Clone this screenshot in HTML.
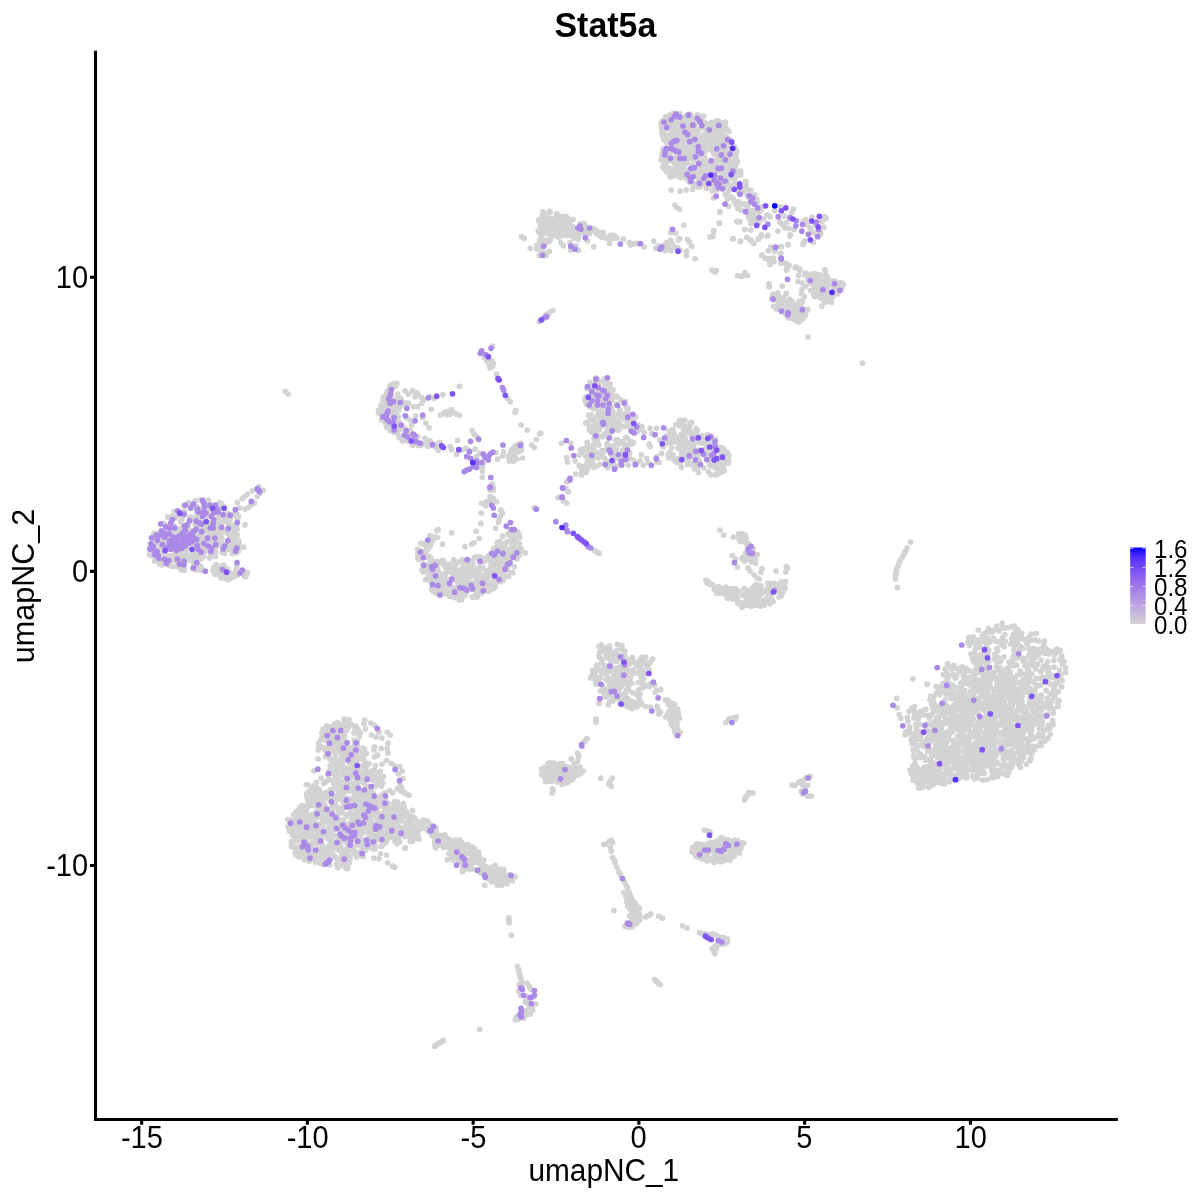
<!DOCTYPE html>
<html lang="en">
<head>
<meta charset="utf-8">
<title>Stat5a</title>
<style>
html,body{margin:0;padding:0;background:#fff;}
body{width:1200px;height:1200px;overflow:hidden;}
svg{display:block;will-change:transform;}
#pts circle{r:2.85px;}
text{font-family:"Liberation Sans",Arial,Helvetica,sans-serif;fill:#000;}
</style>
</head>
<body>
<svg width="1200" height="1200" viewBox="0 0 1200 1200">
<defs>
<linearGradient id="lg" x1="0" y1="1" x2="0" y2="0">
<stop offset="0" stop-color="#D3D3D3"/>
<stop offset="0.125" stop-color="#C8BCDA"/>
<stop offset="0.25" stop-color="#BBA5E0"/>
<stop offset="0.375" stop-color="#AD8EE6"/>
<stop offset="0.5" stop-color="#9D77EC"/>
<stop offset="0.625" stop-color="#8A60F1"/>
<stop offset="0.75" stop-color="#7248F6"/>
<stop offset="0.875" stop-color="#522DFB"/>
<stop offset="1" stop-color="#0000FF"/>
</linearGradient>
</defs>
<rect width="1200" height="1200" fill="#fff"/>
<!-- data points -->
<g id="pts"><g fill="#D3D3D3"><circle cx="1044.9" cy="741.1"/><circle cx="349.3" cy="762.7"/><circle cx="986.3" cy="712.1"/><circle cx="332.7" cy="842.9"/><circle cx="636.2" cy="916.2"/><circle cx="563.9" cy="225.1"/><circle cx="568.2" cy="229.0"/><circle cx="1014.7" cy="739.5"/><circle cx="482.3" cy="861.8"/><circle cx="968.3" cy="761.7"/><circle cx="952.6" cy="727.6"/><circle cx="541.7" cy="769.0"/><circle cx="201.7" cy="537.3"/><circle cx="767.5" cy="592.6"/><circle cx="933.4" cy="739.9"/><circle cx="572.0" cy="780.0"/><circle cx="217.8" cy="513.1"/><circle cx="435.1" cy="566.4"/><circle cx="396.5" cy="816.5"/><circle cx="921.4" cy="784.7"/><circle cx="704.2" cy="170.7"/><circle cx="398.5" cy="774.0"/><circle cx="1043.5" cy="666.1"/><circle cx="369.4" cy="837.1"/><circle cx="956.0" cy="743.9"/><circle cx="543.9" cy="228.0"/><circle cx="620.0" cy="416.6"/><circle cx="382.0" cy="407.6"/><circle cx="498.6" cy="545.3"/><circle cx="610.7" cy="454.1"/><circle cx="601.1" cy="644.8"/><circle cx="704.2" cy="830.0"/><circle cx="345.4" cy="814.5"/><circle cx="394.5" cy="400.7"/><circle cx="200.9" cy="569.0"/><circle cx="723.4" cy="843.3"/><circle cx="722.0" cy="133.4"/><circle cx="209.7" cy="534.1"/><circle cx="734.7" cy="185.3"/><circle cx="722.4" cy="169.9"/><circle cx="994.2" cy="677.2"/><circle cx="1014.5" cy="694.3"/><circle cx="1029.3" cy="676.4"/><circle cx="774.1" cy="297.3"/><circle cx="673.5" cy="721.0"/><circle cx="722.7" cy="124.3"/><circle cx="392.6" cy="409.5"/><circle cx="959.9" cy="668.3"/><circle cx="520.3" cy="450.6"/><circle cx="771.5" cy="258.5"/><circle cx="770.7" cy="584.0"/><circle cx="946.2" cy="732.9"/><circle cx="334.1" cy="760.6"/><circle cx="1010.1" cy="672.1"/><circle cx="402.9" cy="403.9"/><circle cx="961.6" cy="685.1"/><circle cx="564.4" cy="772.5"/><circle cx="198.2" cy="523.4"/><circle cx="695.0" cy="461.9"/><circle cx="392.2" cy="425.7"/><circle cx="716.3" cy="448.7"/><circle cx="367.5" cy="786.0"/><circle cx="453.3" cy="412.5"/><circle cx="224.1" cy="506.9"/><circle cx="313.7" cy="853.6"/><circle cx="697.3" cy="845.7"/><circle cx="431.1" cy="574.1"/><circle cx="674.6" cy="159.8"/><circle cx="679.1" cy="122.6"/><circle cx="729.9" cy="860.3"/><circle cx="359.8" cy="828.6"/><circle cx="346.9" cy="786.6"/><circle cx="443.2" cy="1040.4"/><circle cx="777.9" cy="292.9"/><circle cx="974.4" cy="671.0"/><circle cx="735.3" cy="588.5"/><circle cx="428.7" cy="541.6"/><circle cx="590.8" cy="678.0"/><circle cx="1028.5" cy="719.9"/><circle cx="423.0" cy="564.2"/><circle cx="1027.9" cy="692.5"/><circle cx="782.3" cy="224.2"/><circle cx="617.4" cy="396.9"/><circle cx="485.3" cy="869.0"/><circle cx="342.3" cy="744.3"/><circle cx="733.0" cy="238.8"/><circle cx="402.2" cy="771.0"/><circle cx="943.3" cy="758.7"/><circle cx="978.0" cy="687.9"/><circle cx="918.1" cy="780.3"/><circle cx="379.0" cy="732.0"/><circle cx="731.2" cy="163.5"/><circle cx="493.3" cy="498.3"/><circle cx="935.8" cy="725.2"/><circle cx="563.9" cy="231.1"/><circle cx="486.8" cy="571.5"/><circle cx="341.0" cy="748.1"/><circle cx="956.3" cy="747.0"/><circle cx="390.4" cy="430.7"/><circle cx="977.9" cy="752.4"/><circle cx="691.9" cy="171.3"/><circle cx="412.0" cy="841.2"/><circle cx="350.0" cy="783.0"/><circle cx="435.0" cy="561.9"/><circle cx="236.9" cy="566.0"/><circle cx="716.2" cy="948.8"/><circle cx="1000.8" cy="773.7"/><circle cx="1031.3" cy="681.6"/><circle cx="707.9" cy="444.2"/><circle cx="777.9" cy="231.2"/><circle cx="371.8" cy="800.2"/><circle cx="440.1" cy="591.9"/><circle cx="703.7" cy="116.0"/><circle cx="605.2" cy="670.7"/><circle cx="715.0" cy="463.7"/><circle cx="582.7" cy="452.3"/><circle cx="321.9" cy="733.0"/><circle cx="578.3" cy="250.3"/><circle cx="951.1" cy="698.3"/><circle cx="343.8" cy="774.0"/><circle cx="716.8" cy="144.4"/><circle cx="942.7" cy="774.0"/><circle cx="571.1" cy="232.2"/><circle cx="987.8" cy="655.1"/><circle cx="630.0" cy="908.8"/><circle cx="1021.7" cy="720.4"/><circle cx="354.6" cy="752.9"/><circle cx="668.3" cy="168.0"/><circle cx="678.9" cy="162.2"/><circle cx="745.5" cy="593.8"/><circle cx="228.6" cy="520.3"/><circle cx="638.5" cy="705.3"/><circle cx="913.6" cy="737.3"/><circle cx="497.7" cy="543.6"/><circle cx="727.0" cy="141.2"/><circle cx="176.0" cy="551.0"/><circle cx="1061.8" cy="656.2"/><circle cx="526.2" cy="996.4"/><circle cx="952.4" cy="684.9"/><circle cx="1031.9" cy="727.4"/><circle cx="952.3" cy="731.8"/><circle cx="485.1" cy="874.6"/><circle cx="341.1" cy="834.3"/><circle cx="783.1" cy="302.8"/><circle cx="1019.4" cy="757.5"/><circle cx="389.1" cy="401.5"/><circle cx="370.7" cy="772.4"/><circle cx="670.8" cy="710.3"/><circle cx="1000.4" cy="732.8"/><circle cx="718.6" cy="183.6"/><circle cx="446.8" cy="569.3"/><circle cx="549.8" cy="762.9"/><circle cx="1030.4" cy="749.2"/><circle cx="765.5" cy="258.5"/><circle cx="336.3" cy="825.8"/><circle cx="536.8" cy="249.0"/><circle cx="335.0" cy="841.7"/><circle cx="386.7" cy="396.1"/><circle cx="509.3" cy="922.8"/><circle cx="986.3" cy="719.8"/><circle cx="209.6" cy="558.1"/><circle cx="759.0" cy="602.8"/><circle cx="406.4" cy="816.8"/><circle cx="394.1" cy="814.2"/><circle cx="723.8" cy="937.5"/><circle cx="948.8" cy="675.7"/><circle cx="764.3" cy="604.6"/><circle cx="671.7" cy="437.7"/><circle cx="205.0" cy="506.9"/><circle cx="599.9" cy="391.5"/><circle cx="396.0" cy="419.1"/><circle cx="713.5" cy="152.7"/><circle cx="206.7" cy="513.4"/><circle cx="443.7" cy="839.2"/><circle cx="697.5" cy="116.0"/><circle cx="750.9" cy="555.2"/><circle cx="205.8" cy="543.7"/><circle cx="946.5" cy="742.8"/><circle cx="503.3" cy="451.7"/><circle cx="898.0" cy="566.0"/><circle cx="344.6" cy="754.1"/><circle cx="689.8" cy="424.7"/><circle cx="383.2" cy="831.8"/><circle cx="330.9" cy="853.6"/><circle cx="725.7" cy="844.1"/><circle cx="196.8" cy="538.2"/><circle cx="785.5" cy="301.3"/><circle cx="809.8" cy="227.8"/><circle cx="596.2" cy="721.2"/><circle cx="980.2" cy="738.5"/><circle cx="780.6" cy="585.9"/><circle cx="676.4" cy="145.1"/><circle cx="224.6" cy="547.3"/><circle cx="560.8" cy="242.5"/><circle cx="224.5" cy="518.3"/><circle cx="515.6" cy="555.2"/><circle cx="488.1" cy="591.5"/><circle cx="679.2" cy="156.9"/><circle cx="716.8" cy="446.4"/><circle cx="682.3" cy="453.9"/><circle cx="362.4" cy="854.1"/><circle cx="387.7" cy="862.8"/><circle cx="207.1" cy="526.2"/><circle cx="572.4" cy="769.9"/><circle cx="608.6" cy="402.9"/><circle cx="513.0" cy="876.5"/><circle cx="992.8" cy="774.9"/><circle cx="972.5" cy="718.0"/><circle cx="739.8" cy="221.3"/><circle cx="387.5" cy="807.7"/><circle cx="197.9" cy="522.3"/><circle cx="980.7" cy="773.3"/><circle cx="1024.7" cy="729.2"/><circle cx="476.1" cy="596.8"/><circle cx="160.7" cy="532.6"/><circle cx="602.9" cy="405.1"/><circle cx="306.9" cy="806.2"/><circle cx="1023.0" cy="751.6"/><circle cx="723.4" cy="181.3"/><circle cx="1038.6" cy="708.7"/><circle cx="1020.0" cy="674.4"/><circle cx="937.9" cy="727.1"/><circle cx="670.2" cy="115.1"/><circle cx="337.8" cy="867.8"/><circle cx="476.7" cy="456.7"/><circle cx="245.1" cy="524.9"/><circle cx="997.4" cy="685.7"/><circle cx="946.6" cy="673.2"/><circle cx="632.7" cy="912.5"/><circle cx="352.9" cy="761.6"/><circle cx="331.6" cy="849.9"/><circle cx="455.1" cy="587.5"/><circle cx="679.8" cy="116.0"/><circle cx="326.6" cy="816.7"/><circle cx="946.3" cy="681.4"/><circle cx="431.3" cy="565.0"/><circle cx="769.2" cy="286.8"/><circle cx="727.5" cy="856.7"/><circle cx="778.6" cy="591.2"/><circle cx="974.0" cy="725.8"/><circle cx="375.3" cy="840.5"/><circle cx="730.4" cy="174.0"/><circle cx="320.1" cy="802.1"/><circle cx="321.1" cy="778.1"/><circle cx="431.6" cy="835.0"/><circle cx="496.7" cy="374.2"/><circle cx="840.5" cy="282.7"/><circle cx="1042.9" cy="677.1"/><circle cx="394.3" cy="406.7"/><circle cx="680.9" cy="140.1"/><circle cx="896.7" cy="698.3"/><circle cx="605.2" cy="383.4"/><circle cx="980.4" cy="738.3"/><circle cx="444.7" cy="563.0"/><circle cx="966.9" cy="754.8"/><circle cx="933.3" cy="768.9"/><circle cx="568.3" cy="491.7"/><circle cx="1028.3" cy="682.6"/><circle cx="418.9" cy="442.7"/><circle cx="588.0" cy="398.9"/><circle cx="1013.0" cy="657.0"/><circle cx="978.1" cy="708.6"/><circle cx="788.8" cy="228.3"/><circle cx="964.6" cy="700.9"/><circle cx="487.2" cy="875.6"/><circle cx="954.3" cy="762.8"/><circle cx="344.3" cy="849.5"/><circle cx="706.8" cy="165.2"/><circle cx="730.0" cy="173.1"/><circle cx="911.3" cy="739.7"/><circle cx="454.8" cy="565.0"/><circle cx="391.1" cy="414.5"/><circle cx="520.1" cy="975.8"/><circle cx="389.9" cy="424.7"/><circle cx="315.9" cy="812.9"/><circle cx="709.9" cy="444.7"/><circle cx="222.2" cy="552.2"/><circle cx="991.9" cy="763.7"/><circle cx="979.1" cy="741.1"/><circle cx="693.6" cy="127.1"/><circle cx="340.6" cy="841.5"/><circle cx="331.8" cy="746.6"/><circle cx="734.5" cy="201.5"/><circle cx="930.1" cy="699.7"/><circle cx="1031.1" cy="640.2"/><circle cx="375.1" cy="845.5"/><circle cx="468.8" cy="860.8"/><circle cx="320.5" cy="837.4"/><circle cx="634.7" cy="904.3"/><circle cx="550.0" cy="232.3"/><circle cx="356.6" cy="728.3"/><circle cx="317.1" cy="837.3"/><circle cx="937.2" cy="769.2"/><circle cx="927.2" cy="684.2"/><circle cx="331.9" cy="766.1"/><circle cx="1013.2" cy="744.0"/><circle cx="710.6" cy="174.0"/><circle cx="988.4" cy="628.7"/><circle cx="802.9" cy="317.4"/><circle cx="621.4" cy="458.9"/><circle cx="1033.5" cy="648.7"/><circle cx="980.8" cy="745.1"/><circle cx="517.2" cy="448.4"/><circle cx="613.2" cy="446.1"/><circle cx="381.6" cy="824.5"/><circle cx="200.8" cy="559.0"/><circle cx="684.4" cy="124.6"/><circle cx="470.2" cy="589.3"/><circle cx="625.7" cy="692.9"/><circle cx="972.0" cy="641.1"/><circle cx="673.1" cy="115.8"/><circle cx="1004.9" cy="730.3"/><circle cx="592.7" cy="670.5"/><circle cx="774.0" cy="261.5"/><circle cx="725.1" cy="858.1"/><circle cx="928.0" cy="770.9"/><circle cx="1012.3" cy="686.6"/><circle cx="592.9" cy="458.5"/><circle cx="720.6" cy="593.0"/><circle cx="734.5" cy="589.6"/><circle cx="356.8" cy="800.6"/><circle cx="380.7" cy="819.8"/><circle cx="602.9" cy="420.6"/><circle cx="677.5" cy="170.3"/><circle cx="405.2" cy="848.2"/><circle cx="719.3" cy="157.1"/><circle cx="318.6" cy="826.7"/><circle cx="712.3" cy="135.4"/><circle cx="721.3" cy="845.6"/><circle cx="362.2" cy="846.7"/><circle cx="225.4" cy="544.9"/><circle cx="293.0" cy="842.3"/><circle cx="451.3" cy="409.7"/><circle cx="519.2" cy="984.5"/><circle cx="686.9" cy="143.9"/><circle cx="632.2" cy="659.5"/><circle cx="304.7" cy="837.2"/><circle cx="520.4" cy="445.8"/><circle cx="667.3" cy="714.9"/><circle cx="770.7" cy="262.2"/><circle cx="589.7" cy="233.6"/><circle cx="625.2" cy="460.5"/><circle cx="613.6" cy="677.5"/><circle cx="299.1" cy="857.0"/><circle cx="607.9" cy="390.7"/><circle cx="718.0" cy="592.9"/><circle cx="290.6" cy="828.8"/><circle cx="337.1" cy="746.9"/><circle cx="599.2" cy="553.3"/><circle cx="843.2" cy="284.8"/><circle cx="750.8" cy="223.7"/><circle cx="508.8" cy="920.6"/><circle cx="807.5" cy="785.0"/><circle cx="417.8" cy="834.8"/><circle cx="625.1" cy="445.3"/><circle cx="709.2" cy="460.2"/><circle cx="350.0" cy="858.7"/><circle cx="187.9" cy="543.3"/><circle cx="978.4" cy="773.1"/><circle cx="387.5" cy="393.5"/><circle cx="670.2" cy="171.1"/><circle cx="658.3" cy="245.8"/><circle cx="547.7" cy="228.5"/><circle cx="788.3" cy="318.0"/><circle cx="649.1" cy="672.5"/><circle cx="745.0" cy="203.8"/><circle cx="769.9" cy="584.2"/><circle cx="695.3" cy="456.6"/><circle cx="465.0" cy="546.7"/><circle cx="994.3" cy="699.9"/><circle cx="744.5" cy="541.5"/><circle cx="609.6" cy="417.4"/><circle cx="722.1" cy="126.3"/><circle cx="917.3" cy="783.1"/><circle cx="690.7" cy="151.8"/><circle cx="463.0" cy="570.8"/><circle cx="745.6" cy="184.2"/><circle cx="608.1" cy="669.8"/><circle cx="331.7" cy="792.1"/><circle cx="184.3" cy="561.6"/><circle cx="355.4" cy="786.2"/><circle cx="718.1" cy="848.7"/><circle cx="686.9" cy="115.2"/><circle cx="1047.6" cy="661.3"/><circle cx="896.6" cy="569.0"/><circle cx="711.1" cy="183.1"/><circle cx="750.5" cy="556.5"/><circle cx="641.8" cy="429.3"/><circle cx="616.7" cy="449.0"/><circle cx="615.3" cy="440.1"/><circle cx="958.4" cy="753.2"/><circle cx="680.1" cy="164.7"/><circle cx="476.3" cy="584.7"/><circle cx="781.6" cy="303.3"/><circle cx="1034.6" cy="738.2"/><circle cx="380.3" cy="826.2"/><circle cx="986.5" cy="720.4"/><circle cx="434.3" cy="589.9"/><circle cx="643.7" cy="678.8"/><circle cx="771.1" cy="598.2"/><circle cx="188.1" cy="524.7"/><circle cx="378.9" cy="410.6"/><circle cx="777.2" cy="584.5"/><circle cx="580.3" cy="449.7"/><circle cx="760.8" cy="210.2"/><circle cx="775.8" cy="591.2"/><circle cx="633.3" cy="460.0"/><circle cx="317.8" cy="806.9"/><circle cx="695.6" cy="148.9"/><circle cx="361.1" cy="840.1"/><circle cx="824.3" cy="284.1"/><circle cx="307.7" cy="784.5"/><circle cx="895.6" cy="575.0"/><circle cx="390.2" cy="812.9"/><circle cx="968.5" cy="769.8"/><circle cx="626.8" cy="664.8"/><circle cx="388.6" cy="402.5"/><circle cx="1028.4" cy="729.7"/><circle cx="960.9" cy="715.6"/><circle cx="395.2" cy="386.2"/><circle cx="221.7" cy="503.8"/><circle cx="1010.0" cy="682.1"/><circle cx="731.2" cy="588.7"/><circle cx="734.3" cy="856.1"/><circle cx="1031.2" cy="692.0"/><circle cx="674.7" cy="719.2"/><circle cx="220.1" cy="538.2"/><circle cx="225.8" cy="548.3"/><circle cx="590.0" cy="382.3"/><circle cx="810.2" cy="274.3"/><circle cx="686.3" cy="141.0"/><circle cx="814.0" cy="283.6"/><circle cx="471.3" cy="565.7"/><circle cx="702.5" cy="138.1"/><circle cx="593.1" cy="447.8"/><circle cx="365.0" cy="780.5"/><circle cx="665.3" cy="169.5"/><circle cx="697.8" cy="466.3"/><circle cx="696.1" cy="851.9"/><circle cx="417.8" cy="557.4"/><circle cx="726.0" cy="194.7"/><circle cx="502.8" cy="560.8"/><circle cx="395.9" cy="425.3"/><circle cx="673.8" cy="141.7"/><circle cx="974.9" cy="691.9"/><circle cx="304.5" cy="839.0"/><circle cx="726.1" cy="849.8"/><circle cx="711.0" cy="456.8"/><circle cx="224.1" cy="507.6"/><circle cx="388.5" cy="818.9"/><circle cx="237.1" cy="535.2"/><circle cx="1009.3" cy="755.2"/><circle cx="618.6" cy="421.9"/><circle cx="603.1" cy="232.2"/><circle cx="725.8" cy="176.8"/><circle cx="590.9" cy="446.3"/><circle cx="294.9" cy="824.2"/><circle cx="941.5" cy="740.7"/><circle cx="987.1" cy="758.9"/><circle cx="936.6" cy="772.5"/><circle cx="630.0" cy="895.0"/><circle cx="782.3" cy="593.2"/><circle cx="645.5" cy="706.5"/><circle cx="200.7" cy="522.3"/><circle cx="706.3" cy="844.8"/><circle cx="621.5" cy="649.0"/><circle cx="354.6" cy="783.2"/><circle cx="201.5" cy="534.1"/><circle cx="952.6" cy="674.7"/><circle cx="826.8" cy="294.2"/><circle cx="587.3" cy="231.8"/><circle cx="220.3" cy="523.1"/><circle cx="627.4" cy="706.6"/><circle cx="963.6" cy="702.6"/><circle cx="439.7" cy="442.5"/><circle cx="483.5" cy="558.9"/><circle cx="696.3" cy="121.2"/><circle cx="206.5" cy="522.2"/><circle cx="309.1" cy="795.0"/><circle cx="1009.0" cy="734.8"/><circle cx="636.2" cy="907.5"/><circle cx="623.3" cy="238.9"/><circle cx="753.1" cy="587.7"/><circle cx="372.9" cy="780.4"/><circle cx="768.3" cy="250.5"/><circle cx="336.0" cy="731.3"/><circle cx="1023.6" cy="721.7"/><circle cx="168.3" cy="560.5"/><circle cx="445.9" cy="837.7"/><circle cx="1024.2" cy="724.3"/><circle cx="944.9" cy="742.5"/><circle cx="458.8" cy="861.4"/><circle cx="417.2" cy="825.2"/><circle cx="981.6" cy="767.2"/><circle cx="704.6" cy="122.7"/><circle cx="957.3" cy="729.2"/><circle cx="1015.3" cy="726.0"/><circle cx="987.6" cy="700.7"/><circle cx="164.1" cy="547.3"/><circle cx="672.1" cy="122.0"/><circle cx="1007.1" cy="686.1"/><circle cx="1014.3" cy="637.3"/><circle cx="736.4" cy="163.6"/><circle cx="511.9" cy="532.3"/><circle cx="679.8" cy="162.4"/><circle cx="708.8" cy="934.5"/><circle cx="988.0" cy="757.8"/><circle cx="536.3" cy="439.5"/><circle cx="707.6" cy="133.2"/><circle cx="174.7" cy="532.1"/><circle cx="836.4" cy="287.0"/><circle cx="354.9" cy="851.2"/><circle cx="681.9" cy="117.7"/><circle cx="300.2" cy="807.0"/><circle cx="304.5" cy="830.0"/><circle cx="677.6" cy="459.1"/><circle cx="196.2" cy="542.7"/><circle cx="370.3" cy="805.1"/><circle cx="1017.8" cy="644.2"/><circle cx="193.6" cy="550.6"/><circle cx="387.2" cy="748.5"/><circle cx="430.0" cy="440.8"/><circle cx="810.6" cy="277.8"/><circle cx="789.6" cy="299.0"/><circle cx="994.0" cy="689.2"/><circle cx="918.3" cy="719.1"/><circle cx="811.9" cy="279.4"/><circle cx="679.4" cy="718.1"/><circle cx="338.6" cy="797.0"/><circle cx="209.8" cy="504.7"/><circle cx="496.1" cy="565.6"/><circle cx="389.3" cy="824.2"/><circle cx="433.3" cy="836.6"/><circle cx="692.4" cy="847.6"/><circle cx="327.0" cy="856.0"/><circle cx="159.8" cy="563.5"/><circle cx="684.1" cy="140.9"/><circle cx="966.4" cy="697.4"/><circle cx="551.9" cy="227.8"/><circle cx="635.0" cy="902.5"/><circle cx="609.9" cy="434.1"/><circle cx="1050.6" cy="674.9"/><circle cx="394.6" cy="821.7"/><circle cx="357.8" cy="769.4"/><circle cx="962.4" cy="760.0"/><circle cx="601.7" cy="237.0"/><circle cx="719.7" cy="457.3"/><circle cx="363.6" cy="828.2"/><circle cx="920.0" cy="788.1"/><circle cx="943.2" cy="755.6"/><circle cx="954.8" cy="699.1"/><circle cx="550.2" cy="220.6"/><circle cx="989.9" cy="680.9"/><circle cx="735.9" cy="849.6"/><circle cx="817.0" cy="276.8"/><circle cx="495.9" cy="555.2"/><circle cx="758.8" cy="211.8"/><circle cx="201.8" cy="542.8"/><circle cx="497.9" cy="542.6"/><circle cx="445.3" cy="841.4"/><circle cx="588.2" cy="458.1"/><circle cx="342.9" cy="793.3"/><circle cx="951.4" cy="757.4"/><circle cx="1026.9" cy="675.1"/><circle cx="227.4" cy="544.1"/><circle cx="956.6" cy="753.8"/><circle cx="978.7" cy="759.1"/><circle cx="1010.8" cy="691.2"/><circle cx="354.8" cy="853.4"/><circle cx="518.6" cy="548.6"/><circle cx="650.5" cy="707.0"/><circle cx="344.9" cy="743.5"/><circle cx="1000.8" cy="722.9"/><circle cx="1040.3" cy="678.5"/><circle cx="534.2" cy="447.5"/><circle cx="629.7" cy="458.6"/><circle cx="673.9" cy="459.7"/><circle cx="1002.2" cy="623.2"/><circle cx="1012.1" cy="682.2"/><circle cx="1053.8" cy="651.7"/><circle cx="163.6" cy="523.3"/><circle cx="1040.6" cy="685.2"/><circle cx="619.8" cy="658.5"/><circle cx="950.4" cy="731.4"/><circle cx="174.7" cy="529.4"/><circle cx="685.8" cy="120.0"/><circle cx="387.2" cy="732.0"/><circle cx="986.4" cy="686.3"/><circle cx="182.8" cy="545.9"/><circle cx="716.0" cy="448.8"/><circle cx="602.0" cy="236.8"/><circle cx="320.7" cy="806.9"/><circle cx="670.7" cy="120.8"/><circle cx="416.7" cy="392.5"/><circle cx="718.8" cy="121.1"/><circle cx="562.5" cy="776.5"/><circle cx="806.2" cy="777.5"/><circle cx="729.4" cy="159.8"/><circle cx="404.5" cy="792.0"/><circle cx="513.5" cy="554.8"/><circle cx="432.9" cy="828.9"/><circle cx="609.0" cy="413.4"/><circle cx="770.6" cy="589.8"/><circle cx="468.3" cy="450.0"/><circle cx="386.4" cy="831.8"/><circle cx="714.3" cy="588.2"/><circle cx="199.5" cy="524.4"/><circle cx="715.3" cy="841.9"/><circle cx="504.8" cy="558.9"/><circle cx="468.8" cy="845.0"/><circle cx="990.3" cy="717.5"/><circle cx="927.8" cy="715.7"/><circle cx="598.5" cy="383.8"/><circle cx="594.1" cy="467.1"/><circle cx="1026.6" cy="712.4"/><circle cx="682.0" cy="457.1"/><circle cx="355.8" cy="788.1"/><circle cx="609.3" cy="411.8"/><circle cx="951.1" cy="707.0"/><circle cx="198.4" cy="528.7"/><circle cx="514.1" cy="550.1"/><circle cx="318.7" cy="746.0"/><circle cx="668.9" cy="431.2"/><circle cx="1007.0" cy="680.9"/><circle cx="455.5" cy="855.1"/><circle cx="399.2" cy="437.7"/><circle cx="813.5" cy="288.0"/><circle cx="983.1" cy="660.8"/><circle cx="992.0" cy="753.6"/><circle cx="348.8" cy="774.8"/><circle cx="461.2" cy="579.7"/><circle cx="728.3" cy="462.9"/><circle cx="416.9" cy="828.9"/><circle cx="1035.4" cy="653.4"/><circle cx="397.2" cy="407.2"/><circle cx="625.3" cy="670.2"/><circle cx="805.0" cy="786.2"/><circle cx="928.8" cy="787.3"/><circle cx="666.8" cy="124.0"/><circle cx="1013.9" cy="716.8"/><circle cx="773.8" cy="584.9"/><circle cx="713.5" cy="230.7"/><circle cx="688.0" cy="448.5"/><circle cx="696.5" cy="450.7"/><circle cx="174.5" cy="517.2"/><circle cx="572.9" cy="219.4"/><circle cx="619.8" cy="409.8"/><circle cx="813.5" cy="242.0"/><circle cx="1003.1" cy="765.6"/><circle cx="724.2" cy="592.1"/><circle cx="396.1" cy="827.2"/><circle cx="216.8" cy="546.6"/><circle cx="666.8" cy="142.6"/><circle cx="664.5" cy="154.3"/><circle cx="300.4" cy="827.1"/><circle cx="435.9" cy="830.4"/><circle cx="720.0" cy="530.0"/><circle cx="336.5" cy="766.9"/><circle cx="698.0" cy="134.1"/><circle cx="383.3" cy="776.5"/><circle cx="974.1" cy="745.5"/><circle cx="446.6" cy="845.2"/><circle cx="690.4" cy="114.0"/><circle cx="982.3" cy="696.6"/><circle cx="1022.8" cy="755.8"/><circle cx="194.1" cy="559.9"/><circle cx="443.4" cy="578.2"/><circle cx="379.2" cy="836.6"/><circle cx="166.7" cy="537.9"/><circle cx="391.1" cy="392.7"/><circle cx="480.1" cy="556.9"/><circle cx="976.6" cy="707.1"/><circle cx="721.5" cy="148.4"/><circle cx="544.5" cy="213.6"/><circle cx="426.1" cy="444.5"/><circle cx="564.1" cy="234.4"/><circle cx="223.5" cy="565.1"/><circle cx="1012.9" cy="634.8"/><circle cx="423.4" cy="552.5"/><circle cx="495.8" cy="452.5"/><circle cx="335.1" cy="755.2"/><circle cx="390.9" cy="410.7"/><circle cx="914.6" cy="742.5"/><circle cx="497.5" cy="459.2"/><circle cx="472.1" cy="851.8"/><circle cx="606.2" cy="696.7"/><circle cx="338.3" cy="841.7"/><circle cx="941.7" cy="730.3"/><circle cx="1014.3" cy="729.3"/><circle cx="317.2" cy="829.2"/><circle cx="563.6" cy="231.7"/><circle cx="708.3" cy="581.5"/><circle cx="598.7" cy="234.7"/><circle cx="995.6" cy="739.1"/><circle cx="957.3" cy="774.9"/><circle cx="495.6" cy="555.9"/><circle cx="981.6" cy="743.6"/><circle cx="1016.8" cy="697.4"/><circle cx="487.9" cy="868.0"/><circle cx="940.4" cy="757.3"/><circle cx="928.5" cy="731.4"/><circle cx="959.6" cy="693.0"/><circle cx="321.3" cy="841.1"/><circle cx="433.3" cy="536.7"/><circle cx="575.8" cy="245.8"/><circle cx="485.3" cy="574.7"/><circle cx="428.5" cy="556.3"/><circle cx="339.1" cy="733.2"/><circle cx="1011.8" cy="709.9"/><circle cx="346.4" cy="839.0"/><circle cx="583.0" cy="232.5"/><circle cx="619.6" cy="443.7"/><circle cx="718.5" cy="586.7"/><circle cx="687.0" cy="928.0"/><circle cx="670.9" cy="705.2"/><circle cx="388.2" cy="828.1"/><circle cx="502.3" cy="882.9"/><circle cx="593.7" cy="408.7"/><circle cx="998.4" cy="732.6"/><circle cx="295.1" cy="813.8"/><circle cx="680.2" cy="420.0"/><circle cx="292.0" cy="824.4"/><circle cx="717.4" cy="130.5"/><circle cx="549.2" cy="221.7"/><circle cx="983.1" cy="742.3"/><circle cx="222.6" cy="530.4"/><circle cx="183.6" cy="567.7"/><circle cx="520.4" cy="550.6"/><circle cx="585.8" cy="233.4"/><circle cx="914.5" cy="733.3"/><circle cx="733.3" cy="198.9"/><circle cx="670.0" cy="115.2"/><circle cx="996.1" cy="770.0"/><circle cx="719.1" cy="860.8"/><circle cx="785.7" cy="311.4"/><circle cx="986.5" cy="730.2"/><circle cx="629.5" cy="893.2"/><circle cx="158.1" cy="535.4"/><circle cx="518.8" cy="534.4"/><circle cx="995.1" cy="707.7"/><circle cx="1000.0" cy="751.9"/><circle cx="650.0" cy="446.7"/><circle cx="213.2" cy="541.1"/><circle cx="292.3" cy="831.2"/><circle cx="1021.0" cy="686.1"/><circle cx="1023.6" cy="726.0"/><circle cx="341.1" cy="839.2"/><circle cx="779.8" cy="221.9"/><circle cx="959.7" cy="671.1"/><circle cx="169.0" cy="529.1"/><circle cx="463.4" cy="569.1"/><circle cx="420.1" cy="445.3"/><circle cx="630.7" cy="427.9"/><circle cx="481.8" cy="557.9"/><circle cx="1011.0" cy="736.7"/><circle cx="365.4" cy="796.9"/><circle cx="1035.9" cy="669.0"/><circle cx="630.8" cy="441.7"/><circle cx="680.9" cy="133.0"/><circle cx="745.5" cy="797.5"/><circle cx="433.5" cy="591.6"/><circle cx="721.1" cy="837.7"/><circle cx="594.4" cy="229.6"/><circle cx="802.0" cy="283.0"/><circle cx="218.4" cy="518.1"/><circle cx="986.0" cy="738.3"/><circle cx="807.6" cy="309.4"/><circle cx="173.9" cy="532.9"/><circle cx="686.2" cy="190.0"/><circle cx="545.1" cy="220.8"/><circle cx="152.5" cy="555.4"/><circle cx="716.5" cy="120.8"/><circle cx="711.9" cy="454.6"/><circle cx="515.8" cy="410.5"/><circle cx="712.4" cy="124.2"/><circle cx="215.7" cy="524.9"/><circle cx="192.3" cy="537.7"/><circle cx="1021.8" cy="711.1"/><circle cx="590.3" cy="465.0"/><circle cx="720.7" cy="185.4"/><circle cx="725.2" cy="122.1"/><circle cx="632.5" cy="673.5"/><circle cx="344.6" cy="723.6"/><circle cx="667.4" cy="125.4"/><circle cx="155.4" cy="543.6"/><circle cx="353.6" cy="776.6"/><circle cx="401.6" cy="835.1"/><circle cx="343.0" cy="806.3"/><circle cx="349.0" cy="719.5"/><circle cx="575.2" cy="460.9"/><circle cx="341.2" cy="758.2"/><circle cx="747.9" cy="598.2"/><circle cx="996.6" cy="771.5"/><circle cx="340.2" cy="796.4"/><circle cx="500.6" cy="556.9"/><circle cx="681.7" cy="141.7"/><circle cx="313.5" cy="840.4"/><circle cx="347.4" cy="724.6"/><circle cx="351.5" cy="724.8"/><circle cx="667.2" cy="128.8"/><circle cx="667.9" cy="700.4"/><circle cx="383.5" cy="398.0"/><circle cx="297.6" cy="850.7"/><circle cx="413.5" cy="829.3"/><circle cx="997.8" cy="650.9"/><circle cx="991.6" cy="707.4"/><circle cx="324.0" cy="797.5"/><circle cx="977.4" cy="724.0"/><circle cx="673.5" cy="113.2"/><circle cx="313.1" cy="785.8"/><circle cx="716.0" cy="181.2"/><circle cx="614.4" cy="689.3"/><circle cx="674.9" cy="132.6"/><circle cx="215.9" cy="534.7"/><circle cx="778.5" cy="585.6"/><circle cx="730.9" cy="593.8"/><circle cx="585.4" cy="400.7"/><circle cx="915.9" cy="772.2"/><circle cx="610.2" cy="689.9"/><circle cx="968.2" cy="729.3"/><circle cx="624.7" cy="651.1"/><circle cx="721.5" cy="849.4"/><circle cx="590.2" cy="465.9"/><circle cx="701.2" cy="443.0"/><circle cx="341.4" cy="736.9"/><circle cx="619.2" cy="677.1"/><circle cx="320.6" cy="811.9"/><circle cx="599.2" cy="429.5"/><circle cx="748.5" cy="197.5"/><circle cx="511.5" cy="538.9"/><circle cx="1015.0" cy="712.9"/><circle cx="720.7" cy="840.1"/><circle cx="1060.0" cy="659.6"/><circle cx="585.5" cy="448.4"/><circle cx="153.2" cy="545.2"/><circle cx="371.4" cy="846.0"/><circle cx="632.9" cy="662.2"/><circle cx="554.5" cy="223.2"/><circle cx="971.2" cy="682.5"/><circle cx="602.2" cy="451.5"/><circle cx="987.0" cy="686.0"/><circle cx="753.2" cy="595.6"/><circle cx="360.6" cy="805.4"/><circle cx="325.8" cy="832.7"/><circle cx="609.1" cy="388.5"/><circle cx="629.7" cy="453.0"/><circle cx="833.2" cy="296.1"/><circle cx="747.5" cy="275.5"/><circle cx="611.0" cy="662.4"/><circle cx="602.1" cy="425.4"/><circle cx="179.8" cy="560.1"/><circle cx="427.3" cy="549.8"/><circle cx="422.1" cy="570.4"/><circle cx="404.4" cy="833.6"/><circle cx="687.8" cy="125.9"/><circle cx="733.4" cy="537.0"/><circle cx="683.9" cy="435.9"/><circle cx="674.3" cy="162.1"/><circle cx="574.1" cy="231.8"/><circle cx="1018.7" cy="717.2"/><circle cx="395.4" cy="810.8"/><circle cx="801.9" cy="317.7"/><circle cx="422.1" cy="828.2"/><circle cx="989.8" cy="722.0"/><circle cx="1007.0" cy="668.3"/><circle cx="729.7" cy="149.4"/><circle cx="397.7" cy="398.1"/><circle cx="503.5" cy="869.6"/><circle cx="811.2" cy="796.2"/><circle cx="247.4" cy="572.9"/><circle cx="718.1" cy="846.1"/><circle cx="514.3" cy="566.8"/><circle cx="691.8" cy="435.9"/><circle cx="981.9" cy="686.3"/><circle cx="427.6" cy="565.9"/><circle cx="595.9" cy="435.2"/><circle cx="382.4" cy="416.1"/><circle cx="607.0" cy="445.2"/><circle cx="496.8" cy="580.1"/><circle cx="824.7" cy="281.7"/><circle cx="987.0" cy="658.5"/><circle cx="346.5" cy="798.0"/><circle cx="423.2" cy="823.1"/><circle cx="1050.3" cy="694.1"/><circle cx="744.0" cy="604.1"/><circle cx="738.8" cy="533.9"/><circle cx="900.8" cy="718.3"/><circle cx="949.4" cy="694.6"/><circle cx="186.9" cy="524.9"/><circle cx="529.4" cy="1008.3"/><circle cx="433.8" cy="834.2"/><circle cx="317.8" cy="860.8"/><circle cx="500.4" cy="869.0"/><circle cx="725.5" cy="161.4"/><circle cx="502.3" cy="545.3"/><circle cx="938.6" cy="746.8"/><circle cx="1057.2" cy="679.6"/><circle cx="704.9" cy="128.6"/><circle cx="228.4" cy="516.6"/><circle cx="199.5" cy="567.7"/><circle cx="382.8" cy="783.3"/><circle cx="223.4" cy="572.1"/><circle cx="670.6" cy="160.4"/><circle cx="735.0" cy="719.5"/><circle cx="701.2" cy="853.8"/><circle cx="353.0" cy="817.8"/><circle cx="195.4" cy="569.2"/><circle cx="735.2" cy="172.2"/><circle cx="683.6" cy="166.5"/><circle cx="159.6" cy="563.8"/><circle cx="721.5" cy="588.3"/><circle cx="356.6" cy="806.0"/><circle cx="624.5" cy="882.0"/><circle cx="544.5" cy="254.9"/><circle cx="402.3" cy="441.1"/><circle cx="627.5" cy="888.0"/><circle cx="908.0" cy="721.5"/><circle cx="975.2" cy="687.4"/><circle cx="238.9" cy="543.8"/><circle cx="787.4" cy="568.0"/><circle cx="760.1" cy="606.2"/><circle cx="992.3" cy="746.4"/><circle cx="1027.0" cy="746.6"/><circle cx="155.1" cy="538.2"/><circle cx="625.3" cy="401.7"/><circle cx="600.5" cy="233.3"/><circle cx="306.5" cy="809.3"/><circle cx="173.6" cy="539.7"/><circle cx="475.8" cy="571.6"/><circle cx="295.8" cy="812.2"/><circle cx="229.6" cy="536.8"/><circle cx="801.8" cy="302.2"/><circle cx="574.2" cy="230.3"/><circle cx="678.4" cy="714.5"/><circle cx="785.5" cy="581.5"/><circle cx="393.2" cy="405.9"/><circle cx="399.3" cy="814.5"/><circle cx="417.6" cy="828.4"/><circle cx="493.5" cy="877.2"/><circle cx="378.8" cy="412.3"/><circle cx="743.3" cy="191.7"/><circle cx="692.9" cy="120.1"/><circle cx="362.5" cy="753.9"/><circle cx="386.8" cy="416.7"/><circle cx="716.2" cy="935.0"/><circle cx="564.1" cy="216.3"/><circle cx="1054.1" cy="667.1"/><circle cx="1001.4" cy="744.8"/><circle cx="994.4" cy="757.8"/><circle cx="423.3" cy="400.0"/><circle cx="769.0" cy="284.0"/><circle cx="961.2" cy="760.6"/><circle cx="689.9" cy="182.2"/><circle cx="438.6" cy="561.7"/><circle cx="473.6" cy="854.9"/><circle cx="784.1" cy="309.2"/><circle cx="707.9" cy="441.9"/><circle cx="349.0" cy="863.2"/><circle cx="907.4" cy="717.7"/><circle cx="968.2" cy="705.2"/><circle cx="335.6" cy="786.8"/><circle cx="545.2" cy="241.7"/><circle cx="1015.2" cy="699.8"/><circle cx="701.2" cy="163.8"/><circle cx="336.0" cy="828.8"/><circle cx="825.8" cy="275.4"/><circle cx="691.7" cy="246.2"/><circle cx="389.4" cy="408.6"/><circle cx="999.5" cy="699.8"/><circle cx="488.1" cy="878.7"/><circle cx="602.9" cy="452.9"/><circle cx="158.7" cy="549.2"/><circle cx="227.8" cy="549.5"/><circle cx="826.7" cy="283.6"/><circle cx="1009.1" cy="731.7"/><circle cx="636.6" cy="923.2"/><circle cx="1004.4" cy="744.5"/><circle cx="437.7" cy="569.7"/><circle cx="481.2" cy="593.4"/><circle cx="1000.5" cy="677.4"/><circle cx="673.7" cy="706.9"/><circle cx="719.6" cy="123.0"/><circle cx="970.9" cy="736.6"/><circle cx="943.2" cy="705.9"/><circle cx="1018.2" cy="751.9"/><circle cx="459.1" cy="586.2"/><circle cx="613.7" cy="652.5"/><circle cx="1021.9" cy="743.9"/><circle cx="996.3" cy="754.9"/><circle cx="519.5" cy="555.0"/><circle cx="553.2" cy="778.7"/><circle cx="729.8" cy="185.2"/><circle cx="455.5" cy="840.0"/><circle cx="819.7" cy="296.0"/><circle cx="958.2" cy="726.8"/><circle cx="370.7" cy="843.6"/><circle cx="336.3" cy="734.3"/><circle cx="544.8" cy="242.0"/><circle cx="314.4" cy="794.3"/><circle cx="610.0" cy="781.2"/><circle cx="303.5" cy="806.9"/><circle cx="675.8" cy="233.3"/><circle cx="961.5" cy="708.8"/><circle cx="909.1" cy="711.6"/><circle cx="667.0" cy="161.8"/><circle cx="483.4" cy="568.1"/><circle cx="663.2" cy="168.0"/><circle cx="974.3" cy="758.7"/><circle cx="685.2" cy="426.6"/><circle cx="362.0" cy="780.9"/><circle cx="473.3" cy="857.7"/><circle cx="962.2" cy="693.1"/><circle cx="488.8" cy="589.2"/><circle cx="208.5" cy="500.5"/><circle cx="683.6" cy="443.6"/><circle cx="467.7" cy="565.5"/><circle cx="347.4" cy="867.4"/><circle cx="1013.9" cy="686.5"/><circle cx="965.2" cy="748.8"/><circle cx="579.4" cy="228.1"/><circle cx="340.6" cy="791.3"/><circle cx="507.1" cy="541.8"/><circle cx="585.4" cy="226.3"/><circle cx="541.2" cy="253.9"/><circle cx="704.7" cy="148.1"/><circle cx="693.2" cy="183.2"/><circle cx="749.6" cy="605.7"/><circle cx="774.8" cy="210.8"/><circle cx="236.4" cy="552.9"/><circle cx="317.1" cy="811.1"/><circle cx="605.3" cy="463.2"/><circle cx="211.3" cy="550.9"/><circle cx="723.0" cy="157.3"/><circle cx="625.7" cy="451.5"/><circle cx="333.7" cy="818.2"/><circle cx="432.2" cy="588.6"/><circle cx="411.2" cy="824.8"/><circle cx="689.3" cy="450.5"/><circle cx="964.8" cy="715.5"/><circle cx="563.5" cy="222.2"/><circle cx="191.3" cy="507.8"/><circle cx="907.0" cy="548.0"/><circle cx="598.0" cy="442.9"/><circle cx="370.8" cy="723.0"/><circle cx="812.3" cy="275.7"/><circle cx="673.8" cy="432.7"/><circle cx="239.6" cy="508.1"/><circle cx="762.2" cy="206.9"/><circle cx="1010.9" cy="739.4"/><circle cx="791.4" cy="318.0"/><circle cx="707.1" cy="455.2"/><circle cx="338.1" cy="807.9"/><circle cx="938.5" cy="780.1"/><circle cx="730.9" cy="140.2"/><circle cx="1055.2" cy="693.5"/><circle cx="732.7" cy="593.2"/><circle cx="724.2" cy="449.0"/><circle cx="718.5" cy="171.0"/><circle cx="732.5" cy="718.0"/><circle cx="352.9" cy="839.2"/><circle cx="924.0" cy="746.7"/><circle cx="597.6" cy="439.1"/><circle cx="194.0" cy="537.0"/><circle cx="595.2" cy="680.0"/><circle cx="360.1" cy="775.8"/><circle cx="205.7" cy="541.9"/><circle cx="735.2" cy="168.2"/><circle cx="966.0" cy="668.6"/><circle cx="423.1" cy="565.1"/><circle cx="965.3" cy="768.2"/><circle cx="468.4" cy="575.8"/><circle cx="510.6" cy="452.1"/><circle cx="495.3" cy="865.3"/><circle cx="650.0" cy="428.3"/><circle cx="679.0" cy="125.6"/><circle cx="397.4" cy="407.7"/><circle cx="981.1" cy="695.8"/><circle cx="290.0" cy="823.5"/><circle cx="235.9" cy="570.0"/><circle cx="233.3" cy="546.9"/><circle cx="430.0" cy="396.7"/><circle cx="502.2" cy="560.9"/><circle cx="644.5" cy="660.6"/><circle cx="212.0" cy="528.7"/><circle cx="755.9" cy="603.6"/><circle cx="678.6" cy="146.1"/><circle cx="509.2" cy="455.4"/><circle cx="405.0" cy="428.5"/><circle cx="992.2" cy="701.1"/><circle cx="701.6" cy="844.3"/><circle cx="213.5" cy="534.5"/><circle cx="682.0" cy="131.5"/><circle cx="200.4" cy="553.4"/><circle cx="810.5" cy="290.6"/><circle cx="205.9" cy="546.9"/><circle cx="683.2" cy="426.0"/><circle cx="585.0" cy="741.2"/><circle cx="915.8" cy="724.2"/><circle cx="770.1" cy="264.5"/><circle cx="490.1" cy="586.9"/><circle cx="689.7" cy="180.1"/><circle cx="501.6" cy="562.6"/><circle cx="377.3" cy="839.7"/><circle cx="470.7" cy="864.7"/><circle cx="554.9" cy="765.2"/><circle cx="675.2" cy="140.5"/><circle cx="204.6" cy="528.3"/><circle cx="475.9" cy="854.2"/><circle cx="716.6" cy="844.9"/><circle cx="196.6" cy="520.1"/><circle cx="301.5" cy="809.3"/><circle cx="940.9" cy="722.5"/><circle cx="460.9" cy="585.4"/><circle cx="514.6" cy="539.9"/><circle cx="428.4" cy="442.6"/><circle cx="675.4" cy="723.1"/><circle cx="344.8" cy="806.9"/><circle cx="328.2" cy="827.9"/><circle cx="807.5" cy="276.9"/><circle cx="978.7" cy="756.1"/><circle cx="698.1" cy="441.9"/><circle cx="770.8" cy="590.5"/><circle cx="733.0" cy="165.3"/><circle cx="992.8" cy="757.3"/><circle cx="683.3" cy="447.8"/><circle cx="383.3" cy="813.0"/><circle cx="344.5" cy="836.7"/><circle cx="509.1" cy="541.7"/><circle cx="722.3" cy="841.1"/><circle cx="312.5" cy="799.3"/><circle cx="697.5" cy="462.6"/><circle cx="521.7" cy="236.7"/><circle cx="935.7" cy="779.7"/><circle cx="1023.1" cy="673.6"/><circle cx="993.6" cy="697.9"/><circle cx="225.7" cy="545.3"/><circle cx="958.6" cy="730.6"/><circle cx="692.6" cy="464.0"/><circle cx="331.7" cy="828.3"/><circle cx="386.5" cy="427.1"/><circle cx="635.0" cy="923.8"/><circle cx="671.8" cy="176.6"/><circle cx="1004.9" cy="634.6"/><circle cx="731.0" cy="196.8"/><circle cx="566.9" cy="223.6"/><circle cx="976.0" cy="704.3"/><circle cx="582.3" cy="228.5"/><circle cx="387.3" cy="427.5"/><circle cx="934.7" cy="704.8"/><circle cx="545.9" cy="222.3"/><circle cx="493.3" cy="488.3"/><circle cx="216.7" cy="538.1"/><circle cx="443.0" cy="589.8"/><circle cx="512.6" cy="531.1"/><circle cx="499.8" cy="544.7"/><circle cx="520.8" cy="995.3"/><circle cx="450.0" cy="446.7"/><circle cx="830.0" cy="297.9"/><circle cx="621.8" cy="415.3"/><circle cx="959.9" cy="758.9"/><circle cx="979.7" cy="647.5"/><circle cx="829.4" cy="294.3"/><circle cx="712.6" cy="162.4"/><circle cx="933.7" cy="735.9"/><circle cx="337.3" cy="722.5"/><circle cx="676.8" cy="735.6"/><circle cx="521.8" cy="982.3"/><circle cx="972.6" cy="658.9"/><circle cx="388.9" cy="392.3"/><circle cx="463.8" cy="589.3"/><circle cx="939.7" cy="777.8"/><circle cx="769.9" cy="595.5"/><circle cx="748.0" cy="568.0"/><circle cx="1058.1" cy="691.7"/><circle cx="939.9" cy="751.3"/><circle cx="577.9" cy="770.1"/><circle cx="683.1" cy="129.3"/><circle cx="671.5" cy="447.8"/><circle cx="959.1" cy="770.2"/><circle cx="611.4" cy="400.1"/><circle cx="954.8" cy="776.0"/><circle cx="384.5" cy="396.3"/><circle cx="715.0" cy="953.8"/><circle cx="916.7" cy="770.0"/><circle cx="508.6" cy="534.7"/><circle cx="684.0" cy="146.2"/><circle cx="665.0" cy="250.8"/><circle cx="824.1" cy="300.6"/><circle cx="661.7" cy="453.3"/><circle cx="706.0" cy="580.0"/><circle cx="677.3" cy="148.5"/><circle cx="517.5" cy="966.7"/><circle cx="492.0" cy="878.3"/><circle cx="235.4" cy="515.5"/><circle cx="165.4" cy="539.9"/><circle cx="756.7" cy="221.3"/><circle cx="1054.3" cy="688.6"/><circle cx="781.2" cy="262.8"/><circle cx="1031.5" cy="730.5"/><circle cx="426.6" cy="549.1"/><circle cx="604.1" cy="237.3"/><circle cx="995.5" cy="725.3"/><circle cx="449.8" cy="839.8"/><circle cx="634.5" cy="907.1"/><circle cx="642.2" cy="681.3"/><circle cx="565.8" cy="488.3"/><circle cx="752.2" cy="598.9"/><circle cx="541.6" cy="232.7"/><circle cx="519.4" cy="543.7"/><circle cx="456.7" cy="454.2"/><circle cx="462.4" cy="871.7"/><circle cx="722.0" cy="143.2"/><circle cx="926.9" cy="724.1"/><circle cx="449.6" cy="564.2"/><circle cx="1020.4" cy="767.4"/><circle cx="815.0" cy="224.8"/><circle cx="936.4" cy="711.3"/><circle cx="732.9" cy="599.1"/><circle cx="371.4" cy="825.6"/><circle cx="458.2" cy="588.0"/><circle cx="357.3" cy="756.3"/><circle cx="604.2" cy="691.5"/><circle cx="945.9" cy="689.8"/><circle cx="1021.7" cy="729.2"/><circle cx="698.8" cy="857.5"/><circle cx="334.7" cy="723.9"/><circle cx="505.6" cy="552.1"/><circle cx="609.5" cy="841.2"/><circle cx="337.6" cy="836.5"/><circle cx="428.2" cy="569.2"/><circle cx="552.8" cy="310.5"/><circle cx="731.4" cy="846.0"/><circle cx="714.9" cy="848.1"/><circle cx="181.8" cy="562.3"/><circle cx="503.3" cy="580.0"/><circle cx="749.5" cy="593.7"/><circle cx="978.5" cy="767.3"/><circle cx="926.1" cy="766.9"/><circle cx="571.2" cy="758.8"/><circle cx="940.0" cy="705.9"/><circle cx="1037.2" cy="722.9"/><circle cx="622.5" cy="450.0"/><circle cx="697.7" cy="186.7"/><circle cx="787.5" cy="303.1"/><circle cx="490.0" cy="496.7"/><circle cx="577.7" cy="236.0"/><circle cx="157.6" cy="533.4"/><circle cx="386.5" cy="760.5"/><circle cx="496.0" cy="560.7"/><circle cx="935.5" cy="755.4"/><circle cx="991.4" cy="715.6"/><circle cx="672.2" cy="146.8"/><circle cx="662.6" cy="120.8"/><circle cx="700.3" cy="856.1"/><circle cx="742.0" cy="533.5"/><circle cx="181.9" cy="529.2"/><circle cx="589.1" cy="429.9"/><circle cx="210.7" cy="546.1"/><circle cx="968.7" cy="741.0"/><circle cx="203.4" cy="503.1"/><circle cx="725.6" cy="164.0"/><circle cx="326.8" cy="725.9"/><circle cx="984.8" cy="651.9"/><circle cx="702.4" cy="856.7"/><circle cx="896.0" cy="572.0"/><circle cx="214.0" cy="506.4"/><circle cx="666.8" cy="139.4"/><circle cx="984.2" cy="709.9"/><circle cx="963.2" cy="731.7"/><circle cx="675.0" cy="205.0"/><circle cx="919.6" cy="731.5"/><circle cx="312.0" cy="826.2"/><circle cx="754.0" cy="575.0"/><circle cx="517.1" cy="452.2"/><circle cx="919.0" cy="716.4"/><circle cx="495.5" cy="528.3"/><circle cx="427.8" cy="570.9"/><circle cx="630.6" cy="420.8"/><circle cx="705.0" cy="182.6"/><circle cx="295.5" cy="853.0"/><circle cx="387.5" cy="804.6"/><circle cx="500.1" cy="881.1"/><circle cx="703.7" cy="847.2"/><circle cx="966.9" cy="737.0"/><circle cx="516.2" cy="452.2"/><circle cx="465.5" cy="846.9"/><circle cx="735.9" cy="847.7"/><circle cx="288.1" cy="826.7"/><circle cx="914.1" cy="718.0"/><circle cx="489.9" cy="869.5"/><circle cx="588.2" cy="455.6"/><circle cx="678.5" cy="436.8"/><circle cx="920.1" cy="739.2"/><circle cx="785.8" cy="263.3"/><circle cx="624.4" cy="696.0"/><circle cx="711.8" cy="143.3"/><circle cx="716.1" cy="474.6"/><circle cx="795.7" cy="310.4"/><circle cx="982.3" cy="752.2"/><circle cx="677.1" cy="438.0"/><circle cx="936.6" cy="773.4"/><circle cx="519.7" cy="444.3"/><circle cx="967.7" cy="763.3"/><circle cx="706.8" cy="188.3"/><circle cx="985.4" cy="724.0"/><circle cx="801.2" cy="791.2"/><circle cx="785.9" cy="308.1"/><circle cx="359.3" cy="736.2"/><circle cx="361.3" cy="809.4"/><circle cx="955.6" cy="708.5"/><circle cx="409.0" cy="795.0"/><circle cx="692.0" cy="173.2"/><circle cx="969.1" cy="769.3"/><circle cx="436.5" cy="561.8"/><circle cx="771.8" cy="591.4"/><circle cx="381.0" cy="407.1"/><circle cx="1018.5" cy="748.1"/><circle cx="676.3" cy="171.6"/><circle cx="1038.8" cy="715.6"/><circle cx="732.7" cy="853.8"/><circle cx="996.6" cy="678.3"/><circle cx="789.4" cy="305.6"/><circle cx="427.9" cy="446.3"/><circle cx="693.9" cy="160.2"/><circle cx="716.2" cy="589.5"/><circle cx="717.5" cy="945.0"/><circle cx="363.2" cy="842.8"/><circle cx="163.2" cy="551.4"/><circle cx="479.2" cy="586.7"/><circle cx="614.5" cy="860.0"/><circle cx="200.3" cy="550.8"/><circle cx="625.1" cy="656.7"/><circle cx="927.3" cy="767.6"/><circle cx="918.7" cy="787.8"/><circle cx="320.0" cy="863.2"/><circle cx="551.4" cy="773.6"/><circle cx="724.7" cy="153.5"/><circle cx="669.0" cy="172.8"/><circle cx="450.6" cy="851.1"/><circle cx="936.9" cy="755.4"/><circle cx="202.8" cy="511.6"/><circle cx="443.1" cy="582.1"/><circle cx="201.3" cy="541.9"/><circle cx="497.0" cy="884.9"/><circle cx="670.0" cy="159.5"/><circle cx="1026.6" cy="728.8"/><circle cx="740.6" cy="174.7"/><circle cx="216.0" cy="531.5"/><circle cx="608.8" cy="783.8"/><circle cx="364.0" cy="723.8"/><circle cx="390.4" cy="385.9"/><circle cx="955.6" cy="697.6"/><circle cx="568.4" cy="223.2"/><circle cx="574.5" cy="237.2"/><circle cx="932.7" cy="726.0"/><circle cx="1019.9" cy="739.9"/><circle cx="591.0" cy="395.3"/><circle cx="660.0" cy="984.5"/><circle cx="725.2" cy="128.2"/><circle cx="1020.0" cy="670.9"/><circle cx="988.5" cy="733.6"/><circle cx="745.9" cy="181.7"/><circle cx="199.7" cy="510.4"/><circle cx="917.4" cy="736.8"/><circle cx="462.0" cy="588.2"/><circle cx="677.2" cy="116.0"/><circle cx="1037.4" cy="699.3"/><circle cx="703.0" cy="161.3"/><circle cx="1000.3" cy="673.0"/><circle cx="705.0" cy="933.8"/><circle cx="976.7" cy="711.9"/><circle cx="639.6" cy="920.3"/><circle cx="221.2" cy="542.7"/><circle cx="357.4" cy="749.5"/><circle cx="932.3" cy="781.5"/><circle cx="465.5" cy="869.1"/><circle cx="460.4" cy="597.0"/><circle cx="862.5" cy="363.2"/><circle cx="622.3" cy="453.1"/><circle cx="428.5" cy="829.2"/><circle cx="964.5" cy="725.8"/><circle cx="462.7" cy="585.9"/><circle cx="398.4" cy="406.6"/><circle cx="446.6" cy="582.2"/><circle cx="195.6" cy="552.7"/><circle cx="709.8" cy="850.7"/><circle cx="801.1" cy="309.1"/><circle cx="729.5" cy="850.7"/><circle cx="723.9" cy="146.3"/><circle cx="682.5" cy="925.8"/><circle cx="427.9" cy="547.8"/><circle cx="347.1" cy="815.0"/><circle cx="493.0" cy="564.3"/><circle cx="971.3" cy="757.8"/><circle cx="379.7" cy="832.2"/><circle cx="688.2" cy="179.7"/><circle cx="436.7" cy="591.8"/><circle cx="209.7" cy="530.7"/><circle cx="393.1" cy="405.8"/><circle cx="330.7" cy="816.1"/><circle cx="612.6" cy="450.7"/><circle cx="611.8" cy="396.7"/><circle cx="961.2" cy="722.0"/><circle cx="710.4" cy="128.7"/><circle cx="617.8" cy="683.9"/><circle cx="991.5" cy="632.4"/><circle cx="430.3" cy="827.7"/><circle cx="804.5" cy="241.2"/><circle cx="739.8" cy="844.9"/><circle cx="987.5" cy="708.2"/><circle cx="397.8" cy="838.9"/><circle cx="420.8" cy="543.1"/><circle cx="197.0" cy="556.5"/><circle cx="963.1" cy="736.1"/><circle cx="678.5" cy="133.5"/><circle cx="549.8" cy="778.0"/><circle cx="244.1" cy="575.6"/><circle cx="909.9" cy="733.7"/><circle cx="366.2" cy="753.5"/><circle cx="199.9" cy="521.3"/><circle cx="720.9" cy="592.9"/><circle cx="499.6" cy="555.2"/><circle cx="475.5" cy="556.7"/><circle cx="700.4" cy="850.0"/><circle cx="633.3" cy="442.5"/><circle cx="383.0" cy="797.1"/><circle cx="409.1" cy="819.3"/><circle cx="1034.8" cy="690.0"/><circle cx="443.2" cy="584.2"/><circle cx="581.9" cy="467.8"/><circle cx="508.4" cy="456.9"/><circle cx="498.4" cy="569.9"/><circle cx="772.3" cy="589.7"/><circle cx="372.2" cy="833.6"/><circle cx="458.5" cy="574.6"/><circle cx="482.5" cy="583.8"/><circle cx="318.5" cy="743.2"/><circle cx="924.2" cy="767.9"/><circle cx="707.7" cy="434.6"/><circle cx="578.6" cy="228.2"/><circle cx="1058.1" cy="706.3"/><circle cx="510.5" cy="454.9"/><circle cx="1040.0" cy="718.3"/><circle cx="454.4" cy="570.8"/><circle cx="227.0" cy="548.6"/><circle cx="750.8" cy="190.4"/><circle cx="418.9" cy="839.2"/><circle cx="324.1" cy="860.7"/><circle cx="410.0" cy="420.0"/><circle cx="617.5" cy="429.8"/><circle cx="676.9" cy="168.6"/><circle cx="458.9" cy="582.8"/><circle cx="393.1" cy="384.0"/><circle cx="1004.7" cy="741.3"/><circle cx="715.2" cy="133.5"/><circle cx="1005.5" cy="765.2"/><circle cx="757.6" cy="587.4"/><circle cx="456.3" cy="580.0"/><circle cx="380.5" cy="828.6"/><circle cx="171.6" cy="516.2"/><circle cx="661.7" cy="127.0"/><circle cx="562.4" cy="772.3"/><circle cx="516.3" cy="542.4"/><circle cx="989.5" cy="684.4"/><circle cx="934.1" cy="696.0"/><circle cx="348.2" cy="727.0"/><circle cx="459.5" cy="592.7"/><circle cx="718.8" cy="942.5"/><circle cx="676.4" cy="175.5"/><circle cx="360.3" cy="822.5"/><circle cx="727.9" cy="595.0"/><circle cx="958.3" cy="703.0"/><circle cx="744.5" cy="800.0"/><circle cx="595.6" cy="231.7"/><circle cx="1031.5" cy="739.6"/><circle cx="746.4" cy="544.0"/><circle cx="176.5" cy="553.4"/><circle cx="1011.6" cy="639.1"/><circle cx="325.0" cy="821.7"/><circle cx="600.2" cy="426.9"/><circle cx="960.3" cy="741.0"/><circle cx="1032.4" cy="655.9"/><circle cx="452.7" cy="847.6"/><circle cx="644.3" cy="664.0"/><circle cx="434.2" cy="398.3"/><circle cx="473.4" cy="860.2"/><circle cx="464.9" cy="592.6"/><circle cx="375.1" cy="786.7"/><circle cx="597.0" cy="416.3"/><circle cx="434.6" cy="583.6"/><circle cx="343.5" cy="823.3"/><circle cx="756.1" cy="555.2"/><circle cx="611.7" cy="427.9"/><circle cx="342.0" cy="810.6"/><circle cx="753.5" cy="598.8"/><circle cx="709.0" cy="174.7"/><circle cx="617.1" cy="442.9"/><circle cx="617.0" cy="650.5"/><circle cx="357.9" cy="729.7"/><circle cx="748.7" cy="549.1"/><circle cx="315.2" cy="791.0"/><circle cx="913.7" cy="755.8"/><circle cx="607.2" cy="393.3"/><circle cx="1010.8" cy="744.1"/><circle cx="480.3" cy="861.6"/><circle cx="373.6" cy="845.1"/><circle cx="1005.3" cy="641.6"/><circle cx="445.4" cy="593.8"/><circle cx="912.2" cy="744.0"/><circle cx="567.9" cy="774.4"/><circle cx="940.9" cy="766.4"/><circle cx="191.7" cy="558.3"/><circle cx="504.7" cy="571.4"/><circle cx="794.0" cy="229.5"/><circle cx="441.3" cy="561.0"/><circle cx="555.3" cy="777.7"/><circle cx="351.4" cy="748.0"/><circle cx="245.1" cy="509.1"/><circle cx="545.8" cy="773.3"/><circle cx="485.5" cy="866.4"/><circle cx="472.5" cy="868.5"/><circle cx="685.3" cy="177.8"/><circle cx="938.0" cy="757.4"/><circle cx="996.9" cy="697.9"/><circle cx="605.9" cy="450.0"/><circle cx="476.6" cy="588.4"/><circle cx="219.8" cy="503.6"/><circle cx="456.7" cy="574.7"/><circle cx="966.5" cy="720.9"/><circle cx="1037.5" cy="649.8"/><circle cx="980.6" cy="680.2"/><circle cx="985.3" cy="746.7"/><circle cx="544.7" cy="777.3"/><circle cx="922.3" cy="770.4"/><circle cx="797.8" cy="312.0"/><circle cx="229.9" cy="540.3"/><circle cx="1028.3" cy="706.2"/><circle cx="1014.8" cy="681.7"/><circle cx="702.7" cy="146.9"/><circle cx="466.3" cy="570.4"/><circle cx="716.8" cy="147.7"/><circle cx="1000.0" cy="772.4"/><circle cx="676.4" cy="161.3"/><circle cx="736.2" cy="717.0"/><circle cx="932.0" cy="785.0"/><circle cx="344.5" cy="736.5"/><circle cx="586.3" cy="472.6"/><circle cx="530.5" cy="1013.8"/><circle cx="1000.7" cy="687.6"/><circle cx="390.7" cy="808.9"/><circle cx="910.6" cy="542.0"/><circle cx="669.0" cy="153.6"/><circle cx="972.9" cy="764.1"/><circle cx="804.5" cy="275.0"/><circle cx="677.8" cy="709.4"/><circle cx="389.5" cy="790.5"/><circle cx="507.7" cy="557.9"/><circle cx="456.5" cy="589.7"/><circle cx="183.2" cy="564.0"/><circle cx="622.0" cy="645.5"/><circle cx="979.6" cy="730.4"/><circle cx="431.2" cy="409.3"/><circle cx="342.0" cy="754.1"/><circle cx="485.4" cy="871.6"/><circle cx="411.3" cy="434.0"/><circle cx="739.4" cy="187.0"/><circle cx="706.4" cy="136.8"/><circle cx="482.4" cy="865.5"/><circle cx="734.4" cy="845.8"/><circle cx="459.3" cy="589.0"/><circle cx="443.9" cy="563.4"/><circle cx="964.2" cy="707.2"/><circle cx="1012.5" cy="661.4"/><circle cx="511.9" cy="533.8"/><circle cx="569.9" cy="772.1"/><circle cx="718.2" cy="149.8"/><circle cx="405.5" cy="829.3"/><circle cx="716.8" cy="189.8"/><circle cx="748.0" cy="543.5"/><circle cx="200.9" cy="529.4"/><circle cx="154.5" cy="534.3"/><circle cx="785.2" cy="588.3"/><circle cx="339.1" cy="819.4"/><circle cx="306.6" cy="838.8"/><circle cx="340.5" cy="793.8"/><circle cx="959.0" cy="764.6"/><circle cx="556.8" cy="213.9"/><circle cx="814.8" cy="294.6"/><circle cx="522.9" cy="1013.8"/><circle cx="693.3" cy="173.7"/><circle cx="412.2" cy="827.3"/><circle cx="411.8" cy="821.4"/><circle cx="153.9" cy="533.8"/><circle cx="512.4" cy="547.3"/><circle cx="723.9" cy="173.6"/><circle cx="690.0" cy="125.9"/><circle cx="729.1" cy="142.0"/><circle cx="998.2" cy="641.6"/><circle cx="744.5" cy="561.1"/><circle cx="382.6" cy="835.3"/><circle cx="1060.2" cy="650.6"/><circle cx="687.6" cy="464.5"/><circle cx="215.8" cy="535.0"/><circle cx="423.5" cy="572.0"/><circle cx="222.1" cy="516.0"/><circle cx="570.6" cy="220.6"/><circle cx="718.4" cy="592.0"/><circle cx="316.5" cy="850.9"/><circle cx="309.4" cy="844.2"/><circle cx="514.4" cy="543.5"/><circle cx="521.2" cy="425.0"/><circle cx="939.8" cy="694.5"/><circle cx="771.8" cy="591.4"/><circle cx="620.9" cy="460.3"/><circle cx="694.8" cy="160.9"/><circle cx="682.2" cy="460.4"/><circle cx="391.0" cy="763.5"/><circle cx="462.9" cy="866.6"/><circle cx="521.2" cy="443.4"/><circle cx="219.1" cy="526.4"/><circle cx="594.2" cy="467.3"/><circle cx="599.9" cy="464.3"/><circle cx="1032.2" cy="700.7"/><circle cx="610.1" cy="384.2"/><circle cx="1025.3" cy="724.1"/><circle cx="340.6" cy="752.2"/><circle cx="304.9" cy="808.1"/><circle cx="741.8" cy="842.9"/><circle cx="981.3" cy="654.1"/><circle cx="485.5" cy="578.0"/><circle cx="596.5" cy="435.6"/><circle cx="513.6" cy="461.3"/><circle cx="937.1" cy="692.5"/><circle cx="707.1" cy="454.6"/><circle cx="955.5" cy="768.5"/><circle cx="508.5" cy="555.0"/><circle cx="698.5" cy="142.2"/><circle cx="412.5" cy="390.8"/><circle cx="730.2" cy="186.3"/><circle cx="405.4" cy="428.8"/><circle cx="567.1" cy="235.4"/><circle cx="175.7" cy="517.9"/><circle cx="972.6" cy="765.1"/><circle cx="749.0" cy="602.6"/><circle cx="616.2" cy="466.4"/><circle cx="390.7" cy="385.5"/><circle cx="414.1" cy="838.4"/><circle cx="329.5" cy="770.9"/><circle cx="548.0" cy="231.9"/><circle cx="632.2" cy="427.9"/><circle cx="377.5" cy="755.2"/><circle cx="990.7" cy="704.0"/><circle cx="457.2" cy="579.1"/><circle cx="317.5" cy="794.4"/><circle cx="615.8" cy="425.2"/><circle cx="497.7" cy="558.4"/><circle cx="732.1" cy="142.9"/><circle cx="613.0" cy="389.8"/><circle cx="909.6" cy="727.2"/><circle cx="741.2" cy="276.2"/><circle cx="418.3" cy="395.0"/><circle cx="959.9" cy="702.3"/><circle cx="942.7" cy="738.8"/><circle cx="674.9" cy="113.5"/><circle cx="939.3" cy="731.9"/><circle cx="943.7" cy="746.5"/><circle cx="586.5" cy="738.5"/><circle cx="233.8" cy="533.6"/><circle cx="723.8" cy="152.2"/><circle cx="669.6" cy="455.9"/><circle cx="319.1" cy="789.6"/><circle cx="983.4" cy="720.7"/><circle cx="307.0" cy="854.4"/><circle cx="949.1" cy="733.2"/><circle cx="964.8" cy="683.2"/><circle cx="404.7" cy="793.5"/><circle cx="355.3" cy="762.3"/><circle cx="410.3" cy="841.1"/><circle cx="551.0" cy="781.5"/><circle cx="596.0" cy="382.9"/><circle cx="763.7" cy="600.5"/><circle cx="410.1" cy="823.3"/><circle cx="549.7" cy="219.0"/><circle cx="622.4" cy="660.2"/><circle cx="698.7" cy="178.6"/><circle cx="436.7" cy="833.8"/><circle cx="681.5" cy="467.3"/><circle cx="996.4" cy="703.3"/><circle cx="310.6" cy="827.2"/><circle cx="414.6" cy="441.0"/><circle cx="1007.1" cy="745.0"/><circle cx="689.1" cy="149.9"/><circle cx="966.2" cy="757.8"/><circle cx="813.8" cy="233.0"/><circle cx="502.5" cy="513.3"/><circle cx="905.0" cy="734.7"/><circle cx="680.9" cy="122.4"/><circle cx="621.5" cy="656.0"/><circle cx="1044.6" cy="703.9"/><circle cx="438.3" cy="836.1"/><circle cx="192.6" cy="568.0"/><circle cx="472.8" cy="862.5"/><circle cx="792.1" cy="301.0"/><circle cx="970.2" cy="749.6"/><circle cx="801.7" cy="312.2"/><circle cx="784.4" cy="586.0"/><circle cx="339.1" cy="825.2"/><circle cx="434.7" cy="1046.2"/><circle cx="774.8" cy="588.3"/><circle cx="771.7" cy="297.9"/><circle cx="489.7" cy="583.6"/><circle cx="947.5" cy="663.5"/><circle cx="529.4" cy="986.7"/><circle cx="617.5" cy="644.5"/><circle cx="419.4" cy="550.6"/><circle cx="969.3" cy="722.8"/><circle cx="991.0" cy="749.4"/><circle cx="512.7" cy="535.2"/><circle cx="951.9" cy="669.0"/><circle cx="183.7" cy="513.4"/><circle cx="474.2" cy="434.2"/><circle cx="528.3" cy="1012.7"/><circle cx="1009.3" cy="765.6"/><circle cx="689.1" cy="122.5"/><circle cx="834.1" cy="281.2"/><circle cx="963.4" cy="675.7"/><circle cx="729.0" cy="594.0"/><circle cx="514.5" cy="456.9"/><circle cx="932.4" cy="784.5"/><circle cx="604.9" cy="672.8"/><circle cx="950.7" cy="713.2"/><circle cx="727.5" cy="199.2"/><circle cx="419.5" cy="559.2"/><circle cx="518.6" cy="969.3"/><circle cx="445.3" cy="579.9"/><circle cx="355.6" cy="818.1"/><circle cx="398.2" cy="416.7"/><circle cx="314.1" cy="821.2"/><circle cx="785.4" cy="308.4"/><circle cx="668.3" cy="245.8"/><circle cx="604.7" cy="383.3"/><circle cx="476.0" cy="581.0"/><circle cx="466.8" cy="573.2"/><circle cx="508.8" cy="917.8"/><circle cx="396.6" cy="820.6"/><circle cx="355.3" cy="770.5"/><circle cx="983.1" cy="765.5"/><circle cx="718.4" cy="460.4"/><circle cx="352.1" cy="831.1"/><circle cx="665.4" cy="161.4"/><circle cx="695.4" cy="846.0"/><circle cx="436.9" cy="567.4"/><circle cx="749.6" cy="603.7"/><circle cx="692.1" cy="166.8"/><circle cx="1025.3" cy="639.9"/><circle cx="1003.7" cy="677.3"/><circle cx="719.2" cy="857.7"/><circle cx="398.2" cy="820.8"/><circle cx="905.6" cy="551.0"/><circle cx="749.7" cy="219.0"/><circle cx="660.5" cy="712.0"/><circle cx="1034.1" cy="749.9"/><circle cx="820.5" cy="297.9"/><circle cx="712.8" cy="185.5"/><circle cx="462.7" cy="594.9"/><circle cx="916.1" cy="772.6"/><circle cx="627.5" cy="438.3"/><circle cx="1022.2" cy="658.1"/><circle cx="756.8" cy="592.4"/><circle cx="1004.9" cy="690.8"/><circle cx="609.9" cy="431.7"/><circle cx="389.1" cy="420.2"/><circle cx="999.9" cy="705.9"/><circle cx="1017.9" cy="718.4"/><circle cx="1022.2" cy="717.3"/><circle cx="799.8" cy="269.2"/><circle cx="313.3" cy="837.4"/><circle cx="712.0" cy="948.8"/><circle cx="340.9" cy="847.2"/><circle cx="409.7" cy="827.6"/><circle cx="739.5" cy="192.8"/><circle cx="353.4" cy="771.7"/><circle cx="681.3" cy="142.7"/><circle cx="410.0" cy="430.4"/><circle cx="495.6" cy="547.4"/><circle cx="363.0" cy="856.4"/><circle cx="589.0" cy="459.8"/><circle cx="591.1" cy="465.4"/><circle cx="425.6" cy="568.5"/><circle cx="987.6" cy="637.8"/><circle cx="376.0" cy="737.2"/><circle cx="679.3" cy="145.3"/><circle cx="341.1" cy="836.0"/><circle cx="709.0" cy="149.1"/><circle cx="814.7" cy="278.9"/><circle cx="709.9" cy="446.5"/><circle cx="540.4" cy="239.2"/><circle cx="436.1" cy="838.4"/><circle cx="753.8" cy="195.8"/><circle cx="927.8" cy="783.0"/><circle cx="337.6" cy="827.1"/><circle cx="704.8" cy="162.2"/><circle cx="603.8" cy="844.5"/><circle cx="195.2" cy="524.5"/><circle cx="740.6" cy="241.4"/><circle cx="787.5" cy="313.7"/><circle cx="1011.5" cy="767.3"/><circle cx="697.2" cy="454.7"/><circle cx="656.2" cy="981.2"/><circle cx="560.2" cy="778.8"/><circle cx="1002.1" cy="766.2"/><circle cx="1006.0" cy="719.8"/><circle cx="763.8" cy="605.0"/><circle cx="463.8" cy="869.8"/><circle cx="217.1" cy="527.1"/><circle cx="169.0" cy="565.0"/><circle cx="364.7" cy="761.6"/><circle cx="637.2" cy="430.2"/><circle cx="581.7" cy="471.8"/><circle cx="629.2" cy="903.0"/><circle cx="723.7" cy="187.5"/><circle cx="503.0" cy="568.5"/><circle cx="658.8" cy="916.2"/><circle cx="932.7" cy="707.2"/><circle cx="476.7" cy="855.8"/><circle cx="674.7" cy="137.0"/><circle cx="587.9" cy="462.9"/><circle cx="790.0" cy="236.0"/><circle cx="437.3" cy="592.4"/><circle cx="450.2" cy="570.5"/><circle cx="470.7" cy="869.3"/><circle cx="387.5" cy="413.4"/><circle cx="376.2" cy="785.2"/><circle cx="552.0" cy="793.0"/><circle cx="639.0" cy="689.5"/><circle cx="184.1" cy="510.9"/><circle cx="332.0" cy="773.4"/><circle cx="728.7" cy="191.0"/><circle cx="707.5" cy="830.5"/><circle cx="990.2" cy="732.3"/><circle cx="334.1" cy="750.1"/><circle cx="697.9" cy="139.7"/><circle cx="774.3" cy="299.5"/><circle cx="437.7" cy="579.1"/><circle cx="301.4" cy="825.4"/><circle cx="328.1" cy="735.5"/><circle cx="695.7" cy="150.3"/><circle cx="690.8" cy="432.0"/><circle cx="237.0" cy="529.2"/><circle cx="588.1" cy="461.5"/><circle cx="759.7" cy="585.7"/><circle cx="936.5" cy="707.3"/><circle cx="191.2" cy="517.4"/><circle cx="339.9" cy="760.8"/><circle cx="698.5" cy="472.5"/><circle cx="441.3" cy="582.6"/><circle cx="605.1" cy="693.9"/><circle cx="676.8" cy="721.1"/><circle cx="357.7" cy="746.7"/><circle cx="661.8" cy="128.5"/><circle cx="626.9" cy="450.0"/><circle cx="488.3" cy="570.7"/><circle cx="728.1" cy="169.2"/><circle cx="1013.1" cy="702.6"/><circle cx="995.4" cy="752.1"/><circle cx="597.4" cy="397.4"/><circle cx="562.0" cy="784.5"/><circle cx="310.0" cy="820.6"/><circle cx="601.5" cy="663.7"/><circle cx="1002.4" cy="717.3"/><circle cx="550.9" cy="768.1"/><circle cx="490.0" cy="368.0"/><circle cx="970.0" cy="712.7"/><circle cx="548.4" cy="774.3"/><circle cx="387.0" cy="840.2"/><circle cx="712.5" cy="933.8"/><circle cx="635.7" cy="920.5"/><circle cx="344.1" cy="798.2"/><circle cx="350.1" cy="823.5"/><circle cx="682.6" cy="148.5"/><circle cx="710.8" cy="842.3"/><circle cx="684.7" cy="165.2"/><circle cx="697.9" cy="856.0"/><circle cx="718.2" cy="144.8"/><circle cx="323.5" cy="820.1"/><circle cx="475.1" cy="861.7"/><circle cx="215.0" cy="542.5"/><circle cx="624.4" cy="413.8"/><circle cx="958.8" cy="769.8"/><circle cx="412.6" cy="828.2"/><circle cx="556.2" cy="772.1"/><circle cx="309.2" cy="802.8"/><circle cx="998.2" cy="657.5"/><circle cx="612.5" cy="857.5"/><circle cx="946.7" cy="719.3"/><circle cx="400.4" cy="405.7"/><circle cx="743.7" cy="843.0"/><circle cx="436.8" cy="447.2"/><circle cx="330.1" cy="765.8"/><circle cx="815.7" cy="279.8"/><circle cx="615.2" cy="655.2"/><circle cx="350.2" cy="798.7"/><circle cx="574.3" cy="769.6"/><circle cx="404.6" cy="812.0"/><circle cx="734.7" cy="840.1"/><circle cx="702.2" cy="122.6"/><circle cx="921.7" cy="782.0"/><circle cx="505.6" cy="552.2"/><circle cx="163.2" cy="549.4"/><circle cx="235.6" cy="541.0"/><circle cx="704.0" cy="123.6"/><circle cx="680.7" cy="172.5"/><circle cx="1013.8" cy="650.1"/><circle cx="171.1" cy="528.6"/><circle cx="393.7" cy="403.5"/><circle cx="739.4" cy="536.0"/><circle cx="989.0" cy="738.0"/><circle cx="737.5" cy="221.8"/><circle cx="174.4" cy="511.3"/><circle cx="397.9" cy="833.8"/><circle cx="1027.7" cy="687.6"/><circle cx="366.1" cy="828.5"/><circle cx="1015.9" cy="736.2"/><circle cx="499.9" cy="561.1"/><circle cx="646.7" cy="458.3"/><circle cx="248.3" cy="507.5"/><circle cx="1038.4" cy="654.5"/><circle cx="155.6" cy="560.7"/><circle cx="358.9" cy="842.9"/><circle cx="649.3" cy="686.7"/><circle cx="452.9" cy="853.3"/><circle cx="716.2" cy="843.3"/><circle cx="613.0" cy="423.5"/><circle cx="721.1" cy="167.6"/><circle cx="1011.5" cy="750.1"/><circle cx="650.8" cy="913.8"/><circle cx="929.5" cy="771.3"/><circle cx="360.3" cy="844.8"/><circle cx="334.6" cy="780.2"/><circle cx="512.1" cy="548.2"/><circle cx="969.3" cy="645.3"/><circle cx="351.9" cy="783.2"/><circle cx="456.1" cy="846.8"/><circle cx="684.8" cy="131.4"/><circle cx="804.0" cy="241.5"/><circle cx="489.2" cy="365.0"/><circle cx="580.4" cy="230.8"/><circle cx="193.6" cy="545.4"/><circle cx="485.4" cy="577.5"/><circle cx="328.5" cy="846.8"/><circle cx="1033.2" cy="746.4"/><circle cx="715.8" cy="131.7"/><circle cx="483.3" cy="561.7"/><circle cx="1017.5" cy="735.9"/><circle cx="915.8" cy="777.0"/><circle cx="609.7" cy="649.8"/><circle cx="1054.5" cy="697.1"/><circle cx="328.3" cy="863.9"/><circle cx="683.5" cy="176.1"/><circle cx="744.3" cy="603.9"/><circle cx="750.9" cy="598.6"/><circle cx="1050.8" cy="684.4"/><circle cx="360.7" cy="852.2"/><circle cx="505.0" cy="880.2"/><circle cx="958.6" cy="695.9"/><circle cx="753.4" cy="552.6"/><circle cx="196.5" cy="536.8"/><circle cx="988.0" cy="747.9"/><circle cx="318.2" cy="759.0"/><circle cx="1003.9" cy="656.8"/><circle cx="678.9" cy="458.5"/><circle cx="230.4" cy="577.9"/><circle cx="724.4" cy="182.7"/><circle cx="987.6" cy="704.2"/><circle cx="364.6" cy="840.3"/><circle cx="497.6" cy="581.0"/><circle cx="156.4" cy="534.1"/><circle cx="602.1" cy="436.5"/><circle cx="218.4" cy="510.2"/><circle cx="1030.7" cy="734.5"/><circle cx="170.0" cy="545.9"/><circle cx="972.4" cy="732.6"/><circle cx="558.3" cy="497.5"/><circle cx="1053.4" cy="708.9"/><circle cx="930.2" cy="741.6"/><circle cx="687.5" cy="162.7"/><circle cx="1005.1" cy="680.8"/><circle cx="215.2" cy="536.8"/><circle cx="808.3" cy="280.7"/><circle cx="672.7" cy="130.9"/><circle cx="974.8" cy="726.6"/><circle cx="798.0" cy="281.5"/><circle cx="742.4" cy="602.9"/><circle cx="486.7" cy="360.8"/><circle cx="342.7" cy="840.6"/><circle cx="360.2" cy="796.8"/><circle cx="376.3" cy="778.5"/><circle cx="977.3" cy="680.2"/><circle cx="516.8" cy="531.4"/><circle cx="239.8" cy="572.2"/><circle cx="818.5" cy="279.6"/><circle cx="752.5" cy="588.0"/><circle cx="826.1" cy="299.7"/><circle cx="496.9" cy="563.3"/><circle cx="600.4" cy="423.1"/><circle cx="798.8" cy="321.9"/><circle cx="244.6" cy="576.6"/><circle cx="803.8" cy="780.0"/><circle cx="716.7" cy="593.0"/><circle cx="607.2" cy="238.5"/><circle cx="926.5" cy="739.3"/><circle cx="369.0" cy="763.7"/><circle cx="468.5" cy="853.0"/><circle cx="632.8" cy="428.6"/><circle cx="518.6" cy="991.0"/><circle cx="698.8" cy="844.5"/><circle cx="176.9" cy="561.2"/><circle cx="738.9" cy="538.3"/><circle cx="192.9" cy="567.0"/><circle cx="1002.1" cy="721.3"/><circle cx="912.9" cy="768.9"/><circle cx="1000.4" cy="713.4"/><circle cx="957.2" cy="758.8"/><circle cx="726.5" cy="463.3"/><circle cx="612.7" cy="428.0"/><circle cx="714.0" cy="173.6"/><circle cx="386.0" cy="818.5"/><circle cx="363.2" cy="748.0"/><circle cx="726.0" cy="587.0"/><circle cx="381.3" cy="846.4"/><circle cx="386.5" cy="855.0"/><circle cx="579.5" cy="455.1"/><circle cx="721.1" cy="125.0"/><circle cx="625.0" cy="926.2"/><circle cx="637.5" cy="912.5"/><circle cx="336.7" cy="740.0"/><circle cx="311.1" cy="854.7"/><circle cx="243.6" cy="547.2"/><circle cx="1022.1" cy="734.7"/><circle cx="1010.4" cy="665.7"/><circle cx="316.5" cy="795.8"/><circle cx="954.4" cy="717.9"/><circle cx="401.3" cy="810.6"/><circle cx="1018.1" cy="752.6"/><circle cx="475.2" cy="557.4"/><circle cx="438.0" cy="563.7"/><circle cx="620.1" cy="670.9"/><circle cx="1033.4" cy="703.8"/><circle cx="1023.1" cy="679.5"/><circle cx="553.1" cy="770.5"/><circle cx="557.0" cy="781.9"/><circle cx="322.4" cy="826.1"/><circle cx="209.1" cy="540.7"/><circle cx="332.7" cy="854.2"/><circle cx="581.1" cy="232.4"/><circle cx="727.5" cy="183.4"/><circle cx="488.4" cy="556.2"/><circle cx="753.4" cy="590.3"/><circle cx="1032.3" cy="720.2"/><circle cx="445.8" cy="573.3"/><circle cx="664.7" cy="162.1"/><circle cx="761.3" cy="234.8"/><circle cx="1003.3" cy="759.2"/><circle cx="945.9" cy="766.1"/><circle cx="513.4" cy="448.1"/><circle cx="452.7" cy="845.2"/><circle cx="727.0" cy="150.4"/><circle cx="451.7" cy="449.7"/><circle cx="496.5" cy="565.0"/><circle cx="394.8" cy="867.3"/><circle cx="626.3" cy="690.5"/><circle cx="496.7" cy="556.6"/><circle cx="562.1" cy="234.9"/><circle cx="713.8" cy="951.2"/><circle cx="203.7" cy="556.5"/><circle cx="414.8" cy="818.0"/><circle cx="468.2" cy="564.0"/><circle cx="339.9" cy="769.5"/><circle cx="716.3" cy="463.7"/><circle cx="911.4" cy="773.6"/><circle cx="364.8" cy="720.0"/><circle cx="965.5" cy="736.1"/><circle cx="662.5" cy="918.2"/><circle cx="432.0" cy="567.3"/><circle cx="472.0" cy="430.5"/><circle cx="737.4" cy="567.0"/><circle cx="941.4" cy="783.0"/><circle cx="589.5" cy="426.1"/><circle cx="1028.7" cy="707.1"/><circle cx="983.2" cy="704.2"/><circle cx="541.5" cy="237.3"/><circle cx="337.3" cy="774.9"/><circle cx="291.4" cy="846.6"/><circle cx="672.0" cy="150.8"/><circle cx="356.8" cy="778.6"/><circle cx="343.3" cy="820.2"/><circle cx="549.5" cy="211.3"/><circle cx="965.9" cy="743.6"/><circle cx="343.0" cy="857.6"/><circle cx="336.1" cy="744.3"/><circle cx="159.5" cy="540.1"/><circle cx="345.8" cy="868.0"/><circle cx="753.2" cy="214.3"/><circle cx="545.9" cy="314.5"/><circle cx="643.3" cy="465.0"/><circle cx="734.4" cy="180.3"/><circle cx="639.7" cy="917.2"/><circle cx="511.0" cy="553.9"/><circle cx="683.6" cy="158.1"/><circle cx="228.8" cy="526.2"/><circle cx="1028.7" cy="655.3"/><circle cx="761.3" cy="604.6"/><circle cx="307.1" cy="815.6"/><circle cx="636.0" cy="694.0"/><circle cx="723.0" cy="838.4"/><circle cx="952.8" cy="754.0"/><circle cx="957.4" cy="717.2"/><circle cx="190.2" cy="520.6"/><circle cx="928.6" cy="737.1"/><circle cx="664.2" cy="245.0"/><circle cx="748.1" cy="559.1"/><circle cx="570.5" cy="775.1"/><circle cx="566.1" cy="224.8"/><circle cx="688.8" cy="458.6"/><circle cx="767.6" cy="588.9"/><circle cx="339.7" cy="785.7"/><circle cx="762.5" cy="603.3"/><circle cx="774.5" cy="251.5"/><circle cx="395.1" cy="418.2"/><circle cx="699.2" cy="116.1"/><circle cx="338.9" cy="811.1"/><circle cx="203.2" cy="514.4"/><circle cx="752.6" cy="560.0"/><circle cx="686.4" cy="432.1"/><circle cx="399.6" cy="841.7"/><circle cx="1002.3" cy="637.9"/><circle cx="394.6" cy="423.8"/><circle cx="700.8" cy="170.1"/><circle cx="365.4" cy="768.0"/><circle cx="459.3" cy="600.0"/><circle cx="959.0" cy="703.4"/><circle cx="190.4" cy="505.9"/><circle cx="955.4" cy="714.8"/><circle cx="610.9" cy="446.2"/><circle cx="356.6" cy="753.5"/><circle cx="302.9" cy="856.3"/><circle cx="683.4" cy="169.2"/><circle cx="1016.0" cy="689.4"/><circle cx="301.4" cy="815.2"/><circle cx="704.9" cy="142.9"/><circle cx="292.8" cy="835.2"/><circle cx="620.0" cy="424.7"/><circle cx="969.2" cy="697.6"/><circle cx="680.0" cy="460.7"/><circle cx="957.4" cy="736.5"/><circle cx="991.5" cy="777.6"/><circle cx="912.5" cy="768.4"/><circle cx="722.7" cy="172.5"/><circle cx="727.3" cy="137.7"/><circle cx="295.2" cy="834.3"/><circle cx="457.0" cy="578.5"/><circle cx="591.5" cy="463.0"/><circle cx="683.3" cy="136.1"/><circle cx="825.8" cy="285.8"/><circle cx="368.3" cy="832.7"/><circle cx="639.4" cy="908.2"/><circle cx="641.7" cy="657.4"/><circle cx="816.3" cy="292.8"/><circle cx="944.6" cy="748.1"/><circle cx="766.2" cy="599.0"/><circle cx="754.9" cy="217.8"/><circle cx="988.4" cy="669.5"/><circle cx="938.6" cy="718.3"/><circle cx="1015.6" cy="694.2"/><circle cx="453.5" cy="594.2"/><circle cx="1048.4" cy="725.4"/><circle cx="499.3" cy="871.8"/><circle cx="219.0" cy="509.5"/><circle cx="1012.8" cy="728.4"/><circle cx="211.2" cy="534.8"/><circle cx="1052.5" cy="677.2"/><circle cx="962.3" cy="666.8"/><circle cx="986.8" cy="632.0"/><circle cx="670.0" cy="245.0"/><circle cx="382.7" cy="414.2"/><circle cx="624.6" cy="426.6"/><circle cx="177.6" cy="514.5"/><circle cx="938.4" cy="770.4"/><circle cx="717.4" cy="188.1"/><circle cx="773.5" cy="299.1"/><circle cx="496.2" cy="567.9"/><circle cx="755.6" cy="591.0"/><circle cx="491.2" cy="867.0"/><circle cx="387.3" cy="837.5"/><circle cx="543.6" cy="240.6"/><circle cx="614.4" cy="660.7"/><circle cx="936.9" cy="717.5"/><circle cx="697.2" cy="849.5"/><circle cx="237.6" cy="575.0"/><circle cx="429.8" cy="535.5"/><circle cx="701.0" cy="173.0"/><circle cx="190.3" cy="560.1"/><circle cx="904.0" cy="554.0"/><circle cx="380.9" cy="405.4"/><circle cx="1013.0" cy="699.9"/><circle cx="538.5" cy="220.3"/><circle cx="369.3" cy="823.2"/><circle cx="751.2" cy="793.0"/><circle cx="794.3" cy="315.0"/><circle cx="347.4" cy="854.5"/><circle cx="596.0" cy="406.0"/><circle cx="737.3" cy="598.2"/><circle cx="548.9" cy="219.7"/><circle cx="931.4" cy="753.4"/><circle cx="435.9" cy="444.6"/><circle cx="346.6" cy="730.5"/><circle cx="632.2" cy="657.3"/><circle cx="1014.6" cy="759.0"/><circle cx="521.8" cy="986.7"/><circle cx="438.3" cy="529.5"/><circle cx="656.7" cy="690.3"/><circle cx="493.3" cy="363.3"/><circle cx="374.3" cy="842.4"/><circle cx="800.4" cy="318.5"/><circle cx="738.0" cy="208.5"/><circle cx="802.5" cy="785.0"/><circle cx="343.4" cy="861.9"/><circle cx="784.2" cy="301.9"/><circle cx="344.2" cy="734.6"/><circle cx="609.7" cy="243.3"/><circle cx="308.7" cy="825.4"/><circle cx="392.3" cy="823.1"/><circle cx="830.9" cy="296.0"/><circle cx="786.0" cy="264.0"/><circle cx="186.8" cy="556.3"/><circle cx="587.3" cy="442.4"/><circle cx="724.8" cy="841.6"/><circle cx="978.6" cy="726.9"/><circle cx="398.6" cy="804.8"/><circle cx="447.5" cy="411.7"/><circle cx="496.7" cy="501.7"/><circle cx="522.5" cy="458.0"/><circle cx="295.9" cy="849.7"/><circle cx="610.5" cy="396.0"/><circle cx="920.5" cy="754.1"/><circle cx="324.2" cy="817.9"/><circle cx="493.4" cy="588.4"/><circle cx="698.9" cy="450.1"/><circle cx="186.9" cy="547.2"/><circle cx="331.0" cy="760.1"/><circle cx="565.1" cy="220.7"/><circle cx="751.6" cy="605.9"/><circle cx="693.9" cy="185.2"/><circle cx="318.4" cy="835.4"/><circle cx="1008.3" cy="771.3"/><circle cx="778.8" cy="587.1"/><circle cx="669.3" cy="702.4"/><circle cx="640.0" cy="694.0"/><circle cx="543.9" cy="243.2"/><circle cx="940.6" cy="733.9"/><circle cx="802.5" cy="793.8"/><circle cx="710.6" cy="172.9"/><circle cx="686.2" cy="119.5"/><circle cx="517.9" cy="532.4"/><circle cx="598.9" cy="445.0"/><circle cx="369.1" cy="834.3"/><circle cx="950.3" cy="768.9"/><circle cx="550.0" cy="240.2"/><circle cx="229.8" cy="524.9"/><circle cx="200.4" cy="513.0"/><circle cx="799.7" cy="316.5"/><circle cx="699.5" cy="439.1"/><circle cx="166.3" cy="559.0"/><circle cx="497.4" cy="560.0"/><circle cx="318.2" cy="750.0"/><circle cx="360.8" cy="758.4"/><circle cx="719.7" cy="468.9"/><circle cx="975.4" cy="764.8"/><circle cx="554.9" cy="230.0"/><circle cx="563.3" cy="500.8"/><circle cx="1018.4" cy="653.2"/><circle cx="616.0" cy="396.0"/><circle cx="362.3" cy="833.1"/><circle cx="785.7" cy="313.9"/><circle cx="752.6" cy="218.4"/><circle cx="1008.9" cy="728.1"/><circle cx="738.2" cy="191.5"/><circle cx="611.7" cy="425.7"/><circle cx="320.0" cy="853.1"/><circle cx="983.3" cy="675.1"/><circle cx="635.6" cy="416.9"/><circle cx="798.3" cy="308.5"/><circle cx="750.9" cy="593.3"/><circle cx="724.6" cy="453.8"/><circle cx="617.1" cy="458.1"/><circle cx="1035.7" cy="695.3"/><circle cx="732.2" cy="176.6"/><circle cx="567.8" cy="218.3"/><circle cx="1010.5" cy="726.1"/><circle cx="962.2" cy="713.1"/><circle cx="496.9" cy="881.0"/><circle cx="627.0" cy="702.4"/><circle cx="340.8" cy="831.2"/><circle cx="946.3" cy="781.6"/><circle cx="1005.2" cy="750.9"/><circle cx="1006.0" cy="716.7"/><circle cx="386.4" cy="396.6"/><circle cx="454.4" cy="592.0"/><circle cx="462.3" cy="559.7"/><circle cx="670.0" cy="117.0"/><circle cx="182.2" cy="568.8"/><circle cx="987.4" cy="713.2"/><circle cx="591.0" cy="414.9"/><circle cx="933.6" cy="729.4"/><circle cx="556.9" cy="214.8"/><circle cx="610.9" cy="658.2"/><circle cx="158.3" cy="556.9"/><circle cx="739.5" cy="853.0"/><circle cx="1029.8" cy="760.9"/><circle cx="685.3" cy="146.5"/><circle cx="916.6" cy="766.9"/><circle cx="699.9" cy="147.3"/><circle cx="567.9" cy="782.6"/><circle cx="1018.1" cy="682.5"/><circle cx="647.2" cy="667.0"/><circle cx="184.4" cy="551.5"/><circle cx="544.7" cy="226.1"/><circle cx="520.7" cy="450.5"/><circle cx="386.5" cy="833.5"/><circle cx="960.7" cy="683.1"/><circle cx="832.4" cy="294.3"/><circle cx="992.9" cy="710.8"/><circle cx="577.4" cy="231.4"/><circle cx="577.5" cy="761.2"/><circle cx="412.5" cy="810.3"/><circle cx="638.1" cy="425.2"/><circle cx="359.9" cy="793.1"/><circle cx="1025.9" cy="689.5"/><circle cx="939.0" cy="690.3"/><circle cx="920.3" cy="711.7"/><circle cx="382.1" cy="805.7"/><circle cx="295.1" cy="820.0"/><circle cx="702.5" cy="116.0"/><circle cx="1017.1" cy="725.8"/><circle cx="449.0" cy="853.6"/><circle cx="566.7" cy="481.7"/><circle cx="676.3" cy="462.3"/><circle cx="1016.7" cy="725.4"/><circle cx="781.1" cy="583.3"/><circle cx="913.3" cy="777.7"/><circle cx="1036.5" cy="746.3"/><circle cx="234.1" cy="525.1"/><circle cx="928.4" cy="779.7"/><circle cx="693.8" cy="126.6"/><circle cx="1002.7" cy="676.1"/><circle cx="724.4" cy="153.2"/><circle cx="406.7" cy="417.5"/><circle cx="336.5" cy="849.1"/><circle cx="1048.9" cy="667.9"/><circle cx="1028.7" cy="717.8"/><circle cx="620.5" cy="875.0"/><circle cx="770.0" cy="264.5"/><circle cx="740.1" cy="849.3"/><circle cx="379.9" cy="838.1"/><circle cx="697.3" cy="470.1"/><circle cx="985.7" cy="724.6"/><circle cx="721.4" cy="453.3"/><circle cx="737.5" cy="275.5"/><circle cx="648.3" cy="462.5"/><circle cx="636.3" cy="430.9"/><circle cx="724.4" cy="125.4"/><circle cx="401.3" cy="820.6"/><circle cx="388.0" cy="753.0"/><circle cx="593.5" cy="387.9"/><circle cx="560.2" cy="765.4"/><circle cx="315.8" cy="823.2"/><circle cx="1059.5" cy="670.1"/><circle cx="404.6" cy="402.6"/><circle cx="624.6" cy="661.7"/><circle cx="998.6" cy="684.2"/><circle cx="311.8" cy="857.0"/><circle cx="212.0" cy="523.5"/><circle cx="382.2" cy="845.2"/><circle cx="173.4" cy="545.7"/><circle cx="743.3" cy="557.2"/><circle cx="480.0" cy="453.3"/><circle cx="492.5" cy="484.2"/><circle cx="729.5" cy="841.3"/><circle cx="392.6" cy="399.8"/><circle cx="377.8" cy="834.3"/><circle cx="724.3" cy="855.3"/><circle cx="617.5" cy="671.0"/><circle cx="717.3" cy="840.8"/><circle cx="968.9" cy="684.3"/><circle cx="374.5" cy="756.8"/><circle cx="380.1" cy="798.4"/><circle cx="727.7" cy="181.9"/><circle cx="405.0" cy="814.4"/><circle cx="599.9" cy="652.7"/><circle cx="360.6" cy="855.1"/><circle cx="347.8" cy="752.1"/><circle cx="718.4" cy="587.5"/><circle cx="673.4" cy="709.3"/><circle cx="497.3" cy="542.6"/><circle cx="317.3" cy="842.0"/><circle cx="232.0" cy="544.0"/><circle cx="580.6" cy="466.1"/><circle cx="326.1" cy="747.6"/><circle cx="636.7" cy="906.6"/><circle cx="712.2" cy="847.6"/><circle cx="733.2" cy="153.6"/><circle cx="941.0" cy="715.6"/><circle cx="492.3" cy="871.7"/><circle cx="335.3" cy="776.8"/><circle cx="223.5" cy="548.7"/><circle cx="488.0" cy="559.9"/><circle cx="746.8" cy="237.4"/><circle cx="605.1" cy="414.6"/><circle cx="597.3" cy="398.1"/><circle cx="515.1" cy="550.7"/><circle cx="1033.3" cy="710.4"/><circle cx="377.0" cy="783.4"/><circle cx="233.2" cy="575.0"/><circle cx="715.6" cy="128.0"/><circle cx="550.1" cy="218.9"/><circle cx="400.4" cy="833.0"/><circle cx="1026.6" cy="719.7"/><circle cx="727.3" cy="859.3"/><circle cx="780.1" cy="297.3"/><circle cx="711.0" cy="584.0"/><circle cx="1003.8" cy="746.8"/><circle cx="800.6" cy="309.0"/><circle cx="598.2" cy="390.1"/><circle cx="1036.5" cy="704.8"/><circle cx="594.4" cy="451.7"/><circle cx="1041.1" cy="745.6"/><circle cx="723.6" cy="463.8"/><circle cx="933.0" cy="762.5"/><circle cx="548.1" cy="771.1"/><circle cx="736.1" cy="150.2"/><circle cx="718.4" cy="591.2"/><circle cx="708.5" cy="439.7"/><circle cx="446.3" cy="591.8"/><circle cx="412.2" cy="841.3"/><circle cx="729.5" cy="590.1"/><circle cx="345.6" cy="855.3"/><circle cx="1031.3" cy="736.5"/><circle cx="1046.8" cy="729.2"/><circle cx="449.4" cy="593.0"/><circle cx="329.3" cy="732.7"/><circle cx="397.7" cy="394.0"/><circle cx="206.7" cy="512.1"/><circle cx="1011.9" cy="699.5"/><circle cx="456.0" cy="580.7"/><circle cx="713.8" cy="231.2"/><circle cx="353.0" cy="798.6"/><circle cx="340.7" cy="750.3"/><circle cx="476.9" cy="595.7"/><circle cx="154.4" cy="533.1"/><circle cx="669.6" cy="433.0"/><circle cx="729.9" cy="855.7"/><circle cx="787.0" cy="222.2"/><circle cx="712.0" cy="270.0"/><circle cx="319.9" cy="825.4"/><circle cx="992.7" cy="712.4"/><circle cx="486.7" cy="501.7"/><circle cx="378.5" cy="815.3"/><circle cx="808.0" cy="337.0"/><circle cx="943.7" cy="741.6"/><circle cx="374.3" cy="826.2"/><circle cx="215.3" cy="544.3"/><circle cx="1020.8" cy="688.7"/><circle cx="603.1" cy="412.8"/><circle cx="936.1" cy="778.5"/><circle cx="439.9" cy="844.8"/><circle cx="349.7" cy="777.6"/><circle cx="1030.1" cy="716.0"/><circle cx="558.5" cy="770.3"/><circle cx="1016.8" cy="657.9"/><circle cx="947.7" cy="748.5"/><circle cx="1031.3" cy="725.1"/><circle cx="212.9" cy="523.2"/><circle cx="349.5" cy="749.3"/><circle cx="493.4" cy="548.9"/><circle cx="555.9" cy="235.8"/><circle cx="939.6" cy="725.3"/><circle cx="981.8" cy="708.3"/><circle cx="490.8" cy="500.0"/><circle cx="149.5" cy="554.7"/><circle cx="983.9" cy="733.1"/><circle cx="470.7" cy="866.8"/><circle cx="625.6" cy="417.7"/><circle cx="690.6" cy="152.8"/><circle cx="150.2" cy="544.0"/><circle cx="783.6" cy="584.7"/><circle cx="446.4" cy="583.1"/><circle cx="348.4" cy="842.4"/><circle cx="355.0" cy="729.1"/><circle cx="527.2" cy="1000.8"/><circle cx="918.7" cy="771.0"/><circle cx="837.4" cy="294.0"/><circle cx="829.5" cy="297.0"/><circle cx="813.4" cy="291.3"/><circle cx="745.0" cy="272.5"/><circle cx="611.1" cy="670.8"/><circle cx="451.3" cy="843.2"/><circle cx="683.9" cy="136.0"/><circle cx="293.6" cy="814.5"/><circle cx="916.8" cy="746.2"/><circle cx="747.5" cy="795.0"/><circle cx="687.8" cy="125.6"/><circle cx="229.1" cy="546.9"/><circle cx="310.5" cy="799.8"/><circle cx="332.0" cy="806.7"/><circle cx="836.5" cy="285.7"/><circle cx="1020.4" cy="707.5"/><circle cx="200.1" cy="524.2"/><circle cx="711.2" cy="860.0"/><circle cx="685.7" cy="117.0"/><circle cx="996.9" cy="724.3"/><circle cx="496.9" cy="873.6"/><circle cx="305.7" cy="842.2"/><circle cx="687.3" cy="146.0"/><circle cx="1031.1" cy="634.0"/><circle cx="656.7" cy="428.3"/><circle cx="663.6" cy="167.0"/><circle cx="441.8" cy="574.3"/><circle cx="639.4" cy="914.0"/><circle cx="1019.8" cy="738.4"/><circle cx="981.6" cy="763.4"/><circle cx="1028.9" cy="725.5"/><circle cx="762.1" cy="591.3"/><circle cx="297.5" cy="836.3"/><circle cx="914.6" cy="776.3"/><circle cx="461.8" cy="599.5"/><circle cx="683.8" cy="431.1"/><circle cx="961.3" cy="689.5"/><circle cx="960.5" cy="757.9"/><circle cx="394.6" cy="830.9"/><circle cx="552.5" cy="788.8"/><circle cx="593.2" cy="456.7"/><circle cx="820.8" cy="233.0"/><circle cx="333.4" cy="744.4"/><circle cx="834.1" cy="292.5"/><circle cx="617.1" cy="654.6"/><circle cx="982.5" cy="690.8"/><circle cx="190.1" cy="534.8"/><circle cx="161.1" cy="561.4"/><circle cx="389.5" cy="405.5"/><circle cx="678.7" cy="162.0"/><circle cx="697.7" cy="174.4"/><circle cx="293.4" cy="820.7"/><circle cx="503.4" cy="546.7"/><circle cx="931.6" cy="767.2"/><circle cx="1057.6" cy="683.8"/><circle cx="690.8" cy="139.8"/><circle cx="700.3" cy="186.4"/><circle cx="468.5" cy="564.8"/><circle cx="743.8" cy="204.2"/><circle cx="741.1" cy="847.9"/><circle cx="718.1" cy="852.7"/><circle cx="418.1" cy="445.5"/><circle cx="964.1" cy="721.6"/><circle cx="294.5" cy="821.8"/><circle cx="736.1" cy="204.4"/><circle cx="336.8" cy="863.9"/><circle cx="409.7" cy="837.3"/><circle cx="587.1" cy="422.4"/><circle cx="427.8" cy="821.0"/><circle cx="379.0" cy="858.8"/><circle cx="509.2" cy="456.3"/><circle cx="321.2" cy="817.1"/><circle cx="665.0" cy="119.7"/><circle cx="712.7" cy="150.7"/><circle cx="709.6" cy="175.6"/><circle cx="464.9" cy="861.2"/><circle cx="569.3" cy="767.7"/><circle cx="480.8" cy="523.3"/><circle cx="582.1" cy="227.2"/><circle cx="237.2" cy="514.7"/><circle cx="754.6" cy="598.3"/><circle cx="958.3" cy="778.8"/><circle cx="697.2" cy="430.2"/><circle cx="727.2" cy="166.6"/><circle cx="754.3" cy="586.6"/><circle cx="949.7" cy="750.9"/><circle cx="324.7" cy="804.5"/><circle cx="178.4" cy="533.6"/><circle cx="175.0" cy="541.0"/><circle cx="435.5" cy="576.7"/><circle cx="409.3" cy="437.5"/><circle cx="1006.0" cy="774.8"/><circle cx="480.9" cy="559.2"/><circle cx="1047.2" cy="698.1"/><circle cx="632.5" cy="900.0"/><circle cx="402.7" cy="808.0"/><circle cx="706.4" cy="182.0"/><circle cx="345.8" cy="824.6"/><circle cx="967.0" cy="748.6"/><circle cx="674.8" cy="732.3"/><circle cx="516.9" cy="445.2"/><circle cx="925.6" cy="760.2"/><circle cx="688.3" cy="444.1"/><circle cx="591.8" cy="389.8"/><circle cx="677.1" cy="175.3"/><circle cx="381.6" cy="779.1"/><circle cx="501.6" cy="870.6"/><circle cx="317.9" cy="788.6"/><circle cx="1022.8" cy="687.2"/><circle cx="322.2" cy="804.5"/><circle cx="515.3" cy="876.8"/><circle cx="629.8" cy="706.9"/><circle cx="972.6" cy="684.5"/><circle cx="418.8" cy="839.2"/><circle cx="822.3" cy="283.1"/><circle cx="519.1" cy="444.9"/><circle cx="305.4" cy="827.3"/><circle cx="989.2" cy="704.8"/><circle cx="598.6" cy="683.7"/><circle cx="630.8" cy="245.0"/><circle cx="518.6" cy="1019.2"/><circle cx="545.5" cy="771.6"/><circle cx="181.4" cy="568.2"/><circle cx="566.9" cy="229.5"/><circle cx="805.5" cy="273.0"/><circle cx="819.2" cy="292.7"/><circle cx="344.8" cy="741.3"/><circle cx="771.5" cy="598.9"/><circle cx="701.4" cy="442.5"/><circle cx="609.5" cy="391.0"/><circle cx="770.1" cy="216.7"/><circle cx="442.8" cy="560.2"/><circle cx="988.8" cy="729.2"/><circle cx="636.7" cy="243.3"/><circle cx="915.2" cy="775.4"/><circle cx="378.1" cy="773.6"/><circle cx="498.3" cy="522.5"/><circle cx="366.0" cy="788.1"/><circle cx="474.9" cy="571.3"/><circle cx="386.7" cy="813.8"/><circle cx="602.1" cy="660.9"/><circle cx="316.2" cy="803.2"/><circle cx="1052.5" cy="720.4"/><circle cx="290.2" cy="819.5"/><circle cx="423.4" cy="544.1"/><circle cx="1014.6" cy="645.6"/><circle cx="464.0" cy="589.8"/><circle cx="784.7" cy="312.7"/><circle cx="365.8" cy="844.4"/><circle cx="468.9" cy="564.7"/><circle cx="548.2" cy="780.8"/><circle cx="532.7" cy="1006.2"/><circle cx="462.1" cy="862.7"/><circle cx="933.0" cy="734.1"/><circle cx="629.6" cy="915.7"/><circle cx="338.4" cy="863.5"/><circle cx="304.5" cy="845.2"/><circle cx="433.2" cy="826.8"/><circle cx="677.3" cy="145.1"/><circle cx="585.7" cy="227.3"/><circle cx="316.3" cy="843.8"/><circle cx="758.4" cy="239.1"/><circle cx="711.0" cy="140.9"/><circle cx="695.9" cy="847.6"/><circle cx="201.1" cy="570.2"/><circle cx="726.3" cy="184.0"/><circle cx="388.6" cy="420.0"/><circle cx="496.0" cy="556.2"/><circle cx="968.9" cy="747.9"/><circle cx="201.2" cy="553.4"/><circle cx="991.9" cy="678.3"/><circle cx="354.4" cy="838.3"/><circle cx="361.5" cy="778.2"/><circle cx="342.7" cy="733.5"/><circle cx="914.2" cy="758.0"/><circle cx="173.2" cy="529.4"/><circle cx="1011.8" cy="761.9"/><circle cx="961.8" cy="772.3"/><circle cx="403.4" cy="803.6"/><circle cx="631.6" cy="442.0"/><circle cx="974.8" cy="754.9"/><circle cx="685.9" cy="458.5"/><circle cx="965.2" cy="683.1"/><circle cx="541.0" cy="241.7"/><circle cx="607.1" cy="443.3"/><circle cx="720.6" cy="148.3"/><circle cx="756.7" cy="199.2"/><circle cx="505.1" cy="559.4"/><circle cx="609.3" cy="645.8"/><circle cx="443.1" cy="563.8"/><circle cx="966.8" cy="710.1"/><circle cx="642.4" cy="683.7"/><circle cx="592.7" cy="427.3"/><circle cx="193.3" cy="532.9"/><circle cx="591.6" cy="454.7"/><circle cx="1022.4" cy="696.3"/><circle cx="967.8" cy="717.9"/><circle cx="724.2" cy="851.1"/><circle cx="734.6" cy="147.4"/><circle cx="673.6" cy="116.9"/><circle cx="705.0" cy="158.4"/><circle cx="411.4" cy="444.1"/><circle cx="668.7" cy="439.8"/><circle cx="355.6" cy="767.7"/><circle cx="1041.0" cy="660.2"/><circle cx="802.0" cy="316.9"/><circle cx="185.0" cy="529.6"/><circle cx="693.1" cy="453.8"/><circle cx="458.6" cy="570.1"/><circle cx="399.0" cy="428.8"/><circle cx="502.4" cy="876.2"/><circle cx="763.1" cy="590.7"/><circle cx="437.6" cy="840.4"/><circle cx="769.5" cy="258.7"/><circle cx="359.6" cy="814.7"/><circle cx="648.0" cy="915.5"/><circle cx="738.2" cy="603.1"/><circle cx="153.5" cy="555.3"/><circle cx="384.3" cy="834.1"/><circle cx="357.6" cy="760.1"/><circle cx="671.0" cy="125.0"/><circle cx="965.2" cy="738.5"/><circle cx="914.8" cy="711.9"/><circle cx="187.7" cy="530.8"/><circle cx="628.7" cy="685.5"/><circle cx="1057.8" cy="703.1"/><circle cx="446.7" cy="414.7"/><circle cx="464.4" cy="569.7"/><circle cx="702.8" cy="442.7"/><circle cx="820.5" cy="285.3"/><circle cx="622.3" cy="441.4"/><circle cx="1015.3" cy="696.3"/><circle cx="745.8" cy="596.8"/><circle cx="348.7" cy="789.5"/><circle cx="986.5" cy="664.3"/><circle cx="801.0" cy="303.3"/><circle cx="444.8" cy="586.0"/><circle cx="499.2" cy="519.2"/><circle cx="831.7" cy="298.2"/><circle cx="612.8" cy="235.2"/><circle cx="315.4" cy="856.0"/><circle cx="160.2" cy="562.4"/><circle cx="592.0" cy="429.0"/><circle cx="596.7" cy="552.0"/><circle cx="769.0" cy="260.0"/><circle cx="742.1" cy="558.8"/><circle cx="754.8" cy="594.6"/><circle cx="628.0" cy="408.5"/><circle cx="614.4" cy="668.2"/><circle cx="698.8" cy="437.1"/><circle cx="975.9" cy="742.8"/><circle cx="197.0" cy="526.9"/><circle cx="628.6" cy="426.6"/><circle cx="351.6" cy="803.1"/><circle cx="217.5" cy="573.9"/><circle cx="618.3" cy="674.4"/><circle cx="824.9" cy="216.7"/><circle cx="371.9" cy="847.5"/><circle cx="232.8" cy="528.2"/><circle cx="996.2" cy="629.0"/><circle cx="666.8" cy="157.2"/><circle cx="759.2" cy="208.6"/><circle cx="715.3" cy="178.9"/><circle cx="943.9" cy="734.8"/><circle cx="407.7" cy="822.1"/><circle cx="746.2" cy="188.7"/><circle cx="200.0" cy="518.6"/><circle cx="511.5" cy="879.1"/><circle cx="788.7" cy="312.3"/><circle cx="1011.4" cy="738.5"/><circle cx="735.7" cy="163.0"/><circle cx="1044.2" cy="641.0"/><circle cx="689.2" cy="241.7"/><circle cx="510.8" cy="558.2"/><circle cx="818.5" cy="293.3"/><circle cx="314.7" cy="817.4"/><circle cx="678.1" cy="157.2"/><circle cx="671.1" cy="707.5"/><circle cx="313.8" cy="771.0"/><circle cx="385.1" cy="412.6"/><circle cx="714.2" cy="180.5"/><circle cx="910.1" cy="770.1"/><circle cx="616.8" cy="238.3"/><circle cx="831.3" cy="302.2"/><circle cx="441.2" cy="1041.9"/><circle cx="297.7" cy="830.3"/><circle cx="974.9" cy="731.2"/><circle cx="951.1" cy="708.4"/><circle cx="726.0" cy="594.7"/><circle cx="700.3" cy="142.0"/><circle cx="183.6" cy="505.6"/><circle cx="221.3" cy="577.8"/><circle cx="438.0" cy="845.1"/><circle cx="727.5" cy="595.1"/><circle cx="611.8" cy="427.9"/><circle cx="734.2" cy="163.5"/><circle cx="471.6" cy="561.0"/><circle cx="518.8" cy="445.8"/><circle cx="179.1" cy="536.3"/><circle cx="722.4" cy="590.9"/><circle cx="742.1" cy="541.4"/><circle cx="929.6" cy="724.2"/><circle cx="707.1" cy="582.9"/><circle cx="390.5" cy="394.4"/><circle cx="938.4" cy="770.0"/><circle cx="945.2" cy="699.9"/><circle cx="745.2" cy="559.7"/><circle cx="1042.0" cy="652.2"/><circle cx="161.9" cy="552.9"/><circle cx="691.2" cy="134.8"/><circle cx="970.6" cy="706.1"/><circle cx="202.9" cy="539.6"/><circle cx="947.7" cy="758.2"/><circle cx="452.8" cy="573.8"/><circle cx="338.0" cy="820.5"/><circle cx="604.0" cy="696.5"/><circle cx="477.8" cy="862.7"/><circle cx="696.4" cy="176.1"/><circle cx="425.8" cy="423.3"/><circle cx="567.5" cy="462.0"/><circle cx="947.6" cy="678.1"/><circle cx="933.3" cy="784.4"/><circle cx="1040.8" cy="671.8"/><circle cx="422.0" cy="444.2"/><circle cx="507.3" cy="568.7"/><circle cx="1008.1" cy="734.7"/><circle cx="388.1" cy="390.7"/><circle cx="781.0" cy="595.0"/><circle cx="922.7" cy="783.4"/><circle cx="982.7" cy="758.6"/><circle cx="615.0" cy="862.5"/><circle cx="744.8" cy="229.5"/><circle cx="621.5" cy="665.5"/><circle cx="1002.4" cy="711.9"/><circle cx="980.2" cy="724.3"/><circle cx="390.7" cy="386.3"/><circle cx="1000.1" cy="770.3"/><circle cx="971.3" cy="676.5"/><circle cx="961.7" cy="768.0"/><circle cx="447.6" cy="838.8"/><circle cx="353.0" cy="784.7"/><circle cx="567.2" cy="225.4"/><circle cx="201.6" cy="527.5"/><circle cx="932.9" cy="781.5"/><circle cx="385.8" cy="405.6"/><circle cx="688.8" cy="425.6"/><circle cx="194.8" cy="548.0"/><circle cx="993.7" cy="760.0"/><circle cx="192.7" cy="551.1"/><circle cx="636.8" cy="428.8"/><circle cx="724.9" cy="143.3"/><circle cx="1040.9" cy="648.7"/><circle cx="460.1" cy="577.6"/><circle cx="767.8" cy="594.1"/><circle cx="577.9" cy="231.2"/><circle cx="371.5" cy="735.0"/><circle cx="988.7" cy="736.8"/><circle cx="225.1" cy="521.2"/><circle cx="315.3" cy="798.6"/><circle cx="525.1" cy="1001.8"/><circle cx="601.3" cy="648.4"/><circle cx="436.7" cy="530.8"/><circle cx="741.5" cy="602.8"/><circle cx="828.4" cy="300.7"/><circle cx="742.7" cy="538.5"/><circle cx="724.7" cy="167.4"/><circle cx="968.9" cy="637.5"/><circle cx="165.3" cy="554.7"/><circle cx="712.2" cy="170.6"/><circle cx="400.0" cy="784.5"/><circle cx="985.5" cy="690.9"/><circle cx="945.1" cy="752.1"/><circle cx="813.2" cy="242.3"/><circle cx="503.4" cy="575.8"/><circle cx="761.7" cy="605.0"/><circle cx="714.6" cy="154.4"/><circle cx="714.2" cy="589.1"/><circle cx="702.6" cy="184.4"/><circle cx="750.8" cy="210.8"/><circle cx="545.9" cy="226.8"/><circle cx="563.3" cy="245.8"/><circle cx="244.5" cy="496.5"/><circle cx="1010.4" cy="702.9"/><circle cx="611.2" cy="851.2"/><circle cx="612.4" cy="398.7"/><circle cx="633.8" cy="905.0"/><circle cx="388.7" cy="811.3"/><circle cx="1003.7" cy="718.0"/><circle cx="680.1" cy="421.6"/><circle cx="631.8" cy="683.2"/><circle cx="172.3" cy="555.5"/><circle cx="349.2" cy="803.8"/><circle cx="466.3" cy="844.9"/><circle cx="996.4" cy="716.3"/><circle cx="972.6" cy="705.4"/><circle cx="315.3" cy="840.3"/><circle cx="631.7" cy="920.4"/><circle cx="956.7" cy="745.6"/><circle cx="230.2" cy="549.3"/><circle cx="384.3" cy="818.2"/><circle cx="185.3" cy="529.3"/><circle cx="367.8" cy="804.5"/><circle cx="1017.6" cy="722.0"/><circle cx="479.6" cy="1029.3"/><circle cx="667.2" cy="140.5"/><circle cx="995.4" cy="689.8"/><circle cx="463.0" cy="560.8"/><circle cx="332.1" cy="840.4"/><circle cx="400.3" cy="427.1"/><circle cx="828.8" cy="281.7"/><circle cx="577.5" cy="753.0"/><circle cx="182.3" cy="530.4"/><circle cx="586.9" cy="388.5"/><circle cx="348.1" cy="824.0"/><circle cx="921.2" cy="782.6"/><circle cx="604.5" cy="458.3"/><circle cx="996.8" cy="626.1"/><circle cx="296.3" cy="825.2"/><circle cx="218.8" cy="534.7"/><circle cx="679.8" cy="130.3"/><circle cx="374.5" cy="747.0"/><circle cx="203.8" cy="515.3"/><circle cx="618.7" cy="414.4"/><circle cx="608.4" cy="648.2"/><circle cx="298.1" cy="810.5"/><circle cx="364.2" cy="811.9"/><circle cx="706.6" cy="445.6"/><circle cx="1015.1" cy="641.1"/><circle cx="405.7" cy="430.4"/><circle cx="724.4" cy="460.3"/><circle cx="944.8" cy="781.5"/><circle cx="768.4" cy="592.9"/><circle cx="171.9" cy="517.8"/><circle cx="475.3" cy="575.9"/><circle cx="767.5" cy="236.0"/><circle cx="337.4" cy="814.7"/><circle cx="628.8" cy="660.3"/><circle cx="566.4" cy="780.0"/><circle cx="417.6" cy="436.7"/><circle cx="439.7" cy="573.4"/><circle cx="481.0" cy="567.6"/><circle cx="928.8" cy="773.2"/><circle cx="984.9" cy="697.2"/><circle cx="989.5" cy="730.0"/><circle cx="465.6" cy="854.0"/><circle cx="975.9" cy="658.7"/><circle cx="233.0" cy="546.7"/><circle cx="760.8" cy="594.4"/><circle cx="629.2" cy="242.5"/><circle cx="540.8" cy="433.3"/><circle cx="211.5" cy="536.9"/><circle cx="579.9" cy="771.0"/><circle cx="949.9" cy="739.3"/><circle cx="916.5" cy="726.8"/><circle cx="417.9" cy="556.5"/><circle cx="449.6" cy="596.3"/><circle cx="427.4" cy="540.5"/><circle cx="209.0" cy="504.7"/><circle cx="676.0" cy="143.8"/><circle cx="387.7" cy="820.6"/><circle cx="1043.9" cy="644.0"/><circle cx="684.8" cy="127.3"/><circle cx="354.7" cy="743.9"/><circle cx="728.8" cy="718.8"/><circle cx="599.0" cy="411.3"/><circle cx="442.4" cy="581.4"/><circle cx="795.8" cy="266.8"/><circle cx="384.4" cy="804.9"/><circle cx="755.7" cy="584.6"/><circle cx="715.0" cy="946.2"/><circle cx="577.1" cy="767.7"/><circle cx="263.2" cy="490.4"/><circle cx="917.1" cy="757.3"/><circle cx="992.3" cy="759.0"/><circle cx="953.3" cy="740.8"/><circle cx="423.6" cy="564.8"/><circle cx="397.6" cy="428.9"/><circle cx="626.4" cy="407.3"/><circle cx="1031.1" cy="733.1"/><circle cx="191.4" cy="533.0"/><circle cx="415.7" cy="440.6"/><circle cx="1045.0" cy="653.3"/><circle cx="309.4" cy="861.3"/><circle cx="997.1" cy="731.5"/><circle cx="446.6" cy="579.6"/><circle cx="184.6" cy="529.3"/><circle cx="550.1" cy="212.5"/><circle cx="814.6" cy="280.2"/><circle cx="540.4" cy="219.4"/><circle cx="442.5" cy="544.2"/><circle cx="357.4" cy="732.2"/><circle cx="198.8" cy="568.4"/><circle cx="365.1" cy="815.7"/><circle cx="224.4" cy="546.8"/><circle cx="173.4" cy="544.1"/><circle cx="343.1" cy="801.6"/><circle cx="739.1" cy="591.0"/><circle cx="994.1" cy="711.3"/><circle cx="337.8" cy="861.8"/><circle cx="1002.5" cy="742.8"/><circle cx="676.8" cy="163.3"/><circle cx="233.7" cy="531.2"/><circle cx="454.6" cy="841.7"/><circle cx="507.7" cy="558.8"/><circle cx="669.0" cy="457.8"/><circle cx="164.4" cy="562.4"/><circle cx="515.0" cy="412.5"/><circle cx="162.3" cy="541.7"/><circle cx="592.1" cy="462.3"/><circle cx="663.3" cy="446.7"/><circle cx="479.1" cy="590.0"/><circle cx="955.0" cy="709.1"/><circle cx="355.7" cy="835.5"/><circle cx="367.9" cy="792.7"/><circle cx="724.2" cy="860.6"/><circle cx="638.2" cy="912.6"/><circle cx="633.9" cy="426.6"/><circle cx="685.0" cy="161.0"/><circle cx="947.4" cy="763.6"/><circle cx="598.0" cy="231.9"/><circle cx="915.2" cy="715.2"/><circle cx="972.8" cy="775.9"/><circle cx="942.0" cy="692.1"/><circle cx="1001.7" cy="644.7"/><circle cx="902.4" cy="557.0"/><circle cx="444.2" cy="412.5"/><circle cx="593.6" cy="228.6"/><circle cx="623.6" cy="458.4"/><circle cx="780.5" cy="253.5"/><circle cx="984.7" cy="734.8"/><circle cx="476.7" cy="591.6"/><circle cx="626.7" cy="901.8"/><circle cx="666.7" cy="242.5"/><circle cx="803.3" cy="221.3"/><circle cx="676.8" cy="728.3"/><circle cx="610.2" cy="399.1"/><circle cx="608.8" cy="652.6"/><circle cx="1018.9" cy="650.5"/><circle cx="422.5" cy="569.6"/><circle cx="614.0" cy="683.9"/><circle cx="992.5" cy="694.3"/><circle cx="800.9" cy="303.7"/><circle cx="337.9" cy="729.5"/><circle cx="700.1" cy="149.7"/><circle cx="793.1" cy="308.6"/><circle cx="149.9" cy="548.4"/><circle cx="728.8" cy="460.9"/><circle cx="1006.2" cy="732.1"/><circle cx="299.9" cy="821.5"/><circle cx="1009.4" cy="716.4"/><circle cx="333.9" cy="821.7"/><circle cx="214.0" cy="567.0"/><circle cx="618.7" cy="454.6"/><circle cx="461.3" cy="590.4"/><circle cx="379.9" cy="773.2"/><circle cx="345.2" cy="834.4"/><circle cx="399.5" cy="806.3"/><circle cx="511.8" cy="449.8"/><circle cx="724.2" cy="129.3"/><circle cx="660.0" cy="440.0"/><circle cx="226.8" cy="532.8"/><circle cx="677.3" cy="149.6"/><circle cx="385.9" cy="797.2"/><circle cx="666.5" cy="135.3"/><circle cx="195.9" cy="570.0"/><circle cx="506.5" cy="558.4"/><circle cx="681.2" cy="129.5"/><circle cx="922.4" cy="781.0"/><circle cx="365.2" cy="850.4"/><circle cx="356.1" cy="726.4"/><circle cx="203.8" cy="552.8"/><circle cx="581.5" cy="224.9"/><circle cx="964.0" cy="739.7"/><circle cx="950.6" cy="725.8"/><circle cx="539.7" cy="232.9"/><circle cx="469.4" cy="570.4"/><circle cx="495.3" cy="874.4"/><circle cx="197.0" cy="519.0"/><circle cx="721.8" cy="857.8"/><circle cx="637.5" cy="920.0"/><circle cx="729.7" cy="164.5"/><circle cx="324.8" cy="849.2"/><circle cx="311.1" cy="803.5"/><circle cx="947.2" cy="686.3"/><circle cx="599.8" cy="456.5"/><circle cx="799.7" cy="270.5"/><circle cx="683.2" cy="175.8"/><circle cx="663.9" cy="140.0"/><circle cx="480.6" cy="872.9"/><circle cx="665.0" cy="128.2"/><circle cx="644.2" cy="247.0"/><circle cx="560.6" cy="780.7"/><circle cx="700.4" cy="172.3"/><circle cx="654.5" cy="979.5"/><circle cx="676.0" cy="141.4"/><circle cx="709.9" cy="846.6"/><circle cx="483.3" cy="868.5"/><circle cx="474.6" cy="570.6"/><circle cx="709.8" cy="135.0"/><circle cx="993.5" cy="630.4"/><circle cx="337.5" cy="794.7"/><circle cx="481.5" cy="581.7"/><circle cx="781.0" cy="263.3"/><circle cx="381.0" cy="836.3"/><circle cx="767.9" cy="583.0"/><circle cx="216.6" cy="538.8"/><circle cx="443.2" cy="578.3"/><circle cx="424.3" cy="555.3"/><circle cx="545.6" cy="781.4"/><circle cx="429.0" cy="823.7"/><circle cx="753.8" cy="243.3"/><circle cx="232.9" cy="574.6"/><circle cx="994.5" cy="777.1"/><circle cx="632.8" cy="705.3"/><circle cx="712.9" cy="236.5"/><circle cx="805.9" cy="219.6"/><circle cx="698.2" cy="121.5"/><circle cx="726.3" cy="175.1"/><circle cx="969.0" cy="681.0"/><circle cx="984.1" cy="710.4"/><circle cx="188.6" cy="502.5"/><circle cx="300.3" cy="811.7"/><circle cx="690.9" cy="422.3"/><circle cx="750.0" cy="571.0"/><circle cx="727.7" cy="598.1"/><circle cx="755.6" cy="563.3"/><circle cx="1029.8" cy="698.0"/><circle cx="953.6" cy="696.5"/><circle cx="899.0" cy="563.0"/><circle cx="1031.7" cy="659.6"/><circle cx="305.3" cy="824.4"/><circle cx="1002.0" cy="772.5"/><circle cx="679.5" cy="173.0"/><circle cx="296.8" cy="841.1"/><circle cx="976.0" cy="737.0"/><circle cx="1009.6" cy="693.5"/><circle cx="580.4" cy="223.5"/><circle cx="595.6" cy="386.4"/><circle cx="561.7" cy="229.0"/><circle cx="1028.1" cy="742.8"/><circle cx="981.2" cy="703.2"/><circle cx="627.5" cy="900.0"/><circle cx="835.7" cy="283.4"/><circle cx="702.5" cy="934.2"/><circle cx="611.2" cy="786.2"/><circle cx="554.6" cy="769.8"/><circle cx="933.2" cy="700.9"/><circle cx="426.2" cy="443.9"/><circle cx="586.3" cy="404.1"/><circle cx="365.9" cy="777.0"/><circle cx="412.0" cy="816.4"/><circle cx="758.7" cy="597.9"/><circle cx="340.9" cy="862.1"/><circle cx="813.3" cy="278.7"/><circle cx="570.0" cy="242.5"/><circle cx="713.7" cy="464.4"/><circle cx="477.1" cy="568.8"/><circle cx="1011.8" cy="717.7"/><circle cx="1004.8" cy="735.0"/><circle cx="373.8" cy="858.0"/><circle cx="715.6" cy="152.4"/><circle cx="719.5" cy="160.5"/><circle cx="976.0" cy="757.1"/><circle cx="320.7" cy="746.5"/><circle cx="551.3" cy="779.8"/><circle cx="465.9" cy="863.1"/><circle cx="1012.6" cy="764.1"/><circle cx="730.9" cy="160.1"/><circle cx="451.3" cy="857.9"/><circle cx="502.2" cy="544.9"/><circle cx="319.4" cy="828.2"/><circle cx="795.9" cy="315.9"/><circle cx="229.2" cy="574.9"/><circle cx="307.1" cy="842.8"/><circle cx="575.1" cy="771.6"/><circle cx="743.6" cy="538.7"/><circle cx="672.8" cy="139.7"/><circle cx="683.8" cy="134.2"/><circle cx="401.8" cy="404.3"/><circle cx="391.3" cy="405.8"/><circle cx="711.7" cy="181.8"/><circle cx="508.4" cy="576.7"/><circle cx="622.1" cy="704.4"/><circle cx="771.0" cy="247.5"/><circle cx="678.6" cy="114.2"/><circle cx="784.7" cy="227.8"/><circle cx="354.7" cy="793.6"/><circle cx="613.7" cy="456.3"/><circle cx="757.2" cy="554.6"/><circle cx="618.3" cy="426.5"/><circle cx="685.5" cy="438.4"/><circle cx="198.2" cy="566.1"/><circle cx="704.1" cy="134.1"/><circle cx="995.2" cy="704.9"/><circle cx="979.8" cy="763.8"/><circle cx="672.8" cy="725.6"/><circle cx="428.1" cy="566.4"/><circle cx="684.4" cy="457.5"/><circle cx="747.8" cy="189.6"/><circle cx="778.1" cy="584.9"/><circle cx="638.8" cy="907.5"/><circle cx="383.0" cy="399.9"/><circle cx="462.3" cy="572.3"/><circle cx="945.1" cy="764.1"/><circle cx="584.1" cy="223.4"/><circle cx="1016.8" cy="665.1"/><circle cx="708.1" cy="843.5"/><circle cx="715.5" cy="468.0"/><circle cx="769.2" cy="283.8"/><circle cx="619.6" cy="688.8"/><circle cx="702.2" cy="117.8"/><circle cx="444.7" cy="574.2"/><circle cx="457.1" cy="578.9"/><circle cx="306.7" cy="795.8"/><circle cx="468.0" cy="569.9"/><circle cx="1014.4" cy="682.8"/><circle cx="934.6" cy="721.7"/><circle cx="678.2" cy="124.8"/><circle cx="360.6" cy="835.4"/><circle cx="297.8" cy="847.5"/><circle cx="986.2" cy="716.9"/><circle cx="357.6" cy="741.3"/><circle cx="304.8" cy="847.2"/><circle cx="993.7" cy="730.0"/><circle cx="686.7" cy="251.2"/><circle cx="454.4" cy="597.6"/><circle cx="495.4" cy="584.3"/><circle cx="487.8" cy="872.4"/><circle cx="760.5" cy="591.5"/><circle cx="393.3" cy="807.9"/><circle cx="777.7" cy="306.6"/><circle cx="418.9" cy="830.1"/><circle cx="755.8" cy="588.8"/><circle cx="956.3" cy="668.5"/><circle cx="678.3" cy="240.0"/><circle cx="712.7" cy="129.4"/><circle cx="299.6" cy="848.3"/><circle cx="924.9" cy="779.1"/><circle cx="670.3" cy="134.8"/><circle cx="920.4" cy="772.2"/><circle cx="761.0" cy="586.2"/><circle cx="388.5" cy="815.4"/><circle cx="198.6" cy="508.2"/><circle cx="237.3" cy="502.6"/><circle cx="1016.8" cy="715.7"/><circle cx="668.6" cy="712.1"/><circle cx="309.2" cy="805.7"/><circle cx="969.6" cy="696.0"/><circle cx="616.8" cy="867.0"/><circle cx="700.1" cy="436.8"/><circle cx="630.2" cy="677.8"/><circle cx="668.7" cy="151.8"/><circle cx="544.8" cy="252.8"/><circle cx="512.2" cy="531.6"/><circle cx="310.9" cy="836.8"/><circle cx="969.6" cy="744.9"/><circle cx="451.7" cy="532.8"/><circle cx="724.8" cy="175.5"/><circle cx="748.5" cy="205.0"/><circle cx="308.6" cy="791.8"/><circle cx="840.7" cy="289.2"/><circle cx="480.0" cy="566.9"/><circle cx="751.0" cy="240.0"/><circle cx="487.3" cy="578.2"/><circle cx="1016.8" cy="732.3"/><circle cx="425.7" cy="579.4"/><circle cx="623.9" cy="668.6"/><circle cx="333.8" cy="784.1"/><circle cx="322.9" cy="729.4"/><circle cx="988.8" cy="678.9"/><circle cx="950.9" cy="773.1"/><circle cx="1037.8" cy="685.8"/><circle cx="599.7" cy="418.8"/><circle cx="164.7" cy="531.0"/><circle cx="585.5" cy="230.5"/><circle cx="788.8" cy="265.1"/><circle cx="963.4" cy="705.7"/><circle cx="551.9" cy="766.4"/><circle cx="672.8" cy="454.5"/><circle cx="172.2" cy="534.0"/><circle cx="342.9" cy="851.8"/><circle cx="830.4" cy="297.9"/><circle cx="1022.8" cy="726.3"/><circle cx="724.1" cy="469.3"/><circle cx="313.3" cy="805.4"/><circle cx="716.0" cy="474.6"/><circle cx="401.2" cy="791.2"/><circle cx="717.2" cy="128.3"/><circle cx="976.6" cy="664.0"/><circle cx="310.3" cy="824.7"/><circle cx="636.6" cy="430.3"/><circle cx="1005.9" cy="723.0"/><circle cx="977.1" cy="778.0"/><circle cx="358.8" cy="834.3"/><circle cx="978.1" cy="714.0"/><circle cx="464.8" cy="594.6"/><circle cx="340.5" cy="789.8"/><circle cx="239.7" cy="546.1"/><circle cx="960.9" cy="697.7"/><circle cx="689.9" cy="129.4"/><circle cx="431.2" cy="543.0"/><circle cx="735.6" cy="559.4"/><circle cx="566.7" cy="776.5"/><circle cx="734.2" cy="151.2"/><circle cx="452.9" cy="850.0"/><circle cx="474.4" cy="851.2"/><circle cx="1019.3" cy="693.8"/><circle cx="702.4" cy="127.6"/><circle cx="463.1" cy="856.3"/><circle cx="683.5" cy="128.7"/><circle cx="598.3" cy="681.5"/><circle cx="680.3" cy="463.3"/><circle cx="1049.6" cy="728.3"/><circle cx="728.9" cy="131.3"/><circle cx="678.3" cy="118.0"/><circle cx="598.2" cy="458.1"/><circle cx="170.7" cy="557.3"/><circle cx="984.0" cy="674.3"/><circle cx="352.8" cy="750.8"/><circle cx="195.3" cy="500.8"/><circle cx="679.4" cy="443.6"/><circle cx="613.0" cy="700.9"/><circle cx="689.4" cy="454.2"/><circle cx="353.7" cy="824.6"/><circle cx="704.5" cy="143.5"/><circle cx="1014.7" cy="653.4"/><circle cx="628.8" cy="927.5"/><circle cx="619.6" cy="680.3"/><circle cx="708.2" cy="459.4"/><circle cx="957.7" cy="766.1"/><circle cx="447.1" cy="571.5"/><circle cx="696.4" cy="433.0"/><circle cx="996.7" cy="678.3"/><circle cx="182.4" cy="527.8"/><circle cx="575.8" cy="474.2"/><circle cx="388.9" cy="420.6"/><circle cx="682.5" cy="174.2"/><circle cx="351.6" cy="814.1"/><circle cx="713.0" cy="143.2"/><circle cx="964.8" cy="745.9"/><circle cx="432.1" cy="444.3"/><circle cx="936.1" cy="751.2"/><circle cx="741.7" cy="190.2"/><circle cx="222.7" cy="546.2"/><circle cx="939.9" cy="722.6"/><circle cx="987.2" cy="705.4"/><circle cx="793.9" cy="310.9"/><circle cx="365.0" cy="798.4"/><circle cx="980.9" cy="666.1"/><circle cx="488.9" cy="585.1"/><circle cx="401.6" cy="827.7"/><circle cx="343.3" cy="761.6"/><circle cx="708.4" cy="471.8"/><circle cx="585.8" cy="466.4"/><circle cx="996.5" cy="667.0"/><circle cx="210.8" cy="522.5"/><circle cx="946.6" cy="766.8"/><circle cx="723.6" cy="535.0"/><circle cx="528.3" cy="1004.0"/><circle cx="158.8" cy="553.4"/><circle cx="549.4" cy="232.3"/><circle cx="690.8" cy="450.6"/><circle cx="413.7" cy="437.6"/><circle cx="600.8" cy="778.2"/><circle cx="715.3" cy="851.9"/><circle cx="940.0" cy="742.2"/><circle cx="619.0" cy="430.0"/><circle cx="336.1" cy="798.9"/><circle cx="553.0" cy="790.5"/><circle cx="172.4" cy="560.1"/><circle cx="214.5" cy="507.7"/><circle cx="363.5" cy="826.1"/><circle cx="1021.5" cy="747.4"/><circle cx="990.7" cy="688.1"/><circle cx="922.9" cy="786.9"/><circle cx="346.9" cy="784.5"/><circle cx="490.7" cy="556.6"/><circle cx="219.0" cy="568.7"/><circle cx="587.5" cy="240.8"/><circle cx="656.7" cy="456.7"/><circle cx="962.5" cy="764.3"/><circle cx="1006.1" cy="734.9"/><circle cx="160.9" cy="535.0"/><circle cx="1035.9" cy="711.7"/><circle cx="1004.2" cy="734.0"/><circle cx="687.5" cy="239.5"/><circle cx="396.3" cy="413.1"/><circle cx="949.9" cy="759.0"/><circle cx="289.4" cy="831.1"/><circle cx="606.1" cy="679.3"/><circle cx="716.2" cy="126.1"/><circle cx="994.0" cy="672.3"/><circle cx="750.8" cy="230.1"/><circle cx="926.0" cy="727.0"/><circle cx="687.6" cy="128.2"/><circle cx="342.8" cy="781.9"/><circle cx="978.7" cy="722.1"/><circle cx="312.1" cy="794.7"/><circle cx="598.0" cy="430.1"/><circle cx="377.7" cy="812.2"/><circle cx="731.0" cy="176.1"/><circle cx="703.3" cy="171.5"/><circle cx="718.4" cy="850.3"/><circle cx="566.7" cy="503.0"/><circle cx="397.8" cy="823.2"/><circle cx="338.3" cy="789.8"/><circle cx="739.0" cy="187.6"/><circle cx="560.7" cy="775.3"/><circle cx="369.8" cy="799.2"/><circle cx="338.2" cy="859.6"/><circle cx="218.8" cy="509.8"/><circle cx="602.0" cy="673.2"/><circle cx="600.4" cy="414.7"/><circle cx="704.0" cy="166.9"/><circle cx="177.1" cy="560.3"/><circle cx="927.6" cy="773.0"/><circle cx="823.8" cy="227.2"/><circle cx="718.2" cy="177.6"/><circle cx="613.4" cy="462.6"/><circle cx="721.7" cy="447.7"/><circle cx="736.0" cy="591.6"/><circle cx="380.4" cy="771.4"/><circle cx="982.9" cy="749.3"/><circle cx="297.3" cy="855.0"/><circle cx="377.0" cy="818.6"/><circle cx="472.8" cy="597.2"/><circle cx="964.2" cy="691.4"/><circle cx="616.4" cy="661.2"/><circle cx="990.1" cy="744.3"/><circle cx="210.3" cy="504.1"/><circle cx="375.2" cy="776.5"/><circle cx="747.4" cy="195.6"/><circle cx="784.1" cy="216.1"/><circle cx="699.0" cy="460.1"/><circle cx="193.4" cy="531.6"/><circle cx="440.2" cy="589.1"/><circle cx="348.8" cy="828.5"/><circle cx="953.5" cy="726.4"/><circle cx="703.3" cy="140.0"/><circle cx="732.7" cy="146.4"/><circle cx="569.6" cy="221.7"/><circle cx="303.6" cy="809.1"/><circle cx="633.2" cy="670.1"/><circle cx="1044.2" cy="737.7"/><circle cx="927.7" cy="751.2"/><circle cx="946.0" cy="769.3"/><circle cx="936.2" cy="764.3"/><circle cx="614.0" cy="674.4"/><circle cx="201.4" cy="543.3"/><circle cx="474.2" cy="542.5"/><circle cx="956.6" cy="748.5"/><circle cx="693.0" cy="449.9"/><circle cx="899.1" cy="714.5"/><circle cx="754.0" cy="243.5"/><circle cx="665.4" cy="116.9"/><circle cx="173.3" cy="536.3"/><circle cx="607.2" cy="666.2"/><circle cx="775.5" cy="295.5"/><circle cx="637.1" cy="673.0"/><circle cx="706.1" cy="143.6"/><circle cx="692.1" cy="165.6"/><circle cx="351.6" cy="807.7"/><circle cx="398.5" cy="409.7"/><circle cx="966.8" cy="778.0"/><circle cx="1053.4" cy="691.2"/><circle cx="679.6" cy="152.0"/><circle cx="736.2" cy="594.2"/><circle cx="825.2" cy="270.5"/><circle cx="1032.7" cy="710.3"/><circle cx="606.5" cy="653.9"/><circle cx="502.4" cy="546.9"/><circle cx="482.5" cy="466.7"/><circle cx="956.2" cy="687.7"/><circle cx="580.6" cy="467.1"/><circle cx="159.3" cy="547.8"/><circle cx="391.2" cy="817.5"/><circle cx="1046.3" cy="665.7"/><circle cx="598.2" cy="669.0"/><circle cx="342.0" cy="863.8"/><circle cx="556.5" cy="216.7"/><circle cx="1048.1" cy="672.4"/><circle cx="610.2" cy="235.6"/><circle cx="819.7" cy="234.8"/><circle cx="669.8" cy="127.8"/><circle cx="519.6" cy="537.4"/><circle cx="722.5" cy="183.3"/><circle cx="1004.2" cy="646.8"/><circle cx="412.9" cy="436.3"/><circle cx="423.2" cy="822.5"/><circle cx="994.5" cy="640.8"/><circle cx="562.5" cy="233.7"/><circle cx="727.5" cy="942.0"/><circle cx="759.0" cy="588.8"/><circle cx="747.3" cy="207.0"/><circle cx="559.0" cy="237.2"/><circle cx="702.3" cy="161.3"/><circle cx="357.5" cy="775.9"/><circle cx="746.0" cy="186.7"/><circle cx="1021.5" cy="638.7"/><circle cx="596.6" cy="379.0"/><circle cx="964.6" cy="690.4"/><circle cx="530.9" cy="989.3"/><circle cx="712.9" cy="166.4"/><circle cx="685.0" cy="126.0"/><circle cx="674.3" cy="128.7"/><circle cx="1023.8" cy="706.3"/><circle cx="485.8" cy="505.8"/><circle cx="669.7" cy="718.9"/><circle cx="711.0" cy="147.4"/><circle cx="502.8" cy="558.7"/><circle cx="1042.2" cy="720.8"/><circle cx="176.1" cy="557.7"/><circle cx="373.6" cy="814.8"/><circle cx="829.0" cy="299.1"/><circle cx="1023.6" cy="757.1"/><circle cx="327.4" cy="835.0"/><circle cx="647.9" cy="664.7"/><circle cx="1065.7" cy="672.5"/><circle cx="429.0" cy="827.1"/><circle cx="427.7" cy="830.5"/><circle cx="490.5" cy="556.1"/><circle cx="213.2" cy="513.2"/><circle cx="631.2" cy="922.5"/><circle cx="935.7" cy="751.6"/><circle cx="700.4" cy="143.5"/><circle cx="737.4" cy="161.5"/><circle cx="368.4" cy="797.8"/><circle cx="699.3" cy="117.2"/><circle cx="810.0" cy="776.2"/><circle cx="340.8" cy="735.2"/><circle cx="476.7" cy="436.7"/><circle cx="938.1" cy="747.0"/><circle cx="704.3" cy="857.9"/><circle cx="607.3" cy="383.7"/><circle cx="985.8" cy="702.1"/><circle cx="603.7" cy="399.4"/><circle cx="549.3" cy="251.4"/><circle cx="934.7" cy="777.3"/><circle cx="461.1" cy="569.9"/><circle cx="199.1" cy="536.7"/><circle cx="322.3" cy="844.7"/><circle cx="698.4" cy="161.7"/><circle cx="933.4" cy="711.3"/><circle cx="540.9" cy="249.8"/><circle cx="949.2" cy="723.3"/><circle cx="679.8" cy="169.2"/><circle cx="392.5" cy="792.8"/><circle cx="1005.1" cy="692.1"/><circle cx="466.5" cy="585.4"/><circle cx="465.3" cy="595.0"/><circle cx="429.7" cy="444.7"/><circle cx="1003.2" cy="754.5"/><circle cx="306.5" cy="831.9"/><circle cx="707.9" cy="176.5"/><circle cx="554.3" cy="228.7"/><circle cx="324.9" cy="814.6"/><circle cx="356.7" cy="832.6"/><circle cx="724.7" cy="125.4"/><circle cx="770.3" cy="588.1"/><circle cx="165.5" cy="544.4"/><circle cx="228.3" cy="542.8"/><circle cx="675.4" cy="438.2"/><circle cx="162.2" cy="546.7"/><circle cx="670.8" cy="232.5"/><circle cx="213.6" cy="532.7"/><circle cx="166.6" cy="533.3"/><circle cx="581.9" cy="230.0"/><circle cx="323.5" cy="834.6"/><circle cx="390.8" cy="399.1"/><circle cx="616.8" cy="676.0"/><circle cx="435.9" cy="579.5"/><circle cx="984.7" cy="763.8"/><circle cx="307.6" cy="799.3"/><circle cx="380.5" cy="853.5"/><circle cx="935.5" cy="748.8"/><circle cx="346.1" cy="752.9"/><circle cx="376.5" cy="811.0"/><circle cx="509.8" cy="877.4"/><circle cx="338.0" cy="736.0"/><circle cx="351.5" cy="850.2"/><circle cx="994.8" cy="748.2"/><circle cx="555.7" cy="224.2"/><circle cx="624.3" cy="457.7"/><circle cx="378.7" cy="410.6"/><circle cx="220.1" cy="533.9"/><circle cx="1028.5" cy="746.8"/><circle cx="460.1" cy="580.2"/><circle cx="673.6" cy="711.7"/><circle cx="382.0" cy="738.0"/><circle cx="208.1" cy="530.8"/><circle cx="367.7" cy="841.3"/><circle cx="362.0" cy="796.5"/><circle cx="546.6" cy="240.7"/><circle cx="431.3" cy="575.2"/><circle cx="374.5" cy="725.2"/><circle cx="721.3" cy="138.6"/><circle cx="984.3" cy="773.3"/><circle cx="388.0" cy="413.2"/><circle cx="964.1" cy="752.4"/><circle cx="328.3" cy="830.9"/><circle cx="386.7" cy="393.6"/><circle cx="596.2" cy="424.3"/><circle cx="992.6" cy="738.0"/><circle cx="491.7" cy="881.9"/><circle cx="400.7" cy="829.6"/><circle cx="1041.3" cy="714.4"/><circle cx="964.7" cy="719.4"/><circle cx="692.0" cy="157.9"/><circle cx="328.9" cy="727.3"/><circle cx="663.3" cy="152.1"/><circle cx="723.7" cy="181.6"/><circle cx="498.1" cy="577.2"/><circle cx="165.0" cy="524.3"/><circle cx="612.8" cy="679.5"/><circle cx="618.8" cy="872.0"/><circle cx="200.4" cy="499.8"/><circle cx="759.6" cy="587.3"/><circle cx="926.3" cy="770.2"/><circle cx="375.1" cy="805.5"/><circle cx="1004.2" cy="749.8"/><circle cx="440.1" cy="841.7"/><circle cx="1035.3" cy="684.5"/><circle cx="715.3" cy="856.0"/><circle cx="601.9" cy="381.9"/><circle cx="680.2" cy="123.0"/><circle cx="340.5" cy="724.2"/><circle cx="798.6" cy="303.1"/><circle cx="724.2" cy="588.5"/><circle cx="369.0" cy="802.6"/><circle cx="689.4" cy="158.6"/><circle cx="974.1" cy="709.0"/><circle cx="729.4" cy="161.3"/><circle cx="1036.3" cy="720.8"/><circle cx="974.4" cy="681.2"/><circle cx="300.2" cy="836.3"/><circle cx="497.0" cy="869.5"/><circle cx="467.0" cy="577.3"/><circle cx="674.8" cy="171.7"/><circle cx="396.9" cy="843.8"/><circle cx="1064.1" cy="661.3"/><circle cx="796.2" cy="318.8"/><circle cx="977.8" cy="640.1"/><circle cx="895.4" cy="578.6"/><circle cx="360.8" cy="767.0"/><circle cx="347.6" cy="816.4"/><circle cx="219.5" cy="502.9"/><circle cx="335.7" cy="761.8"/><circle cx="337.7" cy="845.3"/><circle cx="673.0" cy="438.1"/><circle cx="942.1" cy="725.3"/><circle cx="346.8" cy="728.7"/><circle cx="468.8" cy="583.4"/><circle cx="954.2" cy="767.2"/><circle cx="597.2" cy="378.9"/><circle cx="374.4" cy="770.0"/><circle cx="981.9" cy="756.1"/><circle cx="1030.3" cy="652.0"/><circle cx="971.1" cy="654.0"/><circle cx="1006.3" cy="674.0"/><circle cx="397.0" cy="789.0"/><circle cx="447.3" cy="570.3"/><circle cx="543.5" cy="227.4"/><circle cx="384.0" cy="415.0"/><circle cx="1020.0" cy="755.4"/><circle cx="896.2" cy="573.4"/><circle cx="670.4" cy="157.1"/><circle cx="735.9" cy="851.9"/><circle cx="181.2" cy="558.6"/><circle cx="897.4" cy="587.4"/><circle cx="587.0" cy="738.8"/><circle cx="326.9" cy="753.1"/><circle cx="172.0" cy="547.8"/><circle cx="695.2" cy="125.1"/><circle cx="706.5" cy="451.9"/><circle cx="215.3" cy="523.0"/><circle cx="717.8" cy="148.8"/><circle cx="770.7" cy="247.0"/><circle cx="606.2" cy="843.8"/><circle cx="549.7" cy="776.2"/><circle cx="612.5" cy="842.5"/><circle cx="669.9" cy="177.0"/><circle cx="466.8" cy="585.7"/><circle cx="755.5" cy="596.1"/><circle cx="720.0" cy="212.0"/><circle cx="645.6" cy="657.2"/><circle cx="721.8" cy="852.2"/><circle cx="353.7" cy="820.0"/><circle cx="404.8" cy="438.5"/><circle cx="655.1" cy="692.5"/><circle cx="683.6" cy="438.0"/><circle cx="723.7" cy="126.1"/><circle cx="763.7" cy="219.0"/><circle cx="167.9" cy="517.2"/><circle cx="665.7" cy="443.3"/><circle cx="964.8" cy="772.1"/><circle cx="662.2" cy="153.9"/><circle cx="712.0" cy="456.8"/><circle cx="1052.0" cy="700.4"/><circle cx="650.2" cy="683.9"/><circle cx="990.0" cy="676.0"/><circle cx="638.3" cy="682.5"/><circle cx="629.3" cy="664.1"/><circle cx="223.1" cy="521.9"/><circle cx="974.3" cy="778.8"/><circle cx="997.8" cy="741.7"/><circle cx="551.4" cy="769.9"/><circle cx="308.9" cy="854.6"/><circle cx="627.7" cy="906.3"/><circle cx="826.4" cy="275.5"/><circle cx="720.3" cy="139.1"/><circle cx="727.8" cy="148.3"/><circle cx="435.8" cy="567.5"/><circle cx="221.8" cy="565.8"/><circle cx="446.4" cy="582.3"/><circle cx="1039.7" cy="728.5"/><circle cx="556.7" cy="222.9"/><circle cx="325.6" cy="756.6"/><circle cx="973.4" cy="699.8"/><circle cx="1008.5" cy="719.1"/><circle cx="986.2" cy="743.9"/><circle cx="626.7" cy="444.5"/><circle cx="993.7" cy="764.4"/><circle cx="178.8" cy="557.6"/><circle cx="631.9" cy="708.4"/><circle cx="986.3" cy="682.2"/><circle cx="371.0" cy="828.1"/><circle cx="587.2" cy="468.7"/><circle cx="510.3" cy="551.5"/><circle cx="360.0" cy="818.3"/><circle cx="707.0" cy="163.7"/><circle cx="257.1" cy="496.5"/><circle cx="702.1" cy="439.3"/><circle cx="383.9" cy="413.2"/><circle cx="727.5" cy="938.8"/><circle cx="613.8" cy="910.5"/><circle cx="379.1" cy="825.1"/><circle cx="954.8" cy="704.5"/><circle cx="370.0" cy="818.0"/><circle cx="167.6" cy="542.1"/><circle cx="343.9" cy="726.8"/><circle cx="682.0" cy="156.7"/><circle cx="1035.8" cy="717.9"/><circle cx="684.6" cy="438.4"/><circle cx="353.2" cy="766.0"/><circle cx="720.0" cy="471.3"/><circle cx="314.7" cy="859.1"/><circle cx="160.5" cy="535.8"/><circle cx="692.8" cy="465.0"/><circle cx="305.5" cy="822.2"/><circle cx="728.8" cy="175.5"/><circle cx="452.6" cy="592.1"/><circle cx="712.9" cy="441.6"/><circle cx="561.7" cy="233.1"/><circle cx="659.0" cy="714.0"/><circle cx="973.9" cy="697.2"/><circle cx="965.7" cy="703.8"/><circle cx="304.5" cy="859.5"/><circle cx="503.7" cy="871.8"/><circle cx="372.1" cy="776.2"/><circle cx="383.1" cy="411.7"/><circle cx="514.9" cy="448.4"/><circle cx="430.3" cy="445.0"/><circle cx="539.4" cy="242.1"/><circle cx="192.7" cy="553.8"/><circle cx="602.9" cy="393.6"/><circle cx="805.8" cy="312.3"/><circle cx="669.4" cy="452.5"/><circle cx="773.6" cy="261.6"/><circle cx="162.6" cy="560.4"/><circle cx="367.0" cy="797.0"/><circle cx="762.0" cy="568.6"/><circle cx="798.6" cy="318.0"/><circle cx="1005.5" cy="705.6"/><circle cx="995.1" cy="719.5"/><circle cx="309.3" cy="815.0"/><circle cx="798.7" cy="315.8"/><circle cx="471.5" cy="586.4"/><circle cx="457.1" cy="849.6"/><circle cx="1006.4" cy="757.6"/><circle cx="258.8" cy="486.6"/><circle cx="550.5" cy="221.9"/><circle cx="595.3" cy="439.3"/><circle cx="545.0" cy="221.7"/><circle cx="931.8" cy="714.7"/><circle cx="442.5" cy="591.7"/><circle cx="385.2" cy="825.6"/><circle cx="447.6" cy="843.3"/><circle cx="435.5" cy="447.1"/><circle cx="707.3" cy="167.5"/><circle cx="339.4" cy="726.8"/><circle cx="897.0" cy="707.7"/><circle cx="679.9" cy="420.7"/><circle cx="302.3" cy="805.7"/><circle cx="639.0" cy="697.5"/><circle cx="969.9" cy="710.0"/><circle cx="291.6" cy="843.6"/><circle cx="567.5" cy="481.7"/><circle cx="500.4" cy="542.0"/><circle cx="343.6" cy="864.5"/><circle cx="620.3" cy="463.8"/><circle cx="330.3" cy="797.9"/><circle cx="736.6" cy="221.3"/><circle cx="489.2" cy="555.2"/><circle cx="988.6" cy="650.3"/><circle cx="824.6" cy="300.1"/><circle cx="505.9" cy="561.3"/><circle cx="1020.6" cy="737.0"/><circle cx="1021.3" cy="761.6"/><circle cx="1003.1" cy="686.2"/><circle cx="329.4" cy="758.1"/><circle cx="445.6" cy="566.7"/><circle cx="353.1" cy="849.5"/><circle cx="176.9" cy="566.4"/><circle cx="681.1" cy="131.7"/><circle cx="607.6" cy="394.6"/><circle cx="397.3" cy="416.1"/><circle cx="596.7" cy="234.1"/><circle cx="920.0" cy="724.5"/><circle cx="349.1" cy="837.8"/><circle cx="506.7" cy="882.5"/><circle cx="733.0" cy="597.2"/><circle cx="937.9" cy="777.9"/><circle cx="366.1" cy="849.2"/><circle cx="336.2" cy="845.5"/><circle cx="506.9" cy="569.4"/><circle cx="311.5" cy="821.4"/><circle cx="574.5" cy="775.4"/><circle cx="437.5" cy="537.5"/><circle cx="1021.1" cy="683.0"/><circle cx="994.5" cy="723.5"/><circle cx="782.4" cy="311.9"/><circle cx="536.7" cy="245.1"/><circle cx="834.0" cy="288.1"/><circle cx="366.7" cy="813.7"/><circle cx="983.7" cy="736.8"/><circle cx="406.9" cy="813.4"/><circle cx="593.8" cy="433.3"/><circle cx="350.0" cy="856.3"/><circle cx="947.2" cy="750.8"/><circle cx="512.4" cy="538.0"/><circle cx="978.0" cy="748.6"/><circle cx="542.1" cy="216.1"/><circle cx="483.2" cy="587.9"/><circle cx="555.0" cy="218.4"/><circle cx="946.9" cy="756.3"/><circle cx="750.0" cy="545.6"/><circle cx="306.9" cy="857.9"/><circle cx="498.3" cy="876.2"/><circle cx="479.9" cy="577.4"/><circle cx="838.6" cy="291.3"/><circle cx="627.0" cy="662.6"/><circle cx="391.3" cy="398.5"/><circle cx="234.4" cy="543.3"/><circle cx="633.7" cy="919.6"/><circle cx="982.2" cy="636.9"/><circle cx="734.1" cy="153.7"/><circle cx="607.7" cy="412.3"/><circle cx="316.2" cy="787.6"/><circle cx="177.6" cy="547.2"/><circle cx="831.0" cy="293.8"/><circle cx="792.0" cy="785.0"/><circle cx="500.4" cy="581.6"/><circle cx="661.8" cy="154.8"/><circle cx="1046.1" cy="690.4"/><circle cx="695.3" cy="184.8"/><circle cx="155.4" cy="553.9"/><circle cx="198.5" cy="514.7"/><circle cx="778.8" cy="304.7"/><circle cx="825.9" cy="296.2"/><circle cx="674.4" cy="122.8"/><circle cx="322.7" cy="815.7"/><circle cx="681.3" cy="434.4"/><circle cx="606.5" cy="464.1"/><circle cx="1000.1" cy="691.2"/><circle cx="765.4" cy="258.1"/><circle cx="208.2" cy="500.0"/><circle cx="325.5" cy="798.6"/><circle cx="975.4" cy="685.4"/><circle cx="457.2" cy="578.6"/><circle cx="747.1" cy="605.2"/><circle cx="1009.2" cy="752.5"/><circle cx="615.7" cy="698.1"/><circle cx="780.6" cy="206.8"/><circle cx="715.7" cy="161.1"/><circle cx="951.5" cy="715.4"/><circle cx="352.4" cy="828.8"/><circle cx="596.4" cy="231.3"/><circle cx="375.3" cy="848.6"/><circle cx="636.2" cy="665.6"/><circle cx="387.8" cy="803.0"/><circle cx="675.6" cy="124.7"/><circle cx="631.4" cy="916.4"/><circle cx="204.9" cy="506.5"/><circle cx="713.9" cy="862.5"/><circle cx="513.4" cy="554.9"/><circle cx="476.6" cy="859.6"/><circle cx="994.1" cy="735.1"/><circle cx="354.4" cy="748.1"/><circle cx="459.7" cy="840.1"/><circle cx="482.6" cy="568.2"/><circle cx="953.6" cy="745.6"/><circle cx="731.5" cy="151.6"/><circle cx="1023.6" cy="661.6"/><circle cx="1003.5" cy="707.9"/><circle cx="628.9" cy="454.1"/><circle cx="391.9" cy="835.3"/><circle cx="373.3" cy="810.2"/><circle cx="330.8" cy="842.9"/><circle cx="463.1" cy="584.1"/><circle cx="739.5" cy="221.8"/><circle cx="590.5" cy="397.2"/><circle cx="996.0" cy="706.6"/><circle cx="430.2" cy="568.1"/><circle cx="342.9" cy="767.7"/><circle cx="389.8" cy="387.1"/><circle cx="703.5" cy="162.3"/><circle cx="696.2" cy="856.8"/><circle cx="321.2" cy="808.8"/><circle cx="575.4" cy="229.0"/><circle cx="1045.2" cy="647.9"/><circle cx="221.9" cy="507.0"/><circle cx="781.0" cy="595.9"/><circle cx="425.6" cy="551.4"/><circle cx="1037.2" cy="715.4"/><circle cx="939.8" cy="769.2"/><circle cx="709.8" cy="584.2"/><circle cx="488.1" cy="588.8"/><circle cx="920.1" cy="782.0"/><circle cx="357.9" cy="839.5"/><circle cx="186.5" cy="542.4"/><circle cx="447.8" cy="565.2"/><circle cx="378.4" cy="802.3"/><circle cx="979.3" cy="726.9"/><circle cx="296.0" cy="815.6"/><circle cx="309.7" cy="833.3"/><circle cx="358.3" cy="758.3"/><circle cx="559.4" cy="226.4"/><circle cx="693.6" cy="445.5"/><circle cx="613.0" cy="412.1"/><circle cx="679.5" cy="209.2"/><circle cx="199.2" cy="532.5"/><circle cx="807.5" cy="796.2"/><circle cx="442.4" cy="586.5"/><circle cx="675.1" cy="142.9"/><circle cx="199.8" cy="569.3"/><circle cx="1031.8" cy="707.0"/><circle cx="556.1" cy="222.3"/><circle cx="429.2" cy="556.7"/><circle cx="698.3" cy="167.7"/><circle cx="1017.0" cy="675.6"/><circle cx="436.9" cy="1044.7"/><circle cx="329.5" cy="855.1"/><circle cx="360.9" cy="793.4"/><circle cx="320.2" cy="792.6"/><circle cx="797.8" cy="314.8"/><circle cx="339.1" cy="748.9"/><circle cx="693.8" cy="118.6"/><circle cx="464.5" cy="858.0"/><circle cx="568.8" cy="233.2"/><circle cx="468.3" cy="561.0"/><circle cx="316.4" cy="782.3"/><circle cx="345.3" cy="783.3"/><circle cx="825.3" cy="302.3"/><circle cx="337.0" cy="822.5"/><circle cx="698.0" cy="852.1"/><circle cx="378.9" cy="796.9"/><circle cx="803.0" cy="244.5"/><circle cx="965.6" cy="722.2"/><circle cx="552.7" cy="220.1"/><circle cx="397.6" cy="433.2"/><circle cx="364.5" cy="749.8"/><circle cx="626.3" cy="675.5"/><circle cx="662.7" cy="136.1"/><circle cx="962.9" cy="671.8"/><circle cx="693.4" cy="440.6"/><circle cx="345.5" cy="768.1"/><circle cx="464.8" cy="587.6"/><circle cx="237.3" cy="520.4"/><circle cx="727.8" cy="842.7"/><circle cx="646.4" cy="685.3"/><circle cx="992.0" cy="726.1"/><circle cx="1004.1" cy="701.3"/><circle cx="680.0" cy="250.0"/><circle cx="641.2" cy="454.7"/><circle cx="689.6" cy="145.4"/><circle cx="538.3" cy="231.2"/><circle cx="1008.6" cy="715.4"/><circle cx="235.6" cy="543.2"/><circle cx="787.9" cy="244.4"/><circle cx="541.8" cy="220.9"/><circle cx="1060.9" cy="675.1"/><circle cx="928.6" cy="774.0"/><circle cx="429.6" cy="563.6"/><circle cx="616.0" cy="238.2"/><circle cx="367.3" cy="779.4"/><circle cx="497.6" cy="566.6"/><circle cx="509.6" cy="549.9"/><circle cx="670.6" cy="168.8"/><circle cx="805.0" cy="311.1"/><circle cx="469.1" cy="863.5"/><circle cx="323.7" cy="783.3"/><circle cx="614.7" cy="238.2"/><circle cx="984.1" cy="751.5"/><circle cx="925.2" cy="774.1"/><circle cx="490.7" cy="875.0"/><circle cx="691.7" cy="140.6"/><circle cx="806.8" cy="224.8"/><circle cx="451.4" cy="571.7"/><circle cx="1056.9" cy="649.1"/><circle cx="364.3" cy="772.8"/><circle cx="458.2" cy="585.3"/><circle cx="912.9" cy="766.1"/><circle cx="588.7" cy="415.2"/><circle cx="989.8" cy="740.9"/><circle cx="627.5" cy="412.9"/><circle cx="490.8" cy="589.2"/><circle cx="968.3" cy="729.9"/><circle cx="698.0" cy="152.5"/><circle cx="691.9" cy="142.7"/><circle cx="574.2" cy="238.1"/><circle cx="312.2" cy="835.5"/><circle cx="623.8" cy="679.5"/><circle cx="730.5" cy="598.1"/><circle cx="426.8" cy="565.0"/><circle cx="717.3" cy="188.2"/><circle cx="618.5" cy="426.8"/><circle cx="727.4" cy="150.4"/><circle cx="994.8" cy="654.3"/><circle cx="1019.6" cy="759.2"/><circle cx="926.6" cy="780.1"/><circle cx="396.8" cy="383.4"/><circle cx="447.7" cy="592.2"/><circle cx="672.3" cy="713.7"/><circle cx="934.2" cy="767.9"/><circle cx="796.6" cy="307.1"/><circle cx="462.9" cy="860.5"/><circle cx="171.5" cy="523.2"/><circle cx="481.3" cy="558.6"/><circle cx="698.7" cy="177.3"/><circle cx="331.0" cy="736.0"/><circle cx="657.0" cy="706.0"/><circle cx="585.8" cy="397.4"/><circle cx="1026.4" cy="723.7"/><circle cx="712.5" cy="236.2"/><circle cx="566.4" cy="230.6"/><circle cx="554.7" cy="220.3"/><circle cx="390.3" cy="832.7"/><circle cx="168.8" cy="556.2"/><circle cx="350.2" cy="768.5"/><circle cx="448.8" cy="582.1"/><circle cx="696.1" cy="428.7"/><circle cx="743.8" cy="275.0"/><circle cx="490.6" cy="555.2"/><circle cx="595.0" cy="550.8"/><circle cx="689.0" cy="149.5"/><circle cx="699.1" cy="452.6"/><circle cx="727.1" cy="147.9"/><circle cx="197.8" cy="533.7"/><circle cx="479.0" cy="855.7"/><circle cx="172.0" cy="566.6"/><circle cx="156.3" cy="535.7"/><circle cx="649.1" cy="669.9"/><circle cx="422.5" cy="551.7"/><circle cx="572.5" cy="776.5"/><circle cx="665.3" cy="700.0"/><circle cx="329.7" cy="864.7"/><circle cx="547.2" cy="777.4"/><circle cx="358.1" cy="853.9"/><circle cx="990.4" cy="766.7"/><circle cx="625.9" cy="437.4"/><circle cx="334.8" cy="768.5"/><circle cx="677.0" cy="207.5"/><circle cx="200.6" cy="566.3"/><circle cx="550.8" cy="237.7"/><circle cx="163.9" cy="541.4"/><circle cx="559.3" cy="216.0"/><circle cx="468.5" cy="866.5"/><circle cx="593.9" cy="438.8"/><circle cx="608.2" cy="658.2"/><circle cx="181.6" cy="555.6"/><circle cx="826.1" cy="218.4"/><circle cx="539.3" cy="255.4"/><circle cx="1015.4" cy="701.6"/><circle cx="979.5" cy="716.9"/><circle cx="1031.7" cy="753.4"/><circle cx="1029.9" cy="739.3"/><circle cx="360.3" cy="732.7"/><circle cx="498.9" cy="541.7"/><circle cx="743.7" cy="602.7"/><circle cx="628.8" cy="892.5"/><circle cx="312.1" cy="844.2"/><circle cx="725.8" cy="722.5"/><circle cx="511.9" cy="544.0"/><circle cx="334.6" cy="835.3"/><circle cx="702.2" cy="123.1"/><circle cx="358.8" cy="790.2"/><circle cx="701.9" cy="847.0"/><circle cx="205.2" cy="504.8"/><circle cx="327.7" cy="820.0"/><circle cx="553.1" cy="234.8"/><circle cx="323.4" cy="864.6"/><circle cx="667.5" cy="248.3"/><circle cx="713.6" cy="161.8"/><circle cx="1021.7" cy="633.7"/><circle cx="326.2" cy="792.3"/><circle cx="421.7" cy="397.5"/><circle cx="594.1" cy="394.7"/><circle cx="619.6" cy="703.6"/><circle cx="215.9" cy="534.5"/><circle cx="548.3" cy="767.0"/><circle cx="215.3" cy="540.4"/><circle cx="679.7" cy="119.9"/><circle cx="513.3" cy="546.9"/><circle cx="964.7" cy="762.2"/><circle cx="923.3" cy="742.6"/><circle cx="311.6" cy="828.9"/><circle cx="713.5" cy="198.0"/><circle cx="975.0" cy="643.3"/><circle cx="539.2" cy="321.5"/><circle cx="363.3" cy="782.7"/><circle cx="491.5" cy="575.4"/><circle cx="459.5" cy="386.3"/><circle cx="511.4" cy="935.1"/><circle cx="154.1" cy="550.4"/><circle cx="557.5" cy="780.3"/><circle cx="400.4" cy="818.2"/><circle cx="704.5" cy="140.7"/><circle cx="964.3" cy="677.0"/><circle cx="631.2" cy="897.5"/><circle cx="398.9" cy="421.5"/><circle cx="504.0" cy="569.4"/><circle cx="668.3" cy="704.5"/><circle cx="730.9" cy="149.7"/><circle cx="1007.2" cy="682.7"/><circle cx="691.4" cy="120.9"/><circle cx="989.9" cy="761.5"/><circle cx="748.8" cy="792.5"/><circle cx="680.2" cy="425.1"/><circle cx="980.3" cy="672.5"/><circle cx="1028.0" cy="752.2"/><circle cx="605.0" cy="237.0"/><circle cx="714.2" cy="845.4"/><circle cx="381.2" cy="748.5"/><circle cx="194.6" cy="557.2"/><circle cx="318.0" cy="817.2"/><circle cx="341.6" cy="856.0"/><circle cx="727.5" cy="597.8"/><circle cx="669.0" cy="118.4"/><circle cx="963.6" cy="730.6"/><circle cx="606.7" cy="401.5"/><circle cx="928.9" cy="748.6"/><circle cx="181.4" cy="540.5"/><circle cx="1021.0" cy="756.3"/><circle cx="679.1" cy="448.7"/><circle cx="555.7" cy="768.4"/><circle cx="679.7" cy="113.9"/><circle cx="375.0" cy="812.1"/><circle cx="719.8" cy="167.8"/><circle cx="666.1" cy="435.9"/><circle cx="963.2" cy="711.4"/><circle cx="988.3" cy="727.1"/><circle cx="571.8" cy="231.5"/><circle cx="543.3" cy="215.4"/><circle cx="813.8" cy="291.4"/><circle cx="502.5" cy="455.8"/><circle cx="596.6" cy="465.8"/><circle cx="552.2" cy="224.7"/><circle cx="444.8" cy="834.9"/><circle cx="725.4" cy="149.0"/><circle cx="518.0" cy="552.2"/><circle cx="342.4" cy="829.6"/><circle cx="510.3" cy="401.7"/><circle cx="332.8" cy="735.4"/><circle cx="604.6" cy="651.2"/><circle cx="377.8" cy="822.6"/><circle cx="493.1" cy="875.0"/><circle cx="332.7" cy="809.7"/><circle cx="324.5" cy="749.6"/><circle cx="1007.5" cy="775.3"/><circle cx="419.7" cy="824.6"/><circle cx="503.4" cy="874.3"/><circle cx="356.9" cy="792.5"/><circle cx="621.6" cy="686.2"/><circle cx="362.9" cy="765.9"/><circle cx="397.9" cy="837.1"/><circle cx="968.8" cy="670.6"/><circle cx="687.9" cy="137.7"/><circle cx="795.0" cy="785.5"/><circle cx="612.9" cy="447.3"/><circle cx="1032.7" cy="662.3"/><circle cx="307.0" cy="859.5"/><circle cx="769.1" cy="598.7"/><circle cx="460.8" cy="852.0"/><circle cx="767.4" cy="601.5"/><circle cx="343.9" cy="747.5"/><circle cx="546.0" cy="255.5"/><circle cx="540.1" cy="223.7"/><circle cx="384.4" cy="814.7"/><circle cx="640.3" cy="659.8"/><circle cx="780.9" cy="582.2"/><circle cx="170.0" cy="549.0"/><circle cx="720.1" cy="854.5"/><circle cx="679.2" cy="136.3"/><circle cx="510.1" cy="549.0"/><circle cx="811.9" cy="282.6"/><circle cx="699.3" cy="166.3"/><circle cx="956.5" cy="675.3"/><circle cx="496.6" cy="578.1"/><circle cx="456.7" cy="414.2"/><circle cx="315.5" cy="862.2"/><circle cx="1016.8" cy="682.3"/><circle cx="476.2" cy="531.3"/><circle cx="996.8" cy="648.3"/><circle cx="613.9" cy="416.7"/><circle cx="732.9" cy="846.9"/><circle cx="548.0" cy="763.7"/><circle cx="580.9" cy="223.9"/><circle cx="689.0" cy="170.9"/><circle cx="371.0" cy="788.8"/><circle cx="399.5" cy="407.2"/><circle cx="696.2" cy="139.5"/><circle cx="596.7" cy="429.4"/><circle cx="1002.6" cy="640.8"/><circle cx="368.7" cy="814.8"/><circle cx="347.8" cy="773.3"/><circle cx="663.4" cy="149.0"/><circle cx="353.7" cy="758.2"/><circle cx="506.4" cy="556.4"/><circle cx="975.3" cy="699.0"/><circle cx="663.7" cy="134.4"/><circle cx="759.2" cy="605.3"/><circle cx="429.2" cy="427.8"/><circle cx="496.6" cy="574.5"/><circle cx="449.8" cy="568.5"/><circle cx="346.7" cy="803.2"/><circle cx="430.4" cy="825.3"/><circle cx="397.0" cy="824.5"/><circle cx="216.9" cy="529.3"/><circle cx="557.2" cy="764.7"/><circle cx="608.4" cy="426.0"/><circle cx="463.8" cy="852.1"/><circle cx="364.9" cy="795.1"/><circle cx="686.3" cy="255.8"/><circle cx="1025.6" cy="714.7"/><circle cx="601.4" cy="415.9"/><circle cx="335.1" cy="729.2"/><circle cx="634.1" cy="922.7"/><circle cx="172.4" cy="530.4"/><circle cx="673.2" cy="120.9"/><circle cx="302.1" cy="840.1"/><circle cx="346.7" cy="842.4"/><circle cx="980.6" cy="705.7"/><circle cx="464.2" cy="592.6"/><circle cx="352.3" cy="754.9"/><circle cx="950.9" cy="689.0"/><circle cx="492.7" cy="568.0"/><circle cx="490.5" cy="562.0"/><circle cx="974.4" cy="676.5"/><circle cx="628.5" cy="689.3"/><circle cx="319.4" cy="830.5"/><circle cx="336.5" cy="842.3"/><circle cx="927.6" cy="774.9"/><circle cx="467.3" cy="868.5"/><circle cx="1005.6" cy="689.0"/><circle cx="349.4" cy="826.2"/><circle cx="388.7" cy="813.9"/><circle cx="982.5" cy="780.0"/><circle cx="228.3" cy="579.8"/><circle cx="495.1" cy="586.8"/><circle cx="1010.7" cy="644.1"/><circle cx="553.6" cy="763.2"/><circle cx="983.6" cy="656.3"/><circle cx="690.3" cy="150.5"/><circle cx="428.1" cy="570.0"/><circle cx="929.9" cy="785.5"/><circle cx="465.0" cy="867.2"/><circle cx="954.5" cy="778.8"/><circle cx="562.7" cy="780.3"/><circle cx="215.0" cy="574.2"/><circle cx="937.7" cy="757.7"/><circle cx="677.4" cy="132.0"/><circle cx="495.0" cy="585.0"/><circle cx="1031.9" cy="719.6"/><circle cx="558.6" cy="775.8"/><circle cx="639.5" cy="671.3"/><circle cx="1054.4" cy="683.8"/><circle cx="394.4" cy="432.2"/><circle cx="723.1" cy="172.0"/><circle cx="398.3" cy="430.2"/><circle cx="567.9" cy="777.8"/><circle cx="964.9" cy="695.0"/><circle cx="745.2" cy="536.8"/><circle cx="680.0" cy="426.1"/><circle cx="383.0" cy="829.8"/><circle cx="368.2" cy="813.3"/><circle cx="197.7" cy="561.5"/><circle cx="689.2" cy="427.3"/><circle cx="391.7" cy="826.5"/><circle cx="607.2" cy="431.0"/><circle cx="315.9" cy="825.0"/><circle cx="1008.4" cy="697.7"/><circle cx="448.1" cy="586.4"/><circle cx="452.0" cy="593.1"/><circle cx="708.1" cy="141.6"/><circle cx="961.8" cy="767.9"/><circle cx="481.3" cy="513.0"/><circle cx="614.3" cy="421.8"/><circle cx="833.1" cy="286.0"/><circle cx="344.0" cy="757.9"/><circle cx="354.2" cy="740.1"/><circle cx="411.7" cy="425.0"/><circle cx="688.0" cy="156.6"/><circle cx="683.8" cy="225.0"/><circle cx="216.2" cy="569.0"/><circle cx="710.5" cy="174.6"/><circle cx="685.8" cy="123.8"/><circle cx="797.1" cy="314.3"/><circle cx="720.3" cy="139.7"/><circle cx="983.3" cy="771.8"/><circle cx="642.3" cy="670.3"/><circle cx="1003.9" cy="695.7"/><circle cx="475.4" cy="595.8"/><circle cx="734.2" cy="842.1"/><circle cx="756.9" cy="202.2"/><circle cx="588.4" cy="456.7"/><circle cx="610.4" cy="695.8"/><circle cx="379.8" cy="821.7"/><circle cx="339.3" cy="764.9"/><circle cx="176.5" cy="561.1"/><circle cx="818.0" cy="277.6"/><circle cx="618.6" cy="694.2"/><circle cx="697.7" cy="147.7"/><circle cx="335.4" cy="857.2"/><circle cx="778.2" cy="299.4"/><circle cx="550.9" cy="233.4"/><circle cx="726.9" cy="592.0"/><circle cx="998.4" cy="670.0"/><circle cx="685.3" cy="429.1"/><circle cx="965.9" cy="760.9"/><circle cx="551.6" cy="230.9"/><circle cx="432.8" cy="444.0"/><circle cx="746.1" cy="538.4"/><circle cx="827.5" cy="290.7"/><circle cx="184.3" cy="570.3"/><circle cx="1053.3" cy="713.1"/><circle cx="611.7" cy="423.7"/><circle cx="718.5" cy="842.7"/><circle cx="1024.9" cy="707.6"/><circle cx="814.6" cy="273.5"/><circle cx="479.2" cy="538.3"/><circle cx="722.5" cy="860.4"/><circle cx="707.2" cy="860.9"/><circle cx="157.0" cy="557.0"/><circle cx="757.6" cy="591.9"/><circle cx="228.5" cy="572.3"/><circle cx="707.6" cy="853.3"/><circle cx="463.1" cy="595.5"/><circle cx="403.3" cy="428.9"/><circle cx="959.2" cy="737.9"/><circle cx="1042.2" cy="735.4"/><circle cx="696.3" cy="141.7"/><circle cx="152.9" cy="538.7"/><circle cx="428.6" cy="575.6"/><circle cx="548.4" cy="232.2"/><circle cx="1053.1" cy="724.6"/><circle cx="402.4" cy="829.5"/><circle cx="213.3" cy="510.0"/><circle cx="679.1" cy="134.8"/><circle cx="557.7" cy="230.0"/><circle cx="362.4" cy="817.9"/><circle cx="686.9" cy="117.4"/><circle cx="820.6" cy="293.3"/><circle cx="455.0" cy="576.1"/><circle cx="338.6" cy="780.2"/><circle cx="683.1" cy="426.6"/><circle cx="632.0" cy="927.0"/><circle cx="781.0" cy="246.5"/><circle cx="524.0" cy="1018.1"/><circle cx="559.8" cy="763.8"/><circle cx="723.6" cy="146.3"/><circle cx="285.3" cy="391.3"/><circle cx="632.0" cy="443.9"/><circle cx="234.5" cy="525.2"/><circle cx="504.4" cy="568.2"/><circle cx="570.8" cy="250.0"/><circle cx="313.4" cy="802.8"/><circle cx="341.8" cy="784.7"/><circle cx="593.7" cy="246.7"/><circle cx="780.8" cy="593.9"/><circle cx="617.7" cy="667.5"/><circle cx="670.8" cy="250.8"/><circle cx="985.3" cy="732.1"/><circle cx="385.6" cy="812.6"/><circle cx="233.3" cy="539.2"/><circle cx="459.5" cy="415.3"/><circle cx="696.7" cy="853.5"/><circle cx="678.0" cy="447.9"/><circle cx="697.8" cy="463.6"/><circle cx="509.3" cy="555.8"/><circle cx="1009.3" cy="681.6"/><circle cx="392.5" cy="866.2"/><circle cx="175.7" cy="540.7"/><circle cx="693.2" cy="145.5"/><circle cx="1014.8" cy="740.5"/><circle cx="378.5" cy="410.5"/><circle cx="717.9" cy="138.2"/><circle cx="949.7" cy="709.7"/><circle cx="733.3" cy="849.3"/><circle cx="920.3" cy="777.2"/><circle cx="556.7" cy="217.9"/><circle cx="404.0" cy="809.4"/><circle cx="578.2" cy="235.8"/><circle cx="708.5" cy="124.0"/><circle cx="966.5" cy="716.9"/><circle cx="405.2" cy="435.8"/><circle cx="361.7" cy="824.3"/><circle cx="423.4" cy="553.6"/><circle cx="688.4" cy="462.9"/><circle cx="303.1" cy="848.3"/><circle cx="658.0" cy="709.5"/><circle cx="505.2" cy="562.3"/><circle cx="306.1" cy="848.7"/><circle cx="487.4" cy="574.2"/><circle cx="187.2" cy="528.0"/><circle cx="376.6" cy="837.0"/><circle cx="1059.1" cy="700.5"/><circle cx="205.4" cy="537.5"/><circle cx="786.9" cy="313.8"/><circle cx="517.0" cy="459.0"/><circle cx="776.3" cy="308.4"/><circle cx="515.3" cy="1019.8"/><circle cx="597.9" cy="435.9"/><circle cx="669.9" cy="139.5"/><circle cx="546.2" cy="233.4"/><circle cx="192.2" cy="539.5"/><circle cx="400.0" cy="766.5"/><circle cx="390.2" cy="735.0"/><circle cx="295.8" cy="854.8"/><circle cx="639.4" cy="661.9"/><circle cx="964.4" cy="742.4"/><circle cx="1003.6" cy="714.2"/><circle cx="723.7" cy="179.5"/><circle cx="447.5" cy="570.3"/><circle cx="974.9" cy="652.8"/><circle cx="681.7" cy="124.1"/><circle cx="363.1" cy="799.7"/><circle cx="627.7" cy="422.3"/><circle cx="320.6" cy="860.6"/><circle cx="706.2" cy="851.1"/><circle cx="632.5" cy="915.0"/><circle cx="521.4" cy="448.7"/><circle cx="710.7" cy="136.2"/><circle cx="1047.9" cy="738.7"/><circle cx="432.7" cy="540.7"/><circle cx="968.8" cy="726.2"/><circle cx="312.0" cy="817.9"/><circle cx="973.9" cy="661.9"/><circle cx="786.3" cy="293.3"/><circle cx="727.8" cy="173.2"/><circle cx="330.0" cy="814.3"/><circle cx="496.9" cy="561.1"/><circle cx="899.6" cy="561.4"/><circle cx="521.0" cy="979.1"/><circle cx="699.8" cy="186.8"/><circle cx="206.9" cy="548.2"/><circle cx="680.2" cy="177.6"/><circle cx="568.3" cy="491.7"/><circle cx="712.3" cy="184.6"/><circle cx="612.2" cy="430.6"/><circle cx="973.3" cy="736.5"/><circle cx="690.1" cy="155.4"/><circle cx="474.7" cy="558.0"/><circle cx="210.8" cy="555.1"/><circle cx="596.6" cy="667.6"/><circle cx="944.0" cy="715.5"/><circle cx="483.3" cy="463.3"/><circle cx="453.6" cy="856.1"/><circle cx="203.1" cy="523.9"/><circle cx="953.4" cy="713.1"/><circle cx="298.2" cy="818.7"/><circle cx="188.2" cy="542.6"/><circle cx="674.1" cy="727.9"/><circle cx="667.6" cy="118.4"/><circle cx="709.3" cy="464.1"/><circle cx="971.0" cy="761.1"/><circle cx="193.3" cy="561.9"/><circle cx="969.5" cy="754.2"/><circle cx="356.2" cy="845.1"/><circle cx="384.5" cy="806.7"/><circle cx="355.5" cy="777.3"/><circle cx="463.9" cy="577.9"/><circle cx="694.2" cy="120.5"/><circle cx="428.7" cy="544.5"/><circle cx="568.1" cy="221.3"/><circle cx="431.3" cy="581.5"/><circle cx="710.1" cy="171.9"/><circle cx="307.8" cy="836.6"/><circle cx="945.7" cy="718.9"/><circle cx="714.8" cy="849.9"/><circle cx="937.6" cy="720.3"/><circle cx="958.6" cy="744.7"/><circle cx="616.6" cy="689.9"/><circle cx="744.4" cy="604.3"/><circle cx="173.9" cy="526.1"/><circle cx="793.4" cy="209.1"/><circle cx="402.2" cy="810.8"/><circle cx="581.7" cy="475.0"/><circle cx="544.7" cy="767.0"/><circle cx="392.6" cy="385.3"/><circle cx="312.4" cy="832.0"/><circle cx="333.0" cy="764.5"/><circle cx="521.0" cy="548.6"/><circle cx="333.8" cy="788.8"/><circle cx="598.4" cy="392.3"/><circle cx="202.7" cy="569.7"/><circle cx="1028.5" cy="671.4"/><circle cx="169.5" cy="540.1"/><circle cx="417.7" cy="549.2"/><circle cx="977.0" cy="667.1"/><circle cx="673.7" cy="127.8"/><circle cx="1010.9" cy="676.7"/><circle cx="502.7" cy="577.5"/><circle cx="367.5" cy="809.8"/><circle cx="340.8" cy="822.0"/><circle cx="754.3" cy="210.8"/><circle cx="670.6" cy="433.0"/><circle cx="613.3" cy="465.6"/><circle cx="431.2" cy="575.5"/><circle cx="548.8" cy="241.5"/><circle cx="495.2" cy="573.5"/><circle cx="1023.9" cy="732.6"/><circle cx="604.3" cy="416.5"/><circle cx="704.4" cy="153.3"/><circle cx="342.3" cy="812.7"/><circle cx="684.0" cy="168.6"/><circle cx="1062.5" cy="664.3"/><circle cx="676.7" cy="115.6"/><circle cx="725.3" cy="166.7"/><circle cx="720.0" cy="847.3"/><circle cx="595.4" cy="401.0"/><circle cx="603.3" cy="686.7"/><circle cx="181.9" cy="551.5"/><circle cx="463.7" cy="582.0"/><circle cx="399.2" cy="811.0"/><circle cx="560.3" cy="218.0"/><circle cx="615.6" cy="456.2"/><circle cx="304.4" cy="826.0"/><circle cx="565.8" cy="782.8"/><circle cx="628.7" cy="895.3"/><circle cx="356.3" cy="813.4"/><circle cx="298.7" cy="823.4"/><circle cx="904.8" cy="552.6"/><circle cx="992.1" cy="771.7"/><circle cx="234.1" cy="514.7"/><circle cx="598.8" cy="412.8"/><circle cx="815.2" cy="296.5"/><circle cx="455.2" cy="849.4"/><circle cx="1008.2" cy="711.5"/><circle cx="304.4" cy="857.4"/><circle cx="336.5" cy="783.6"/><circle cx="999.0" cy="631.0"/><circle cx="805.5" cy="286.5"/><circle cx="509.6" cy="879.8"/><circle cx="351.4" cy="821.7"/><circle cx="729.7" cy="590.3"/><circle cx="491.7" cy="485.0"/><circle cx="592.6" cy="395.7"/><circle cx="692.3" cy="176.2"/><circle cx="516.4" cy="1017.0"/><circle cx="949.8" cy="683.6"/><circle cx="332.3" cy="739.3"/><circle cx="539.7" cy="433.7"/><circle cx="412.3" cy="831.6"/><circle cx="978.2" cy="754.7"/><circle cx="656.7" cy="461.7"/><circle cx="447.5" cy="565.7"/><circle cx="192.7" cy="537.5"/><circle cx="695.0" cy="171.7"/><circle cx="1004.2" cy="763.9"/><circle cx="682.5" cy="453.0"/><circle cx="428.0" cy="568.5"/><circle cx="401.5" cy="787.5"/><circle cx="968.3" cy="719.4"/><circle cx="573.8" cy="773.7"/><circle cx="457.0" cy="844.5"/><circle cx="702.3" cy="168.4"/><circle cx="563.7" cy="230.6"/><circle cx="358.8" cy="777.5"/><circle cx="761.5" cy="236.0"/><circle cx="342.1" cy="764.7"/><circle cx="348.4" cy="850.9"/><circle cx="687.9" cy="157.3"/><circle cx="566.4" cy="768.8"/><circle cx="559.1" cy="235.2"/><circle cx="589.8" cy="388.7"/><circle cx="306.2" cy="784.5"/><circle cx="484.3" cy="585.4"/><circle cx="953.7" cy="665.4"/><circle cx="723.7" cy="471.1"/><circle cx="422.5" cy="417.5"/><circle cx="1027.6" cy="668.5"/><circle cx="675.4" cy="157.8"/><circle cx="624.2" cy="653.0"/><circle cx="160.7" cy="562.4"/><circle cx="438.5" cy="592.0"/><circle cx="180.1" cy="513.0"/><circle cx="683.6" cy="161.4"/><circle cx="721.0" cy="592.4"/><circle cx="479.1" cy="557.3"/><circle cx="932.7" cy="724.1"/><circle cx="595.9" cy="377.9"/><circle cx="1050.7" cy="703.4"/><circle cx="371.2" cy="820.7"/><circle cx="1000.4" cy="700.9"/><circle cx="324.7" cy="731.9"/><circle cx="220.5" cy="571.1"/><circle cx="946.5" cy="694.1"/><circle cx="595.3" cy="401.7"/><circle cx="509.8" cy="530.0"/><circle cx="340.4" cy="850.9"/><circle cx="916.3" cy="729.8"/><circle cx="390.7" cy="421.0"/><circle cx="993.2" cy="719.8"/><circle cx="450.0" cy="414.2"/><circle cx="357.3" cy="828.9"/><circle cx="229.3" cy="540.2"/><circle cx="605.2" cy="384.6"/><circle cx="722.3" cy="143.2"/><circle cx="462.3" cy="588.7"/><circle cx="425.5" cy="828.3"/><circle cx="395.0" cy="829.3"/><circle cx="608.5" cy="682.1"/><circle cx="798.8" cy="782.5"/><circle cx="321.0" cy="858.4"/><circle cx="998.0" cy="763.6"/><circle cx="394.6" cy="801.5"/><circle cx="182.5" cy="536.9"/><circle cx="357.4" cy="842.0"/><circle cx="987.0" cy="694.6"/><circle cx="436.8" cy="592.9"/><circle cx="792.6" cy="313.0"/><circle cx="718.2" cy="166.5"/><circle cx="609.9" cy="685.7"/><circle cx="179.7" cy="529.2"/><circle cx="223.3" cy="572.3"/><circle cx="433.2" cy="570.4"/><circle cx="512.3" cy="880.8"/><circle cx="436.4" cy="836.6"/><circle cx="321.0" cy="739.6"/><circle cx="674.3" cy="459.2"/><circle cx="967.6" cy="761.1"/><circle cx="555.9" cy="230.6"/><circle cx="689.2" cy="449.3"/><circle cx="232.1" cy="543.9"/><circle cx="611.5" cy="464.6"/><circle cx="626.0" cy="704.9"/><circle cx="697.5" cy="131.1"/><circle cx="769.5" cy="591.5"/><circle cx="340.0" cy="845.3"/><circle cx="194.2" cy="561.9"/><circle cx="969.9" cy="700.6"/><circle cx="470.0" cy="560.3"/><circle cx="733.1" cy="238.5"/><circle cx="820.1" cy="278.9"/><circle cx="955.7" cy="760.1"/><circle cx="500.8" cy="510.0"/><circle cx="713.9" cy="460.0"/><circle cx="694.3" cy="155.3"/><circle cx="729.2" cy="173.3"/><circle cx="955.3" cy="678.1"/><circle cx="975.3" cy="648.8"/><circle cx="820.2" cy="275.2"/><circle cx="568.4" cy="780.1"/><circle cx="934.3" cy="774.3"/><circle cx="946.1" cy="705.4"/><circle cx="322.1" cy="832.8"/><circle cx="666.5" cy="171.3"/><circle cx="608.7" cy="423.2"/><circle cx="455.8" cy="563.9"/><circle cx="947.2" cy="755.2"/><circle cx="326.8" cy="850.8"/><circle cx="366.0" cy="770.4"/><circle cx="733.8" cy="172.1"/><circle cx="1017.1" cy="635.0"/><circle cx="946.7" cy="721.2"/><circle cx="909.2" cy="730.3"/><circle cx="793.0" cy="314.0"/><circle cx="683.8" cy="453.2"/><circle cx="688.5" cy="445.9"/><circle cx="517.9" cy="534.9"/><circle cx="400.1" cy="428.4"/><circle cx="934.5" cy="726.6"/><circle cx="725.2" cy="194.5"/><circle cx="573.3" cy="772.0"/><circle cx="1012.2" cy="705.9"/><circle cx="1019.0" cy="765.1"/><circle cx="600.9" cy="670.5"/><circle cx="684.0" cy="145.6"/><circle cx="773.2" cy="601.5"/><circle cx="244.5" cy="571.9"/><circle cx="709.1" cy="173.4"/><circle cx="302.6" cy="814.2"/><circle cx="652.7" cy="659.0"/><circle cx="636.7" cy="463.3"/><circle cx="950.4" cy="750.8"/><circle cx="1011.6" cy="736.2"/><circle cx="412.6" cy="445.3"/><circle cx="482.5" cy="870.5"/><circle cx="702.2" cy="117.9"/><circle cx="717.6" cy="448.0"/><circle cx="750.0" cy="551.8"/><circle cx="966.9" cy="709.0"/><circle cx="770.1" cy="603.8"/><circle cx="942.7" cy="737.4"/><circle cx="293.3" cy="847.3"/><circle cx="793.2" cy="318.1"/><circle cx="405.0" cy="390.8"/><circle cx="900.4" cy="560.0"/><circle cx="946.4" cy="713.1"/><circle cx="711.5" cy="177.7"/><circle cx="1007.1" cy="768.6"/><circle cx="606.6" cy="423.2"/><circle cx="671.8" cy="173.7"/><circle cx="691.1" cy="455.8"/><circle cx="1037.5" cy="664.5"/><circle cx="938.5" cy="782.6"/><circle cx="983.6" cy="689.3"/><circle cx="305.4" cy="810.9"/><circle cx="379.2" cy="806.6"/><circle cx="949.6" cy="666.8"/><circle cx="719.8" cy="469.0"/><circle cx="323.9" cy="739.8"/><circle cx="718.2" cy="450.5"/><circle cx="986.4" cy="709.9"/><circle cx="801.2" cy="781.2"/><circle cx="617.2" cy="439.7"/><circle cx="744.5" cy="588.7"/><circle cx="560.1" cy="235.9"/><circle cx="412.8" cy="434.4"/><circle cx="1001.4" cy="717.5"/><circle cx="398.5" cy="423.1"/><circle cx="1035.2" cy="657.7"/><circle cx="935.5" cy="745.0"/><circle cx="181.9" cy="518.7"/><circle cx="915.1" cy="763.4"/><circle cx="728.7" cy="148.5"/><circle cx="1007.3" cy="751.9"/><circle cx="296.1" cy="821.9"/><circle cx="461.7" cy="842.3"/><circle cx="1024.8" cy="713.3"/><circle cx="292.2" cy="821.9"/><circle cx="699.5" cy="932.5"/><circle cx="714.3" cy="140.9"/><circle cx="733.6" cy="149.5"/><circle cx="479.3" cy="572.2"/><circle cx="980.6" cy="722.4"/><circle cx="1047.7" cy="703.5"/><circle cx="640.5" cy="674.1"/><circle cx="703.3" cy="171.3"/><circle cx="795.8" cy="320.4"/><circle cx="482.2" cy="477.2"/><circle cx="711.4" cy="122.3"/><circle cx="979.1" cy="737.0"/><circle cx="163.0" cy="531.1"/><circle cx="320.1" cy="797.9"/><circle cx="688.1" cy="442.9"/><circle cx="196.0" cy="521.5"/><circle cx="391.5" cy="389.6"/><circle cx="423.3" cy="820.0"/><circle cx="942.7" cy="760.5"/><circle cx="757.8" cy="605.0"/><circle cx="327.8" cy="822.8"/><circle cx="393.8" cy="803.6"/><circle cx="396.3" cy="838.6"/><circle cx="323.4" cy="850.6"/><circle cx="527.2" cy="983.4"/><circle cx="730.1" cy="177.7"/><circle cx="684.6" cy="153.2"/><circle cx="372.5" cy="808.7"/><circle cx="1047.0" cy="707.4"/><circle cx="785.6" cy="572.0"/><circle cx="328.0" cy="774.3"/><circle cx="959.1" cy="725.9"/><circle cx="759.0" cy="222.5"/><circle cx="577.6" cy="775.2"/><circle cx="587.6" cy="450.2"/><circle cx="415.0" cy="396.7"/><circle cx="196.4" cy="511.1"/><circle cx="586.2" cy="448.0"/><circle cx="330.5" cy="821.4"/><circle cx="692.0" cy="851.9"/><circle cx="579.5" cy="230.8"/><circle cx="914.5" cy="706.8"/><circle cx="498.8" cy="546.8"/><circle cx="196.5" cy="516.9"/><circle cx="1002.8" cy="628.1"/><circle cx="566.0" cy="766.5"/><circle cx="421.7" cy="403.3"/><circle cx="537.4" cy="247.8"/><circle cx="236.6" cy="569.8"/><circle cx="592.1" cy="385.0"/><circle cx="383.9" cy="398.8"/><circle cx="760.5" cy="209.2"/><circle cx="745.0" cy="535.2"/><circle cx="183.3" cy="539.7"/><circle cx="798.5" cy="275.5"/><circle cx="347.6" cy="750.0"/><circle cx="294.7" cy="826.1"/><circle cx="251.1" cy="504.8"/><circle cx="532.7" cy="1010.5"/><circle cx="686.9" cy="178.5"/><circle cx="442.6" cy="841.9"/><circle cx="640.0" cy="460.8"/><circle cx="632.5" cy="692.5"/><circle cx="470.5" cy="848.5"/><circle cx="632.3" cy="420.1"/><circle cx="1015.9" cy="746.7"/><circle cx="679.9" cy="732.0"/><circle cx="407.6" cy="440.8"/><circle cx="723.1" cy="123.7"/><circle cx="1026.6" cy="679.1"/><circle cx="547.1" cy="779.5"/><circle cx="328.7" cy="813.2"/><circle cx="722.7" cy="165.7"/><circle cx="231.1" cy="525.9"/><circle cx="625.1" cy="418.4"/><circle cx="611.2" cy="408.0"/><circle cx="303.0" cy="851.5"/><circle cx="573.8" cy="763.8"/><circle cx="943.0" cy="683.7"/><circle cx="221.0" cy="577.5"/><circle cx="308.1" cy="847.0"/><circle cx="987.3" cy="693.0"/><circle cx="666.0" cy="125.6"/><circle cx="254.4" cy="503.1"/><circle cx="721.7" cy="169.5"/><circle cx="586.2" cy="465.1"/><circle cx="990.9" cy="739.8"/><circle cx="477.3" cy="596.9"/><circle cx="825.4" cy="276.2"/><circle cx="480.5" cy="592.3"/><circle cx="328.8" cy="833.5"/><circle cx="361.8" cy="850.6"/><circle cx="751.2" cy="561.8"/><circle cx="672.1" cy="131.4"/><circle cx="385.5" cy="423.2"/><circle cx="709.8" cy="181.1"/><circle cx="159.2" cy="554.1"/><circle cx="690.0" cy="433.6"/><circle cx="348.4" cy="755.9"/><circle cx="637.7" cy="915.6"/><circle cx="966.6" cy="775.1"/><circle cx="996.3" cy="710.4"/><circle cx="541.5" cy="238.1"/><circle cx="434.9" cy="845.1"/><circle cx="1009.8" cy="722.5"/><circle cx="787.0" cy="269.2"/><circle cx="365.5" cy="729.0"/><circle cx="960.6" cy="743.5"/><circle cx="345.7" cy="831.1"/><circle cx="335.9" cy="759.9"/><circle cx="590.4" cy="420.4"/><circle cx="412.6" cy="443.5"/><circle cx="940.8" cy="714.7"/><circle cx="329.7" cy="845.1"/><circle cx="388.0" cy="743.2"/><circle cx="627.3" cy="445.9"/><circle cx="345.7" cy="857.6"/><circle cx="375.3" cy="765.7"/><circle cx="252.2" cy="491.0"/><circle cx="994.1" cy="722.4"/><circle cx="561.3" cy="443.3"/><circle cx="973.2" cy="719.6"/><circle cx="385.3" cy="810.9"/><circle cx="728.7" cy="155.7"/><circle cx="518.9" cy="555.0"/><circle cx="478.5" cy="871.0"/><circle cx="714.6" cy="459.9"/><circle cx="530.3" cy="248.3"/><circle cx="682.8" cy="425.5"/><circle cx="1000.2" cy="741.5"/><circle cx="347.4" cy="826.1"/><circle cx="1021.9" cy="682.8"/><circle cx="742.4" cy="595.0"/><circle cx="654.6" cy="684.9"/><circle cx="356.7" cy="857.1"/><circle cx="708.4" cy="166.6"/><circle cx="698.2" cy="164.9"/><circle cx="747.3" cy="590.2"/><circle cx="734.0" cy="594.2"/><circle cx="344.9" cy="832.9"/><circle cx="495.2" cy="872.1"/><circle cx="158.2" cy="551.2"/><circle cx="1054.6" cy="654.7"/><circle cx="583.0" cy="229.3"/><circle cx="1011.5" cy="708.4"/><circle cx="316.8" cy="789.8"/><circle cx="755.9" cy="586.4"/><circle cx="481.7" cy="503.3"/><circle cx="386.1" cy="842.1"/><circle cx="992.7" cy="695.5"/><circle cx="159.5" cy="536.2"/><circle cx="511.0" cy="558.8"/><circle cx="991.9" cy="770.6"/><circle cx="643.3" cy="687.4"/><circle cx="695.4" cy="849.2"/><circle cx="215.4" cy="556.4"/><circle cx="965.9" cy="671.3"/><circle cx="327.9" cy="797.8"/><circle cx="386.3" cy="816.6"/><circle cx="1027.2" cy="643.7"/><circle cx="439.9" cy="585.8"/><circle cx="404.3" cy="806.9"/><circle cx="708.2" cy="149.6"/><circle cx="509.4" cy="875.2"/><circle cx="724.3" cy="135.6"/><circle cx="204.0" cy="546.1"/><circle cx="981.8" cy="769.0"/><circle cx="692.7" cy="455.6"/><circle cx="731.6" cy="841.8"/><circle cx="1008.9" cy="771.8"/><circle cx="172.0" cy="558.2"/><circle cx="419.9" cy="445.3"/><circle cx="401.9" cy="817.9"/><circle cx="386.4" cy="829.7"/><circle cx="569.4" cy="223.5"/><circle cx="345.7" cy="840.9"/><circle cx="394.9" cy="840.9"/><circle cx="810.0" cy="283.3"/><circle cx="721.0" cy="130.1"/><circle cx="1036.1" cy="724.0"/><circle cx="728.0" cy="839.8"/><circle cx="724.2" cy="158.0"/><circle cx="363.8" cy="814.7"/><circle cx="1001.7" cy="709.3"/><circle cx="623.0" cy="657.8"/><circle cx="503.0" cy="566.2"/><circle cx="219.2" cy="571.0"/><circle cx="827.9" cy="278.2"/><circle cx="366.4" cy="766.4"/><circle cx="408.3" cy="394.2"/><circle cx="500.9" cy="552.4"/><circle cx="709.5" cy="183.1"/><circle cx="321.7" cy="838.4"/><circle cx="344.9" cy="860.4"/><circle cx="962.3" cy="728.3"/><circle cx="307.8" cy="827.5"/><circle cx="475.0" cy="449.2"/><circle cx="381.5" cy="420.0"/><circle cx="490.0" cy="569.5"/><circle cx="960.4" cy="774.1"/><circle cx="693.8" cy="437.3"/><circle cx="468.8" cy="560.5"/><circle cx="234.9" cy="534.7"/><circle cx="294.9" cy="836.7"/><circle cx="547.9" cy="242.0"/><circle cx="841.8" cy="286.8"/><circle cx="924.8" cy="772.1"/><circle cx="237.0" cy="550.0"/><circle cx="393.8" cy="384.1"/><circle cx="988.9" cy="702.7"/><circle cx="679.9" cy="144.7"/><circle cx="1010.6" cy="679.8"/><circle cx="1041.4" cy="707.0"/><circle cx="311.1" cy="789.7"/><circle cx="645.5" cy="917.0"/><circle cx="628.3" cy="465.0"/><circle cx="769.0" cy="286.5"/><circle cx="374.7" cy="836.1"/><circle cx="935.9" cy="733.7"/><circle cx="472.5" cy="589.6"/><circle cx="750.2" cy="240.0"/><circle cx="224.5" cy="553.4"/><circle cx="180.1" cy="513.9"/><circle cx="937.6" cy="736.6"/><circle cx="996.8" cy="661.9"/><circle cx="710.9" cy="462.0"/><circle cx="804.5" cy="296.5"/><circle cx="632.8" cy="906.5"/><circle cx="353.9" cy="732.9"/><circle cx="595.3" cy="676.9"/><circle cx="674.0" cy="141.0"/><circle cx="951.5" cy="762.1"/><circle cx="471.4" cy="855.3"/><circle cx="998.2" cy="695.7"/><circle cx="946.6" cy="742.3"/><circle cx="408.9" cy="831.8"/><circle cx="607.0" cy="675.1"/><circle cx="451.2" cy="567.2"/><circle cx="607.7" cy="467.6"/><circle cx="407.3" cy="833.2"/><circle cx="175.1" cy="548.9"/><circle cx="398.9" cy="808.0"/><circle cx="708.5" cy="441.5"/><circle cx="773.6" cy="306.2"/><circle cx="636.7" cy="706.8"/><circle cx="548.9" cy="233.0"/><circle cx="315.2" cy="831.6"/><circle cx="212.6" cy="551.4"/><circle cx="965.9" cy="755.5"/><circle cx="458.2" cy="842.3"/><circle cx="472.2" cy="584.3"/><circle cx="1018.2" cy="744.1"/><circle cx="560.8" cy="221.9"/><circle cx="745.8" cy="552.6"/><circle cx="363.8" cy="758.6"/><circle cx="259.9" cy="493.2"/><circle cx="184.9" cy="561.0"/><circle cx="484.2" cy="357.5"/><circle cx="732.2" cy="857.0"/><circle cx="670.3" cy="453.5"/><circle cx="680.0" cy="129.2"/><circle cx="1010.8" cy="696.5"/><circle cx="375.2" cy="828.2"/><circle cx="527.2" cy="1014.8"/><circle cx="615.9" cy="657.8"/><circle cx="436.4" cy="593.5"/><circle cx="355.8" cy="790.9"/><circle cx="600.2" cy="677.7"/><circle cx="207.6" cy="536.1"/><circle cx="983.4" cy="640.9"/><circle cx="374.5" cy="801.0"/><circle cx="816.5" cy="274.2"/><circle cx="620.9" cy="399.9"/><circle cx="329.0" cy="752.2"/><circle cx="816.7" cy="290.2"/><circle cx="1028.3" cy="663.4"/><circle cx="712.3" cy="584.3"/><circle cx="727.5" cy="847.9"/><circle cx="625.7" cy="896.1"/><circle cx="757.4" cy="594.2"/><circle cx="546.2" cy="243.0"/><circle cx="781.2" cy="304.8"/><circle cx="697.6" cy="175.0"/><circle cx="583.1" cy="468.6"/><circle cx="565.6" cy="227.4"/><circle cx="610.5" cy="847.5"/><circle cx="635.0" cy="911.2"/><circle cx="1012.1" cy="732.2"/><circle cx="727.9" cy="155.7"/><circle cx="435.6" cy="582.5"/><circle cx="514.0" cy="449.2"/><circle cx="385.9" cy="420.4"/><circle cx="408.5" cy="403.0"/><circle cx="608.3" cy="704.7"/><circle cx="363.5" cy="823.7"/><circle cx="716.2" cy="270.5"/><circle cx="803.3" cy="243.7"/><circle cx="603.2" cy="670.7"/><circle cx="835.5" cy="291.3"/><circle cx="615.1" cy="236.6"/><circle cx="736.7" cy="842.9"/><circle cx="710.0" cy="832.0"/><circle cx="761.0" cy="572.0"/><circle cx="184.7" cy="514.8"/><circle cx="368.1" cy="844.1"/><circle cx="985.5" cy="677.2"/><circle cx="405.2" cy="847.8"/><circle cx="202.5" cy="528.5"/><circle cx="216.1" cy="568.5"/><circle cx="207.9" cy="538.5"/><circle cx="545.2" cy="216.1"/><circle cx="430.0" cy="558.4"/><circle cx="492.5" cy="346.2"/><circle cx="710.7" cy="465.8"/><circle cx="740.9" cy="210.2"/><circle cx="300.5" cy="817.2"/><circle cx="937.7" cy="749.3"/><circle cx="458.0" cy="562.0"/><circle cx="196.5" cy="539.6"/><circle cx="228.3" cy="533.5"/><circle cx="417.4" cy="833.2"/><circle cx="428.5" cy="579.8"/><circle cx="605.3" cy="648.0"/><circle cx="210.1" cy="543.1"/><circle cx="787.2" cy="309.7"/><circle cx="596.5" cy="665.0"/><circle cx="594.7" cy="408.2"/><circle cx="679.3" cy="156.1"/><circle cx="944.4" cy="783.9"/><circle cx="578.2" cy="239.3"/><circle cx="1006.3" cy="676.4"/><circle cx="187.5" cy="554.2"/><circle cx="644.2" cy="432.5"/><circle cx="1000.7" cy="682.0"/><circle cx="471.9" cy="596.8"/><circle cx="753.0" cy="793.0"/><circle cx="740.0" cy="539.8"/><circle cx="351.7" cy="788.8"/><circle cx="500.5" cy="877.6"/><circle cx="1061.6" cy="686.9"/><circle cx="347.5" cy="868.5"/><circle cx="628.8" cy="905.0"/><circle cx="362.0" cy="756.8"/><circle cx="556.6" cy="226.9"/><circle cx="835.5" cy="281.9"/><circle cx="339.0" cy="798.9"/><circle cx="320.3" cy="813.7"/><circle cx="476.7" cy="582.4"/><circle cx="668.5" cy="151.0"/><circle cx="328.3" cy="779.9"/><circle cx="994.1" cy="728.3"/><circle cx="247.2" cy="494.3"/><circle cx="988.7" cy="677.0"/><circle cx="508.2" cy="533.7"/><circle cx="230.5" cy="573.1"/><circle cx="225.5" cy="578.4"/><circle cx="526.2" cy="1010.5"/><circle cx="1026.4" cy="764.1"/><circle cx="1010.0" cy="759.3"/><circle cx="355.5" cy="820.3"/><circle cx="474.6" cy="848.6"/><circle cx="592.5" cy="406.5"/><circle cx="776.0" cy="571.0"/><circle cx="710.0" cy="237.1"/><circle cx="366.7" cy="824.4"/><circle cx="511.3" cy="452.5"/><circle cx="287.9" cy="819.5"/><circle cx="527.2" cy="430.0"/><circle cx="714.5" cy="130.8"/><circle cx="186.0" cy="551.7"/><circle cx="978.5" cy="702.2"/><circle cx="983.3" cy="633.8"/><circle cx="461.7" cy="848.3"/><circle cx="966.0" cy="746.3"/><circle cx="1036.4" cy="713.6"/><circle cx="761.9" cy="255.2"/><circle cx="983.8" cy="683.1"/><circle cx="620.7" cy="683.1"/><circle cx="427.1" cy="556.9"/><circle cx="655.8" cy="248.3"/><circle cx="829.2" cy="280.7"/><circle cx="675.1" cy="165.4"/><circle cx="384.3" cy="400.4"/><circle cx="1003.7" cy="725.5"/><circle cx="313.3" cy="813.8"/><circle cx="736.6" cy="152.3"/><circle cx="1019.7" cy="731.5"/><circle cx="1026.7" cy="715.2"/><circle cx="660.7" cy="689.4"/><circle cx="676.9" cy="717.4"/><circle cx="672.5" cy="244.2"/><circle cx="334.0" cy="829.3"/><circle cx="320.9" cy="823.5"/><circle cx="837.5" cy="283.2"/><circle cx="773.0" cy="294.2"/><circle cx="778.0" cy="305.8"/><circle cx="912.8" cy="678.8"/><circle cx="452.9" cy="860.1"/><circle cx="721.9" cy="466.4"/><circle cx="906.0" cy="731.9"/><circle cx="472.6" cy="563.1"/><circle cx="1031.6" cy="673.9"/><circle cx="720.0" cy="937.0"/><circle cx="649.2" cy="444.2"/><circle cx="330.4" cy="779.9"/><circle cx="714.5" cy="176.7"/><circle cx="172.1" cy="536.0"/><circle cx="1008.9" cy="662.0"/><circle cx="994.2" cy="658.9"/><circle cx="491.6" cy="560.6"/><circle cx="789.0" cy="265.5"/><circle cx="593.6" cy="390.4"/><circle cx="723.4" cy="149.0"/><circle cx="459.6" cy="575.8"/><circle cx="594.8" cy="386.3"/><circle cx="1039.6" cy="725.5"/><circle cx="767.2" cy="214.9"/><circle cx="979.1" cy="698.3"/><circle cx="355.2" cy="755.2"/><circle cx="483.9" cy="860.0"/><circle cx="432.2" cy="588.4"/><circle cx="324.1" cy="807.6"/><circle cx="668.5" cy="454.4"/><circle cx="967.8" cy="641.9"/><circle cx="447.4" cy="859.5"/><circle cx="956.3" cy="721.0"/><circle cx="612.8" cy="686.8"/><circle cx="435.6" cy="847.8"/><circle cx="494.8" cy="575.0"/><circle cx="564.1" cy="767.0"/><circle cx="465.8" cy="448.3"/><circle cx="554.7" cy="766.9"/><circle cx="414.7" cy="827.1"/><circle cx="931.7" cy="703.8"/><circle cx="300.2" cy="838.8"/><circle cx="1006.9" cy="627.9"/><circle cx="945.2" cy="781.3"/><circle cx="588.4" cy="455.6"/><circle cx="951.0" cy="724.0"/><circle cx="585.4" cy="399.8"/><circle cx="427.6" cy="571.7"/><circle cx="566.0" cy="216.6"/><circle cx="700.8" cy="162.0"/><circle cx="984.8" cy="718.2"/><circle cx="964.2" cy="766.4"/><circle cx="717.1" cy="132.4"/><circle cx="989.3" cy="641.9"/><circle cx="712.4" cy="136.0"/><circle cx="401.6" cy="427.6"/><circle cx="794.5" cy="314.4"/><circle cx="300.7" cy="846.2"/><circle cx="208.3" cy="515.9"/><circle cx="358.3" cy="800.2"/><circle cx="216.3" cy="568.4"/><circle cx="1035.8" cy="678.7"/><circle cx="721.9" cy="128.4"/><circle cx="150.8" cy="551.4"/><circle cx="208.6" cy="502.7"/><circle cx="1021.0" cy="710.1"/><circle cx="782.7" cy="592.0"/><circle cx="453.3" cy="575.4"/><circle cx="605.0" cy="418.6"/><circle cx="395.8" cy="402.4"/><circle cx="412.6" cy="835.4"/><circle cx="447.4" cy="593.6"/><circle cx="672.4" cy="703.3"/><circle cx="405.8" cy="438.9"/><circle cx="670.4" cy="442.8"/><circle cx="819.0" cy="288.9"/><circle cx="757.3" cy="598.3"/><circle cx="580.8" cy="229.3"/><circle cx="701.0" cy="149.8"/><circle cx="454.8" cy="564.9"/><circle cx="974.3" cy="702.6"/><circle cx="439.1" cy="1043.0"/><circle cx="1020.3" cy="646.4"/><circle cx="978.9" cy="744.2"/><circle cx="752.0" cy="221.3"/><circle cx="514.5" cy="542.9"/><circle cx="697.2" cy="158.4"/><circle cx="198.8" cy="540.8"/><circle cx="336.0" cy="773.1"/><circle cx="493.3" cy="490.0"/><circle cx="690.4" cy="173.9"/><circle cx="624.6" cy="666.4"/><circle cx="340.7" cy="865.5"/><circle cx="913.0" cy="750.1"/><circle cx="983.0" cy="725.6"/><circle cx="976.5" cy="655.8"/><circle cx="713.8" cy="859.7"/><circle cx="394.8" cy="765.8"/><circle cx="157.4" cy="555.0"/><circle cx="319.3" cy="858.5"/><circle cx="471.1" cy="575.9"/><circle cx="465.3" cy="568.2"/><circle cx="936.1" cy="686.3"/><circle cx="420.6" cy="826.5"/><circle cx="1032.7" cy="665.4"/><circle cx="1040.6" cy="742.5"/><circle cx="613.3" cy="428.4"/><circle cx="705.4" cy="456.1"/><circle cx="736.2" cy="591.9"/><circle cx="326.7" cy="731.4"/><circle cx="773.0" cy="258.1"/><circle cx="827.6" cy="286.2"/><circle cx="739.7" cy="846.7"/><circle cx="596.0" cy="719.0"/><circle cx="711.4" cy="142.2"/><circle cx="573.2" cy="226.8"/><circle cx="179.2" cy="528.8"/><circle cx="366.9" cy="832.0"/><circle cx="159.4" cy="537.9"/><circle cx="1057.3" cy="652.1"/><circle cx="242.3" cy="498.7"/><circle cx="998.6" cy="690.6"/><circle cx="981.7" cy="681.0"/><circle cx="490.0" cy="879.5"/><circle cx="731.0" cy="590.6"/><circle cx="358.1" cy="782.2"/><circle cx="678.4" cy="143.8"/><circle cx="189.0" cy="529.7"/><circle cx="1025.0" cy="691.3"/><circle cx="799.0" cy="301.0"/><circle cx="979.3" cy="643.5"/><circle cx="733.6" cy="173.4"/><circle cx="1011.3" cy="626.8"/><circle cx="706.8" cy="848.6"/><circle cx="612.5" cy="778.2"/><circle cx="196.2" cy="543.4"/><circle cx="1005.8" cy="727.8"/><circle cx="748.5" cy="216.7"/><circle cx="399.9" cy="399.4"/><circle cx="378.7" cy="413.1"/><circle cx="1000.9" cy="675.8"/><circle cx="1003.8" cy="704.1"/><circle cx="792.5" cy="304.2"/><circle cx="987.9" cy="751.3"/><circle cx="450.5" cy="849.2"/><circle cx="435.0" cy="571.9"/><circle cx="1013.8" cy="753.5"/><circle cx="465.0" cy="584.7"/><circle cx="985.5" cy="686.9"/><circle cx="482.6" cy="581.5"/><circle cx="304.4" cy="819.9"/><circle cx="405.6" cy="823.3"/><circle cx="714.6" cy="136.7"/><circle cx="362.6" cy="810.6"/><circle cx="418.8" cy="559.4"/><circle cx="684.8" cy="420.3"/><circle cx="924.9" cy="756.8"/><circle cx="512.7" cy="572.7"/><circle cx="593.8" cy="420.9"/><circle cx="1035.0" cy="639.9"/><circle cx="235.6" cy="544.4"/><circle cx="993.6" cy="638.1"/><circle cx="729.4" cy="597.7"/><circle cx="195.3" cy="537.5"/><circle cx="456.4" cy="857.4"/><circle cx="952.7" cy="709.1"/><circle cx="981.2" cy="706.3"/><circle cx="748.3" cy="554.3"/><circle cx="330.5" cy="838.6"/><circle cx="545.7" cy="226.0"/><circle cx="457.9" cy="597.6"/><circle cx="331.3" cy="732.0"/><circle cx="436.9" cy="562.9"/><circle cx="615.7" cy="421.0"/><circle cx="813.8" cy="295.6"/><circle cx="203.1" cy="531.3"/><circle cx="383.1" cy="842.5"/><circle cx="930.9" cy="696.4"/><circle cx="208.3" cy="538.6"/><circle cx="315.9" cy="852.5"/><circle cx="745.0" cy="187.2"/><circle cx="944.1" cy="778.6"/><circle cx="333.9" cy="731.2"/><circle cx="478.5" cy="852.0"/><circle cx="236.4" cy="574.7"/><circle cx="716.2" cy="155.8"/><circle cx="415.0" cy="831.4"/><circle cx="973.0" cy="713.1"/><circle cx="337.4" cy="818.1"/><circle cx="950.1" cy="781.6"/><circle cx="415.2" cy="833.5"/><circle cx="979.7" cy="690.9"/><circle cx="762.0" cy="602.5"/><circle cx="1000.5" cy="724.4"/><circle cx="706.1" cy="856.9"/><circle cx="1038.5" cy="734.0"/><circle cx="997.1" cy="683.3"/><circle cx="493.5" cy="581.8"/><circle cx="322.5" cy="736.4"/><circle cx="757.0" cy="595.8"/><circle cx="425.0" cy="438.3"/><circle cx="990.0" cy="697.3"/><circle cx="181.3" cy="549.1"/><circle cx="347.6" cy="847.7"/><circle cx="326.9" cy="740.3"/><circle cx="777.6" cy="300.7"/><circle cx="432.7" cy="537.3"/><circle cx="803.6" cy="309.0"/><circle cx="467.1" cy="574.8"/><circle cx="726.9" cy="452.2"/><circle cx="762.2" cy="592.9"/><circle cx="306.9" cy="829.3"/><circle cx="372.5" cy="824.2"/><circle cx="612.5" cy="694.9"/><circle cx="548.7" cy="218.4"/><circle cx="768.5" cy="251.0"/><circle cx="955.4" cy="752.3"/><circle cx="202.0" cy="532.0"/><circle cx="196.3" cy="523.1"/><circle cx="607.2" cy="408.1"/><circle cx="433.0" cy="580.6"/><circle cx="1002.2" cy="670.2"/><circle cx="1017.7" cy="709.6"/><circle cx="440.0" cy="581.4"/><circle cx="606.2" cy="656.0"/><circle cx="585.7" cy="456.4"/><circle cx="945.0" cy="744.6"/><circle cx="328.2" cy="838.9"/><circle cx="754.9" cy="195.1"/><circle cx="717.4" cy="859.6"/><circle cx="167.4" cy="540.4"/><circle cx="1011.7" cy="705.5"/><circle cx="604.5" cy="433.9"/><circle cx="566.3" cy="218.2"/><circle cx="670.6" cy="120.4"/><circle cx="640.4" cy="664.5"/><circle cx="417.7" cy="821.7"/><circle cx="782.9" cy="588.9"/><circle cx="699.8" cy="155.8"/><circle cx="686.1" cy="153.0"/><circle cx="627.9" cy="670.2"/><circle cx="694.6" cy="130.4"/><circle cx="368.5" cy="829.1"/><circle cx="329.1" cy="741.3"/><circle cx="1045.8" cy="716.3"/><circle cx="672.8" cy="429.4"/><circle cx="695.1" cy="854.6"/><circle cx="566.7" cy="457.5"/><circle cx="215.6" cy="552.0"/><circle cx="642.0" cy="704.0"/><circle cx="512.1" cy="459.4"/><circle cx="1029.7" cy="702.4"/><circle cx="326.1" cy="862.8"/><circle cx="960.1" cy="728.4"/><circle cx="325.4" cy="812.0"/><circle cx="318.9" cy="849.0"/><circle cx="175.8" cy="538.3"/><circle cx="465.9" cy="566.7"/><circle cx="984.0" cy="669.0"/><circle cx="213.2" cy="570.7"/><circle cx="954.2" cy="756.6"/><circle cx="547.2" cy="216.4"/><circle cx="925.9" cy="709.4"/><circle cx="737.6" cy="840.7"/><circle cx="670.8" cy="240.0"/><circle cx="235.4" cy="546.7"/><circle cx="758.5" cy="239.0"/><circle cx="995.4" cy="743.2"/><circle cx="457.6" cy="562.1"/><circle cx="501.2" cy="885.5"/><circle cx="351.3" cy="801.1"/><circle cx="472.1" cy="846.9"/><circle cx="681.9" cy="453.4"/><circle cx="928.0" cy="780.4"/><circle cx="1011.1" cy="689.3"/><circle cx="349.3" cy="724.7"/><circle cx="825.1" cy="281.7"/><circle cx="740.3" cy="541.4"/><circle cx="493.5" cy="580.0"/><circle cx="524.2" cy="238.3"/><circle cx="798.2" cy="304.4"/><circle cx="988.6" cy="673.0"/><circle cx="440.7" cy="575.5"/><circle cx="677.3" cy="123.7"/><circle cx="637.4" cy="431.6"/><circle cx="721.2" cy="944.5"/><circle cx="1006.6" cy="708.9"/><circle cx="595.4" cy="672.1"/><circle cx="681.0" cy="131.9"/><circle cx="562.6" cy="235.2"/><circle cx="301.7" cy="833.3"/><circle cx="730.3" cy="848.1"/><circle cx="712.0" cy="455.6"/><circle cx="831.4" cy="294.9"/><circle cx="1049.9" cy="708.6"/><circle cx="356.6" cy="810.0"/><circle cx="361.2" cy="842.4"/><circle cx="1048.6" cy="650.4"/><circle cx="684.7" cy="127.6"/><circle cx="708.6" cy="446.7"/><circle cx="320.9" cy="848.8"/><circle cx="923.4" cy="714.7"/><circle cx="368.7" cy="821.2"/><circle cx="749.6" cy="602.7"/><circle cx="620.1" cy="458.5"/><circle cx="408.2" cy="829.6"/><circle cx="977.3" cy="682.2"/><circle cx="688.6" cy="132.5"/><circle cx="508.6" cy="559.5"/><circle cx="661.0" cy="159.9"/><circle cx="459.8" cy="598.8"/><circle cx="344.0" cy="804.3"/><circle cx="525.3" cy="552.8"/><circle cx="800.3" cy="320.1"/><circle cx="444.5" cy="845.2"/><circle cx="693.3" cy="172.5"/><circle cx="959.4" cy="738.7"/><circle cx="675.9" cy="424.5"/><circle cx="713.3" cy="188.6"/><circle cx="718.0" cy="182.2"/><circle cx="231.7" cy="540.8"/><circle cx="350.4" cy="812.0"/><circle cx="325.9" cy="781.8"/><circle cx="158.8" cy="543.5"/><circle cx="962.4" cy="707.3"/><circle cx="970.8" cy="691.0"/><circle cx="238.4" cy="516.6"/><circle cx="951.5" cy="729.0"/><circle cx="436.1" cy="567.7"/><circle cx="977.4" cy="762.0"/><circle cx="452.5" cy="587.7"/><circle cx="1042.9" cy="668.8"/><circle cx="181.2" cy="569.7"/><circle cx="633.8" cy="920.0"/><circle cx="962.2" cy="712.8"/><circle cx="758.6" cy="597.7"/><circle cx="679.6" cy="145.5"/><circle cx="973.0" cy="766.1"/><circle cx="602.7" cy="650.3"/><circle cx="941.9" cy="711.1"/><circle cx="1021.9" cy="701.2"/><circle cx="543.6" cy="770.8"/><circle cx="1025.5" cy="738.7"/><circle cx="466.9" cy="591.6"/><circle cx="775.5" cy="296.0"/><circle cx="470.4" cy="582.4"/><circle cx="682.6" cy="167.1"/><circle cx="372.6" cy="770.8"/><circle cx="948.7" cy="771.6"/><circle cx="948.8" cy="730.8"/><circle cx="342.1" cy="770.7"/><circle cx="755.4" cy="559.3"/><circle cx="677.1" cy="724.3"/><circle cx="740.5" cy="241.2"/><circle cx="957.9" cy="706.4"/><circle cx="1047.7" cy="714.2"/><circle cx="549.3" cy="312.7"/><circle cx="1014.1" cy="626.2"/><circle cx="987.4" cy="680.6"/><circle cx="199.5" cy="517.9"/><circle cx="218.7" cy="534.7"/><circle cx="727.9" cy="461.7"/><circle cx="678.9" cy="439.4"/><circle cx="824.9" cy="269.8"/><circle cx="484.9" cy="885.3"/><circle cx="514.2" cy="538.5"/><circle cx="329.8" cy="748.7"/><circle cx="696.8" cy="146.0"/><circle cx="1048.2" cy="682.4"/><circle cx="442.6" cy="589.4"/><circle cx="746.7" cy="555.2"/><circle cx="718.0" cy="473.5"/><circle cx="655.0" cy="435.0"/><circle cx="350.3" cy="848.4"/><circle cx="610.0" cy="237.8"/><circle cx="611.9" cy="682.3"/><circle cx="593.6" cy="229.7"/><circle cx="481.1" cy="867.5"/><circle cx="999.1" cy="724.7"/><circle cx="430.9" cy="558.0"/><circle cx="576.0" cy="230.9"/><circle cx="346.6" cy="791.1"/><circle cx="623.8" cy="892.5"/><circle cx="339.2" cy="739.3"/><circle cx="430.3" cy="831.9"/><circle cx="920.1" cy="757.5"/><circle cx="501.7" cy="543.9"/><circle cx="972.9" cy="694.1"/><circle cx="415.8" cy="415.8"/><circle cx="947.8" cy="734.9"/><circle cx="429.8" cy="558.7"/><circle cx="382.3" cy="794.7"/><circle cx="602.9" cy="436.3"/><circle cx="161.5" cy="530.3"/><circle cx="225.0" cy="531.9"/><circle cx="335.0" cy="752.3"/><circle cx="449.6" cy="842.5"/><circle cx="582.9" cy="448.8"/><circle cx="686.7" cy="162.2"/><circle cx="650.1" cy="662.4"/><circle cx="674.6" cy="704.5"/><circle cx="511.2" cy="551.9"/><circle cx="725.3" cy="123.6"/><circle cx="551.3" cy="230.6"/><circle cx="976.3" cy="769.5"/><circle cx="164.3" cy="550.4"/><circle cx="161.9" cy="564.9"/><circle cx="461.7" cy="450.0"/><circle cx="392.7" cy="837.6"/><circle cx="607.4" cy="429.8"/><circle cx="491.1" cy="566.8"/><circle cx="442.8" cy="394.7"/><circle cx="748.7" cy="598.9"/><circle cx="433.8" cy="564.1"/><circle cx="354.4" cy="796.3"/><circle cx="919.1" cy="781.2"/><circle cx="216.5" cy="511.7"/><circle cx="773.0" cy="259.0"/><circle cx="507.5" cy="555.5"/><circle cx="776.8" cy="295.6"/><circle cx="397.1" cy="801.8"/><circle cx="406.8" cy="835.6"/><circle cx="612.0" cy="238.3"/><circle cx="180.7" cy="521.9"/><circle cx="626.2" cy="885.0"/><circle cx="227.9" cy="543.6"/><circle cx="985.8" cy="766.0"/><circle cx="913.1" cy="780.2"/><circle cx="521.0" cy="450.5"/><circle cx="919.3" cy="774.4"/><circle cx="1005.6" cy="682.1"/><circle cx="487.2" cy="557.4"/><circle cx="599.2" cy="646.4"/><circle cx="682.9" cy="130.9"/><circle cx="970.5" cy="684.9"/><circle cx="812.1" cy="217.2"/><circle cx="383.9" cy="397.7"/><circle cx="933.3" cy="776.7"/><circle cx="424.3" cy="544.3"/><circle cx="504.6" cy="545.3"/><circle cx="407.8" cy="815.2"/><circle cx="433.5" cy="583.8"/><circle cx="1043.8" cy="730.4"/><circle cx="471.7" cy="544.2"/><circle cx="413.3" cy="406.7"/><circle cx="583.0" cy="771.0"/><circle cx="693.4" cy="168.8"/><circle cx="696.9" cy="843.7"/><circle cx="599.0" cy="703.5"/><circle cx="718.9" cy="135.3"/><circle cx="481.5" cy="575.3"/><circle cx="917.8" cy="779.9"/><circle cx="593.1" cy="419.8"/><circle cx="753.5" cy="605.5"/><circle cx="517.1" cy="558.8"/><circle cx="917.5" cy="751.0"/><circle cx="753.7" cy="600.7"/><circle cx="1040.1" cy="701.2"/><circle cx="472.7" cy="564.5"/><circle cx="781.2" cy="246.4"/><circle cx="671.2" cy="190.0"/><circle cx="1006.3" cy="767.8"/><circle cx="384.8" cy="823.0"/><circle cx="786.5" cy="270.2"/><circle cx="661.8" cy="132.7"/><circle cx="1006.4" cy="742.4"/><circle cx="811.5" cy="230.7"/><circle cx="403.0" cy="778.5"/><circle cx="172.0" cy="545.4"/><circle cx="805.3" cy="315.2"/><circle cx="387.5" cy="421.4"/><circle cx="704.5" cy="850.3"/><circle cx="598.4" cy="234.9"/><circle cx="438.3" cy="450.3"/><circle cx="492.5" cy="366.3"/><circle cx="821.9" cy="296.2"/><circle cx="977.7" cy="734.3"/><circle cx="454.7" cy="844.1"/><circle cx="929.9" cy="765.6"/><circle cx="610.8" cy="653.5"/><circle cx="1033.2" cy="737.3"/><circle cx="699.4" cy="182.0"/><circle cx="679.1" cy="164.4"/><circle cx="603.3" cy="237.1"/><circle cx="924.5" cy="767.5"/><circle cx="491.7" cy="360.8"/><circle cx="364.4" cy="807.9"/><circle cx="1038.4" cy="640.9"/><circle cx="184.5" cy="546.1"/><circle cx="677.7" cy="730.7"/><circle cx="1000.8" cy="661.2"/><circle cx="333.5" cy="844.9"/><circle cx="540.4" cy="226.5"/><circle cx="479.8" cy="557.8"/><circle cx="515.8" cy="536.1"/><circle cx="404.9" cy="836.4"/><circle cx="978.7" cy="706.2"/><circle cx="434.7" cy="842.0"/><circle cx="822.0" cy="221.3"/><circle cx="664.9" cy="124.4"/><circle cx="314.6" cy="838.3"/><circle cx="592.1" cy="675.3"/><circle cx="426.5" cy="546.9"/><circle cx="634.2" cy="243.7"/><circle cx="351.8" cy="848.2"/><circle cx="999.8" cy="667.3"/><circle cx="747.9" cy="598.9"/><circle cx="737.6" cy="602.5"/><circle cx="780.6" cy="253.4"/><circle cx="494.3" cy="552.9"/><circle cx="674.2" cy="442.0"/><circle cx="712.3" cy="191.0"/><circle cx="307.6" cy="856.4"/><circle cx="762.0" cy="255.5"/><circle cx="570.8" cy="443.3"/><circle cx="788.0" cy="244.8"/><circle cx="774.8" cy="251.1"/><circle cx="601.5" cy="407.3"/><circle cx="944.0" cy="775.9"/><circle cx="417.5" cy="406.7"/><circle cx="194.1" cy="536.1"/><circle cx="640.3" cy="667.7"/><circle cx="378.2" cy="819.8"/><circle cx="606.5" cy="461.2"/><circle cx="802.5" cy="300.5"/><circle cx="947.2" cy="709.5"/><circle cx="566.1" cy="773.2"/><circle cx="980.2" cy="716.4"/><circle cx="611.4" cy="390.7"/><circle cx="959.7" cy="749.9"/><circle cx="479.8" cy="857.9"/><circle cx="671.2" cy="724.2"/><circle cx="931.6" cy="756.7"/><circle cx="625.3" cy="701.1"/><circle cx="584.9" cy="399.6"/><circle cx="947.9" cy="772.4"/><circle cx="794.8" cy="310.8"/><circle cx="612.7" cy="669.6"/><circle cx="988.5" cy="708.2"/><circle cx="640.0" cy="701.0"/><circle cx="505.0" cy="550.9"/><circle cx="709.9" cy="136.4"/><circle cx="760.2" cy="594.3"/><circle cx="993.5" cy="738.4"/><circle cx="298.0" cy="852.5"/><circle cx="438.3" cy="838.7"/><circle cx="573.2" cy="778.0"/><circle cx="629.9" cy="671.3"/><circle cx="941.9" cy="774.6"/><circle cx="541.7" cy="244.7"/><circle cx="1033.5" cy="712.5"/><circle cx="339.6" cy="827.6"/><circle cx="1050.3" cy="734.3"/><circle cx="573.8" cy="232.3"/><circle cx="929.3" cy="776.8"/><circle cx="623.4" cy="699.2"/><circle cx="694.4" cy="468.9"/><circle cx="494.6" cy="559.4"/><circle cx="460.2" cy="846.0"/><circle cx="197.0" cy="506.6"/><circle cx="343.0" cy="832.0"/><circle cx="721.2" cy="187.8"/><circle cx="579.2" cy="465.7"/><circle cx="785.4" cy="313.4"/><circle cx="680.5" cy="175.8"/><circle cx="667.4" cy="124.9"/><circle cx="300.7" cy="852.1"/><circle cx="674.2" cy="247.5"/><circle cx="683.0" cy="445.7"/><circle cx="704.6" cy="138.1"/><circle cx="604.1" cy="665.3"/><circle cx="718.6" cy="593.0"/><circle cx="509.3" cy="461.1"/><circle cx="561.4" cy="224.6"/><circle cx="966.8" cy="749.4"/><circle cx="960.7" cy="733.3"/><circle cx="759.9" cy="589.8"/><circle cx="232.4" cy="553.5"/><circle cx="979.9" cy="750.4"/><circle cx="970.7" cy="722.5"/><circle cx="720.6" cy="472.3"/><circle cx="714.2" cy="854.1"/><circle cx="418.0" cy="553.9"/><circle cx="1012.3" cy="719.9"/><circle cx="971.3" cy="757.2"/><circle cx="679.9" cy="127.3"/><circle cx="382.5" cy="420.3"/><circle cx="311.6" cy="848.3"/><circle cx="791.7" cy="212.6"/><circle cx="737.5" cy="848.7"/><circle cx="543.1" cy="243.5"/><circle cx="963.2" cy="681.2"/><circle cx="1001.2" cy="735.8"/><circle cx="492.7" cy="571.9"/><circle cx="933.6" cy="750.0"/><circle cx="675.1" cy="133.3"/><circle cx="997.1" cy="762.0"/><circle cx="720.0" cy="159.8"/><circle cx="434.3" cy="563.2"/><circle cx="935.6" cy="771.1"/><circle cx="707.4" cy="124.4"/><circle cx="990.5" cy="705.8"/><circle cx="579.1" cy="229.6"/><circle cx="977.7" cy="773.2"/><circle cx="558.3" cy="497.5"/><circle cx="993.6" cy="715.6"/><circle cx="1018.7" cy="690.9"/><circle cx="1042.3" cy="724.9"/><circle cx="972.0" cy="769.9"/><circle cx="838.9" cy="287.6"/><circle cx="208.2" cy="506.5"/><circle cx="596.5" cy="387.3"/><circle cx="485.8" cy="581.3"/><circle cx="373.8" cy="750.0"/><circle cx="227.0" cy="568.9"/><circle cx="670.0" cy="438.2"/><circle cx="1013.9" cy="694.1"/><circle cx="942.7" cy="779.9"/><circle cx="951.5" cy="747.8"/><circle cx="392.6" cy="411.6"/><circle cx="670.0" cy="716.1"/><circle cx="1024.4" cy="718.8"/><circle cx="324.8" cy="793.5"/><circle cx="230.2" cy="519.2"/><circle cx="945.9" cy="740.4"/><circle cx="1036.3" cy="633.5"/><circle cx="731.2" cy="592.5"/><circle cx="600.9" cy="401.0"/><circle cx="740.6" cy="171.2"/><circle cx="403.2" cy="815.8"/><circle cx="987.1" cy="724.9"/><circle cx="923.4" cy="710.5"/><circle cx="742.0" cy="607.4"/><circle cx="376.4" cy="825.5"/><circle cx="366.1" cy="846.0"/><circle cx="945.4" cy="668.8"/><circle cx="331.3" cy="833.8"/><circle cx="938.8" cy="736.6"/><circle cx="822.8" cy="290.1"/><circle cx="929.8" cy="760.2"/><circle cx="817.3" cy="286.7"/><circle cx="330.2" cy="789.5"/><circle cx="185.1" cy="535.4"/><circle cx="979.9" cy="663.1"/><circle cx="385.4" cy="411.9"/><circle cx="702.2" cy="858.9"/><circle cx="774.1" cy="583.3"/><circle cx="696.6" cy="135.0"/><circle cx="611.5" cy="394.0"/><circle cx="679.7" cy="119.5"/><circle cx="970.1" cy="694.7"/><circle cx="561.3" cy="767.4"/><circle cx="720.6" cy="861.7"/><circle cx="1012.8" cy="712.5"/><circle cx="205.9" cy="550.8"/><circle cx="752.4" cy="548.2"/><circle cx="705.2" cy="164.1"/><circle cx="1025.1" cy="658.8"/><circle cx="199.5" cy="545.3"/><circle cx="715.5" cy="180.7"/><circle cx="332.3" cy="826.7"/><circle cx="703.5" cy="449.5"/><circle cx="541.7" cy="774.5"/><circle cx="928.9" cy="782.7"/><circle cx="216.1" cy="564.4"/><circle cx="741.5" cy="203.8"/><circle cx="487.4" cy="585.1"/><circle cx="719.0" cy="462.9"/><circle cx="589.6" cy="406.8"/><circle cx="546.0" cy="240.6"/><circle cx="333.5" cy="796.9"/><circle cx="367.0" cy="773.3"/><circle cx="306.2" cy="820.4"/><circle cx="719.5" cy="223.2"/><circle cx="604.3" cy="378.9"/><circle cx="380.6" cy="782.1"/><circle cx="1040.9" cy="698.4"/><circle cx="183.6" cy="548.2"/><circle cx="953.8" cy="722.5"/><circle cx="370.7" cy="792.3"/><circle cx="1004.0" cy="754.2"/><circle cx="1006.0" cy="744.7"/><circle cx="510.5" cy="572.4"/><circle cx="687.6" cy="130.0"/><circle cx="630.8" cy="701.2"/><circle cx="976.4" cy="672.7"/><circle cx="919.7" cy="745.6"/><circle cx="679.7" cy="238.7"/><circle cx="446.2" cy="587.0"/><circle cx="318.9" cy="838.9"/><circle cx="490.0" cy="490.0"/><circle cx="719.9" cy="211.7"/><circle cx="612.1" cy="455.2"/><circle cx="329.3" cy="853.5"/><circle cx="457.9" cy="576.6"/><circle cx="776.2" cy="309.0"/><circle cx="350.3" cy="834.4"/><circle cx="637.4" cy="662.2"/><circle cx="1047.4" cy="677.4"/><circle cx="1029.0" cy="648.3"/><circle cx="356.3" cy="854.4"/><circle cx="1024.9" cy="665.8"/><circle cx="182.1" cy="514.7"/><circle cx="476.3" cy="870.1"/><circle cx="606.8" cy="466.0"/><circle cx="389.2" cy="393.5"/><circle cx="672.1" cy="173.4"/><circle cx="563.9" cy="775.0"/><circle cx="921.0" cy="734.8"/><circle cx="1048.8" cy="654.0"/><circle cx="291.5" cy="841.5"/><circle cx="664.5" cy="164.5"/><circle cx="371.6" cy="835.6"/><circle cx="389.4" cy="415.1"/><circle cx="691.9" cy="422.8"/><circle cx="975.2" cy="743.4"/><circle cx="290.1" cy="826.0"/><circle cx="692.5" cy="189.5"/><circle cx="340.2" cy="742.4"/><circle cx="1002.7" cy="694.0"/><circle cx="641.1" cy="677.2"/><circle cx="709.8" cy="858.4"/><circle cx="757.0" cy="578.0"/><circle cx="555.3" cy="234.7"/><circle cx="619.3" cy="698.2"/><circle cx="720.1" cy="166.9"/><circle cx="818.1" cy="284.3"/><circle cx="440.9" cy="835.5"/><circle cx="651.7" cy="433.3"/><circle cx="436.0" cy="827.8"/><circle cx="721.9" cy="169.9"/><circle cx="288.0" cy="394.0"/><circle cx="986.9" cy="779.7"/><circle cx="437.7" cy="571.1"/><circle cx="802.0" cy="289.5"/><circle cx="697.3" cy="114.9"/><circle cx="972.4" cy="689.9"/><circle cx="506.8" cy="883.9"/><circle cx="333.8" cy="733.2"/><circle cx="233.9" cy="576.8"/><circle cx="463.3" cy="565.4"/><circle cx="996.0" cy="728.0"/><circle cx="162.2" cy="563.1"/><circle cx="332.5" cy="847.2"/><circle cx="335.5" cy="804.7"/><circle cx="705.5" cy="141.0"/><circle cx="627.8" cy="896.7"/><circle cx="703.6" cy="140.5"/><circle cx="1026.2" cy="750.4"/><circle cx="613.5" cy="691.2"/><circle cx="313.8" cy="856.1"/><circle cx="382.0" cy="764.2"/><circle cx="1029.9" cy="688.6"/><circle cx="978.2" cy="685.7"/><circle cx="596.1" cy="683.9"/><circle cx="422.8" cy="558.1"/><circle cx="603.7" cy="381.1"/><circle cx="167.9" cy="547.0"/><circle cx="1012.6" cy="755.3"/><circle cx="916.1" cy="739.3"/><circle cx="595.8" cy="719.5"/><circle cx="387.1" cy="393.1"/><circle cx="202.6" cy="548.1"/><circle cx="674.7" cy="141.0"/><circle cx="298.9" cy="825.0"/><circle cx="708.7" cy="166.3"/><circle cx="453.7" cy="559.7"/><circle cx="986.6" cy="645.7"/><circle cx="535.9" cy="1004.0"/><circle cx="801.5" cy="294.0"/><circle cx="598.4" cy="382.3"/><circle cx="991.6" cy="766.6"/><circle cx="613.1" cy="420.7"/><circle cx="486.7" cy="579.8"/><circle cx="616.2" cy="403.8"/><circle cx="314.5" cy="851.6"/><circle cx="752.6" cy="590.5"/><circle cx="596.0" cy="722.0"/><circle cx="658.0" cy="983.0"/><circle cx="721.4" cy="455.9"/><circle cx="383.1" cy="802.3"/><circle cx="488.9" cy="590.9"/><circle cx="704.0" cy="442.8"/><circle cx="976.5" cy="708.6"/><circle cx="748.3" cy="553.8"/><circle cx="359.0" cy="751.8"/><circle cx="197.6" cy="559.7"/><circle cx="425.2" cy="820.5"/><circle cx="392.0" cy="398.5"/><circle cx="988.7" cy="661.1"/><circle cx="597.1" cy="391.1"/><circle cx="609.5" cy="693.4"/><circle cx="389.3" cy="822.7"/><circle cx="835.7" cy="287.6"/><circle cx="235.1" cy="531.2"/><circle cx="418.6" cy="557.7"/><circle cx="699.6" cy="139.1"/><circle cx="728.8" cy="455.6"/><circle cx="954.0" cy="692.3"/><circle cx="348.3" cy="747.0"/><circle cx="608.6" cy="678.6"/><circle cx="447.5" cy="846.9"/><circle cx="950.3" cy="776.8"/><circle cx="574.7" cy="228.6"/><circle cx="351.0" cy="791.0"/><circle cx="590.6" cy="452.8"/><circle cx="727.1" cy="129.6"/><circle cx="973.1" cy="636.9"/><circle cx="738.0" cy="201.5"/><circle cx="244.1" cy="573.9"/><circle cx="735.9" cy="157.9"/><circle cx="1030.9" cy="758.3"/><circle cx="316.3" cy="834.3"/><circle cx="980.5" cy="657.2"/><circle cx="982.9" cy="740.3"/><circle cx="947.4" cy="737.9"/><circle cx="519.2" cy="972.6"/><circle cx="1041.5" cy="709.7"/><circle cx="938.5" cy="740.6"/><circle cx="306.9" cy="793.6"/><circle cx="353.7" cy="827.2"/><circle cx="449.7" cy="586.3"/><circle cx="183.5" cy="557.2"/><circle cx="324.5" cy="855.7"/><circle cx="693.0" cy="434.8"/><circle cx="550.8" cy="234.1"/><circle cx="735.5" cy="177.1"/><circle cx="663.3" cy="166.0"/><circle cx="611.2" cy="840.0"/><circle cx="446.3" cy="584.3"/><circle cx="430.0" cy="546.6"/><circle cx="381.3" cy="786.2"/><circle cx="614.9" cy="671.5"/><circle cx="725.4" cy="180.0"/><circle cx="984.4" cy="757.4"/><circle cx="929.2" cy="718.1"/><circle cx="667.1" cy="158.9"/><circle cx="408.8" cy="795.2"/><circle cx="680.0" cy="191.2"/><circle cx="946.2" cy="723.1"/><circle cx="304.0" cy="822.5"/><circle cx="506.2" cy="550.2"/><circle cx="238.5" cy="550.9"/><circle cx="580.8" cy="773.5"/><circle cx="677.5" cy="247.5"/><circle cx="356.5" cy="825.5"/><circle cx="733.7" cy="851.9"/><circle cx="344.0" cy="789.4"/><circle cx="686.4" cy="138.2"/><circle cx="406.3" cy="811.7"/><circle cx="469.6" cy="562.5"/><circle cx="997.4" cy="776.5"/><circle cx="989.2" cy="711.0"/><circle cx="821.8" cy="306.2"/><circle cx="221.2" cy="568.2"/><circle cx="384.9" cy="843.0"/><circle cx="669.6" cy="158.6"/><circle cx="912.1" cy="708.2"/><circle cx="677.6" cy="711.6"/><circle cx="970.8" cy="734.8"/><circle cx="698.1" cy="129.9"/><circle cx="716.2" cy="182.1"/><circle cx="245.8" cy="576.4"/><circle cx="362.2" cy="803.2"/><circle cx="426.3" cy="555.3"/><circle cx="949.6" cy="734.3"/><circle cx="717.6" cy="136.4"/><circle cx="723.3" cy="127.9"/><circle cx="1008.8" cy="713.6"/><circle cx="842.7" cy="283.3"/><circle cx="1006.2" cy="754.2"/><circle cx="1041.3" cy="695.2"/><circle cx="354.0" cy="801.0"/><circle cx="394.8" cy="816.3"/><circle cx="344.1" cy="719.1"/><circle cx="213.8" cy="548.3"/><circle cx="988.0" cy="689.1"/><circle cx="826.4" cy="297.7"/><circle cx="462.6" cy="582.5"/><circle cx="767.8" cy="235.1"/><circle cx="715.0" cy="272.0"/><circle cx="961.3" cy="726.2"/><circle cx="1018.8" cy="705.6"/><circle cx="511.6" cy="552.4"/><circle cx="190.3" cy="517.2"/><circle cx="429.7" cy="441.9"/><circle cx="717.5" cy="182.9"/><circle cx="688.4" cy="121.2"/><circle cx="676.1" cy="437.4"/><circle cx="732.4" cy="555.6"/><circle cx="534.2" cy="507.5"/><circle cx="661.2" cy="123.2"/><circle cx="317.7" cy="803.7"/><circle cx="591.6" cy="432.3"/><circle cx="611.6" cy="407.7"/><circle cx="236.4" cy="525.5"/><circle cx="628.6" cy="681.1"/><circle cx="609.8" cy="701.6"/><circle cx="337.8" cy="742.9"/><circle cx="1001.5" cy="696.5"/><circle cx="968.1" cy="677.7"/><circle cx="593.8" cy="444.7"/><circle cx="653.7" cy="241.2"/><circle cx="340.1" cy="823.5"/><circle cx="400.8" cy="398.3"/><circle cx="954.2" cy="764.0"/><circle cx="210.0" cy="509.0"/><circle cx="1006.3" cy="737.5"/><circle cx="1000.5" cy="735.6"/><circle cx="738.1" cy="601.5"/><circle cx="702.0" cy="435.6"/><circle cx="502.6" cy="536.2"/><circle cx="322.3" cy="801.5"/><circle cx="360.8" cy="815.8"/><circle cx="659.2" cy="462.5"/><circle cx="715.5" cy="439.3"/><circle cx="961.8" cy="776.8"/><circle cx="677.6" cy="117.5"/><circle cx="595.3" cy="229.9"/><circle cx="540.9" cy="220.3"/><circle cx="708.6" cy="132.3"/><circle cx="779.1" cy="596.8"/><circle cx="732.5" cy="186.1"/><circle cx="930.1" cy="771.7"/><circle cx="941.4" cy="686.6"/><circle cx="501.7" cy="572.2"/><circle cx="359.3" cy="821.1"/><circle cx="996.3" cy="750.4"/><circle cx="600.4" cy="690.8"/><circle cx="355.0" cy="822.9"/><circle cx="799.3" cy="318.4"/><circle cx="518.2" cy="450.1"/><circle cx="319.0" cy="811.1"/><circle cx="697.1" cy="457.5"/><circle cx="624.9" cy="684.0"/><circle cx="699.3" cy="853.3"/><circle cx="597.9" cy="453.0"/><circle cx="228.7" cy="571.7"/><circle cx="783.7" cy="297.6"/><circle cx="605.9" cy="689.8"/><circle cx="440.5" cy="415.0"/><circle cx="517.0" cy="556.1"/><circle cx="782.3" cy="286.2"/><circle cx="1023.0" cy="684.8"/><circle cx="1065.4" cy="667.6"/><circle cx="1017.8" cy="762.8"/><circle cx="1028.5" cy="637.8"/><circle cx="627.5" cy="698.7"/><circle cx="508.7" cy="565.2"/><circle cx="466.5" cy="580.2"/><circle cx="917.0" cy="780.7"/><circle cx="700.7" cy="170.8"/><circle cx="691.3" cy="452.5"/><circle cx="665.7" cy="717.1"/><circle cx="988.4" cy="755.7"/><circle cx="618.3" cy="414.7"/><circle cx="750.2" cy="214.9"/><circle cx="468.9" cy="576.2"/><circle cx="227.8" cy="513.7"/><circle cx="621.6" cy="694.7"/><circle cx="506.7" cy="875.5"/><circle cx="667.2" cy="156.1"/><circle cx="711.1" cy="474.9"/><circle cx="753.2" cy="548.5"/><circle cx="599.7" cy="381.9"/><circle cx="840.3" cy="288.2"/><circle cx="708.8" cy="135.1"/><circle cx="574.2" cy="230.4"/><circle cx="952.0" cy="768.9"/><circle cx="380.1" cy="775.8"/><circle cx="936.2" cy="778.2"/><circle cx="445.3" cy="574.8"/><circle cx="531.7" cy="445.0"/><circle cx="585.8" cy="423.1"/><circle cx="732.2" cy="167.9"/><circle cx="171.6" cy="541.9"/><circle cx="961.6" cy="718.5"/><circle cx="578.8" cy="756.2"/><circle cx="710.0" cy="937.5"/><circle cx="693.1" cy="118.4"/><circle cx="624.4" cy="419.3"/><circle cx="725.9" cy="589.6"/><circle cx="426.2" cy="557.2"/><circle cx="564.6" cy="226.0"/><circle cx="473.1" cy="570.8"/><circle cx="359.6" cy="772.4"/><circle cx="733.3" cy="596.5"/><circle cx="695.0" cy="258.8"/><circle cx="443.3" cy="847.4"/><circle cx="298.2" cy="832.2"/><circle cx="513.4" cy="452.4"/><circle cx="981.9" cy="770.9"/><circle cx="507.5" cy="398.3"/><circle cx="988.0" cy="733.1"/><circle cx="371.4" cy="841.1"/><circle cx="407.5" cy="403.8"/><circle cx="1056.8" cy="675.9"/><circle cx="562.5" cy="763.5"/><circle cx="1029.2" cy="752.0"/><circle cx="704.7" cy="182.1"/><circle cx="715.5" cy="163.8"/><circle cx="571.7" cy="235.7"/><circle cx="307.5" cy="804.7"/><circle cx="693.1" cy="437.0"/><circle cx="795.2" cy="267.7"/><circle cx="583.9" cy="232.5"/><circle cx="631.7" cy="909.4"/><circle cx="500.8" cy="515.8"/><circle cx="674.7" cy="151.9"/><circle cx="238.7" cy="540.9"/><circle cx="225.4" cy="575.2"/><circle cx="728.7" cy="206.2"/><circle cx="213.1" cy="531.3"/><circle cx="373.0" cy="849.0"/><circle cx="471.5" cy="857.2"/><circle cx="598.9" cy="656.3"/><circle cx="972.7" cy="749.7"/><circle cx="725.3" cy="590.2"/><circle cx="466.1" cy="587.3"/><circle cx="320.7" cy="804.4"/><circle cx="427.4" cy="547.4"/><circle cx="1013.3" cy="665.7"/><circle cx="697.7" cy="151.4"/><circle cx="642.1" cy="426.7"/><circle cx="633.4" cy="421.2"/><circle cx="692.4" cy="176.7"/><circle cx="407.1" cy="826.7"/><circle cx="722.0" cy="170.6"/><circle cx="666.4" cy="166.8"/><circle cx="463.8" cy="566.1"/><circle cx="195.0" cy="517.4"/><circle cx="543.0" cy="211.6"/><circle cx="493.8" cy="569.4"/><circle cx="552.0" cy="233.6"/><circle cx="990.4" cy="676.3"/><circle cx="682.0" cy="122.2"/><circle cx="193.7" cy="547.0"/><circle cx="943.3" cy="674.6"/><circle cx="602.2" cy="450.3"/><circle cx="713.0" cy="450.3"/><circle cx="321.6" cy="793.8"/><circle cx="983.9" cy="685.9"/><circle cx="475.8" cy="586.2"/><circle cx="221.8" cy="538.1"/><circle cx="384.6" cy="792.8"/><circle cx="1017.8" cy="629.5"/><circle cx="373.2" cy="793.1"/><circle cx="664.1" cy="129.1"/><circle cx="1019.1" cy="700.8"/><circle cx="177.3" cy="537.8"/><circle cx="587.3" cy="463.2"/><circle cx="1023.0" cy="648.4"/><circle cx="1020.8" cy="724.9"/><circle cx="786.4" cy="566.6"/><circle cx="978.3" cy="630.1"/><circle cx="478.1" cy="860.9"/><circle cx="679.4" cy="172.9"/><circle cx="918.1" cy="768.6"/><circle cx="703.7" cy="467.8"/><circle cx="511.8" cy="455.9"/><circle cx="698.6" cy="183.8"/><circle cx="675.1" cy="132.6"/><circle cx="685.7" cy="176.4"/><circle cx="973.9" cy="673.8"/><circle cx="725.0" cy="943.8"/><circle cx="735.8" cy="155.1"/><circle cx="616.6" cy="679.6"/><circle cx="802.7" cy="318.8"/><circle cx="331.4" cy="726.8"/><circle cx="644.4" cy="673.3"/><circle cx="309.0" cy="834.7"/><circle cx="342.6" cy="775.8"/><circle cx="950.5" cy="719.2"/><circle cx="432.4" cy="590.0"/><circle cx="1011.2" cy="714.3"/><circle cx="723.1" cy="161.8"/><circle cx="584.0" cy="741.5"/><circle cx="371.2" cy="811.9"/><circle cx="705.7" cy="859.0"/><circle cx="980.8" cy="686.9"/><circle cx="719.3" cy="223.1"/><circle cx="841.7" cy="287.9"/><circle cx="154.7" cy="561.1"/><circle cx="759.0" cy="579.0"/><circle cx="790.3" cy="234.8"/><circle cx="482.5" cy="471.3"/><circle cx="634.7" cy="702.7"/><circle cx="601.2" cy="659.0"/><circle cx="1015.4" cy="630.9"/><circle cx="1039.6" cy="736.8"/><circle cx="580.0" cy="767.0"/><circle cx="457.5" cy="440.3"/><circle cx="515.6" cy="446.2"/><circle cx="996.1" cy="708.9"/><circle cx="1062.1" cy="680.6"/><circle cx="1053.8" cy="660.3"/><circle cx="1014.3" cy="678.2"/><circle cx="503.8" cy="878.0"/><circle cx="958.9" cy="709.6"/><circle cx="1017.7" cy="638.8"/></g><g fill="#AA89E7"><circle cx="327.2" cy="735.5"/><circle cx="344.2" cy="859.2"/><circle cx="182.3" cy="543.2"/><circle cx="159.8" cy="535.5"/><circle cx="640.3" cy="243.7"/><circle cx="573.8" cy="455.5"/><circle cx="391.8" cy="830.7"/><circle cx="608.3" cy="409.2"/><circle cx="213.1" cy="527.9"/><circle cx="519.7" cy="1014.8"/><circle cx="299.8" cy="822.0"/><circle cx="158.9" cy="558.3"/><circle cx="609.2" cy="438.0"/><circle cx="942.2" cy="703.3"/><circle cx="1018.7" cy="653.8"/><circle cx="423.3" cy="557.5"/><circle cx="237.0" cy="562.5"/><circle cx="480.0" cy="561.2"/><circle cx="709.3" cy="129.8"/><circle cx="675.8" cy="150.8"/><circle cx="627.8" cy="417.2"/><circle cx="420.3" cy="443.3"/><circle cx="597.5" cy="405.0"/><circle cx="157.3" cy="540.3"/><circle cx="723.8" cy="849.2"/><circle cx="435.5" cy="575.8"/><circle cx="591.7" cy="455.3"/><circle cx="210.9" cy="551.5"/><circle cx="961.7" cy="645.0"/><circle cx="627.5" cy="450.0"/><circle cx="432.5" cy="584.7"/><circle cx="624.5" cy="664.7"/><circle cx="520.3" cy="445.3"/><circle cx="685.0" cy="132.1"/><circle cx="365.5" cy="817.2"/><circle cx="817.6" cy="236.7"/><circle cx="331.4" cy="801.8"/><circle cx="543.7" cy="246.2"/><circle cx="546.7" cy="316.7"/><circle cx="499.2" cy="579.5"/><circle cx="196.6" cy="539.4"/><circle cx="385.0" cy="803.2"/><circle cx="394.2" cy="417.5"/><circle cx="801.8" cy="231.2"/><circle cx="609.8" cy="666.2"/><circle cx="354.6" cy="805.5"/><circle cx="290.5" cy="823.2"/><circle cx="490.0" cy="454.2"/><circle cx="674.2" cy="141.2"/><circle cx="308.2" cy="849.8"/><circle cx="671.5" cy="143.3"/><circle cx="581.8" cy="746.0"/><circle cx="507.5" cy="564.2"/><circle cx="710.8" cy="436.7"/><circle cx="251.4" cy="501.4"/><circle cx="655.0" cy="434.5"/><circle cx="464.5" cy="859.4"/><circle cx="367.4" cy="844.5"/><circle cx="802.3" cy="309.7"/><circle cx="664.8" cy="155.0"/><circle cx="177.9" cy="544.9"/><circle cx="357.6" cy="777.5"/><circle cx="629.5" cy="924.2"/><circle cx="435.0" cy="565.3"/><circle cx="598.3" cy="387.5"/><circle cx="317.8" cy="769.2"/><circle cx="531.4" cy="1003.6"/><circle cx="235.5" cy="551.0"/><circle cx="935.0" cy="730.5"/><circle cx="463.3" cy="588.3"/><circle cx="658.2" cy="697.8"/><circle cx="470.5" cy="441.3"/><circle cx="757.6" cy="207.9"/><circle cx="382.0" cy="816.5"/><circle cx="328.0" cy="862.2"/><circle cx="490.3" cy="487.5"/><circle cx="566.7" cy="530.0"/><circle cx="400.2" cy="402.5"/><circle cx="206.0" cy="513.0"/><circle cx="169.7" cy="543.8"/><circle cx="427.8" cy="540.0"/><circle cx="213.7" cy="519.6"/><circle cx="355.8" cy="773.0"/><circle cx="670.0" cy="148.3"/><circle cx="202.7" cy="500.4"/><circle cx="227.7" cy="540.8"/><circle cx="767.8" cy="224.2"/><circle cx="614.5" cy="469.2"/><circle cx="413.3" cy="434.2"/><circle cx="605.8" cy="398.3"/><circle cx="385.4" cy="795.8"/><circle cx="781.2" cy="258.7"/><circle cx="718.3" cy="187.5"/><circle cx="350.2" cy="845.2"/><circle cx="357.6" cy="841.2"/><circle cx="781.3" cy="311.0"/><circle cx="432.5" cy="444.7"/><circle cx="481.7" cy="350.8"/><circle cx="521.0" cy="1008.3"/><circle cx="199.4" cy="522.9"/><circle cx="470.8" cy="458.3"/><circle cx="169.7" cy="541.0"/><circle cx="575.0" cy="249.2"/><circle cx="609.2" cy="403.7"/><circle cx="185.1" cy="538.3"/><circle cx="562.2" cy="497.2"/><circle cx="796.3" cy="220.8"/><circle cx="621.7" cy="465.0"/><circle cx="172.4" cy="519.6"/><circle cx="168.8" cy="560.5"/><circle cx="391.3" cy="389.7"/><circle cx="591.7" cy="391.7"/><circle cx="627.5" cy="923.2"/><circle cx="215.9" cy="544.4"/><circle cx="989.5" cy="667.5"/><circle cx="164.8" cy="537.2"/><circle cx="566.3" cy="440.5"/><circle cx="511.1" cy="875.4"/><circle cx="177.4" cy="559.0"/><circle cx="684.2" cy="158.5"/><circle cx="610.8" cy="452.5"/><circle cx="257.1" cy="488.8"/><circle cx="700.0" cy="121.7"/><circle cx="595.8" cy="435.8"/><circle cx="787.5" cy="279.3"/><circle cx="666.5" cy="148.3"/><circle cx="188.9" cy="543.2"/><circle cx="981.7" cy="669.5"/><circle cx="165.8" cy="526.8"/><circle cx="485.8" cy="354.7"/><circle cx="210.4" cy="527.9"/><circle cx="415.0" cy="420.8"/><circle cx="589.2" cy="405.0"/><circle cx="405.3" cy="415.8"/><circle cx="428.3" cy="397.8"/><circle cx="390.5" cy="394.7"/><circle cx="565.8" cy="525.0"/><circle cx="377.2" cy="728.5"/><circle cx="154.8" cy="554.8"/><circle cx="451.7" cy="579.2"/><circle cx="893.0" cy="705.3"/><circle cx="214.8" cy="538.1"/><circle cx="431.1" cy="830.8"/><circle cx="689.8" cy="141.7"/><circle cx="472.5" cy="588.7"/><circle cx="456.8" cy="852.1"/><circle cx="316.0" cy="825.5"/><circle cx="516.7" cy="552.8"/><circle cx="395.2" cy="769.5"/><circle cx="161.4" cy="531.1"/><circle cx="379.8" cy="826.8"/><circle cx="693.2" cy="176.8"/><circle cx="676.2" cy="114.2"/><circle cx="224.7" cy="546.0"/><circle cx="624.2" cy="403.0"/><circle cx="617.0" cy="696.0"/><circle cx="488.3" cy="456.7"/><circle cx="689.2" cy="455.8"/><circle cx="609.2" cy="450.0"/><circle cx="715.0" cy="446.7"/><circle cx="347.2" cy="778.5"/><circle cx="328.4" cy="773.5"/><circle cx="346.4" cy="787.5"/><circle cx="694.2" cy="167.7"/><circle cx="213.7" cy="513.0"/><circle cx="221.6" cy="527.3"/><circle cx="823.0" cy="289.7"/><circle cx="607.5" cy="377.8"/><circle cx="180.7" cy="535.0"/><circle cx="194.4" cy="539.4"/><circle cx="151.6" cy="537.8"/><circle cx="346.8" cy="807.0"/><circle cx="205.4" cy="571.3"/><circle cx="394.0" cy="817.0"/><circle cx="715.0" cy="441.7"/><circle cx="503.0" cy="553.7"/><circle cx="634.2" cy="433.0"/><circle cx="750.8" cy="201.5"/><circle cx="373.3" cy="841.8"/><circle cx="581.5" cy="744.5"/><circle cx="484.6" cy="875.2"/><circle cx="620.5" cy="656.8"/><circle cx="218.1" cy="511.9"/><circle cx="666.7" cy="127.5"/><circle cx="356.1" cy="742.8"/><circle cx="440.0" cy="595.0"/><circle cx="725.8" cy="843.8"/><circle cx="625.8" cy="459.2"/><circle cx="514.2" cy="529.5"/><circle cx="752.6" cy="198.0"/><circle cx="749.0" cy="552.6"/><circle cx="191.7" cy="541.6"/><circle cx="597.5" cy="400.8"/><circle cx="170.8" cy="549.3"/><circle cx="336.6" cy="828.5"/><circle cx="718.0" cy="850.5"/><circle cx="636.7" cy="427.0"/><circle cx="722.0" cy="942.0"/><circle cx="704.5" cy="850.0"/><circle cx="614.5" cy="691.3"/><circle cx="173.0" cy="543.8"/><circle cx="156.5" cy="535.0"/><circle cx="364.0" cy="815.2"/><circle cx="818.5" cy="229.7"/><circle cx="188.4" cy="540.5"/><circle cx="680.0" cy="158.3"/><circle cx="665.0" cy="151.7"/><circle cx="716.7" cy="148.8"/><circle cx="478.7" cy="439.2"/><circle cx="351.7" cy="832.5"/><circle cx="473.3" cy="466.7"/><circle cx="635.3" cy="464.7"/><circle cx="347.1" cy="742.8"/><circle cx="337.4" cy="737.5"/><circle cx="660.0" cy="249.2"/><circle cx="521.4" cy="1017.0"/><circle cx="697.5" cy="118.3"/><circle cx="228.3" cy="528.7"/><circle cx="177.4" cy="541.6"/><circle cx="481.7" cy="462.5"/><circle cx="196.1" cy="529.0"/><circle cx="202.7" cy="516.3"/><circle cx="350.2" cy="838.2"/><circle cx="523.6" cy="995.3"/><circle cx="180.2" cy="546.0"/><circle cx="323.5" cy="831.5"/><circle cx="304.0" cy="842.2"/><circle cx="404.2" cy="435.0"/><circle cx="217.0" cy="508.6"/><circle cx="622.5" cy="878.5"/><circle cx="502.5" cy="387.5"/><circle cx="335.8" cy="817.8"/><circle cx="717.9" cy="168.5"/><circle cx="168.1" cy="547.1"/><circle cx="358.3" cy="788.2"/><circle cx="692.9" cy="125.2"/><circle cx="711.0" cy="160.7"/><circle cx="711.7" cy="455.3"/><circle cx="204.3" cy="507.5"/><circle cx="151.0" cy="543.8"/><circle cx="366.6" cy="840.0"/><circle cx="603.0" cy="405.0"/><circle cx="510.5" cy="522.5"/><circle cx="196.6" cy="562.7"/><circle cx="170.8" cy="522.9"/><circle cx="420.5" cy="552.0"/><circle cx="174.1" cy="547.1"/><circle cx="745.6" cy="211.7"/><circle cx="731.8" cy="722.5"/><circle cx="185.1" cy="530.6"/><circle cx="494.2" cy="515.3"/><circle cx="171.9" cy="546.0"/><circle cx="259.4" cy="491.6"/><circle cx="483.3" cy="590.8"/><circle cx="774.4" cy="590.6"/><circle cx="393.3" cy="401.7"/><circle cx="617.5" cy="405.5"/><circle cx="631.3" cy="431.3"/><circle cx="1001.2" cy="748.7"/><circle cx="393.3" cy="422.5"/><circle cx="599.2" cy="395.8"/><circle cx="376.0" cy="825.8"/><circle cx="787.8" cy="314.8"/><circle cx="725.0" cy="204.2"/><circle cx="354.2" cy="835.5"/><circle cx="612.2" cy="430.8"/><circle cx="182.9" cy="532.8"/><circle cx="203.8" cy="503.6"/><circle cx="173.0" cy="537.2"/><circle cx="476.7" cy="464.2"/><circle cx="184.0" cy="514.1"/><circle cx="672.5" cy="229.3"/><circle cx="242.3" cy="570.2"/><circle cx="506.3" cy="526.2"/><circle cx="389.2" cy="421.7"/><circle cx="651.3" cy="465.3"/><circle cx="482.5" cy="583.3"/><circle cx="197.2" cy="509.1"/><circle cx="803.8" cy="792.5"/><circle cx="359.5" cy="824.2"/><circle cx="438.1" cy="841.0"/><circle cx="191.7" cy="533.4"/><circle cx="350.5" cy="841.5"/><circle cx="720.4" cy="178.2"/><circle cx="587.5" cy="386.7"/><circle cx="213.1" cy="524.0"/><circle cx="176.3" cy="538.3"/><circle cx="469.2" cy="469.2"/><circle cx="349.8" cy="806.2"/><circle cx="664.7" cy="438.0"/><circle cx="197.2" cy="545.5"/><circle cx="320.5" cy="841.0"/><circle cx="708.2" cy="850.0"/><circle cx="368.5" cy="810.8"/><circle cx="236.8" cy="548.2"/><circle cx="580.0" cy="225.8"/><circle cx="937.2" cy="667.5"/><circle cx="494.2" cy="555.0"/><circle cx="204.0" cy="543.6"/><circle cx="367.3" cy="779.2"/><circle cx="184.6" cy="526.2"/><circle cx="589.7" cy="228.0"/><circle cx="423.8" cy="565.3"/><circle cx="180.7" cy="542.1"/><circle cx="201.6" cy="531.7"/><circle cx="160.7" cy="524.0"/><circle cx="183.4" cy="540.0"/><circle cx="329.5" cy="743.2"/><circle cx="401.2" cy="833.2"/><circle cx="222.7" cy="569.6"/><circle cx="342.7" cy="825.0"/><circle cx="340.0" cy="834.0"/><circle cx="703.8" cy="178.3"/><circle cx="534.4" cy="990.6"/><circle cx="189.5" cy="535.0"/><circle cx="365.9" cy="804.0"/><circle cx="310.0" cy="858.0"/><circle cx="690.0" cy="177.5"/><circle cx="346.4" cy="800.2"/><circle cx="362.1" cy="853.5"/><circle cx="530.1" cy="997.5"/><circle cx="676.8" cy="140.4"/><circle cx="682.9" cy="126.0"/><circle cx="491.0" cy="348.3"/><circle cx="510.0" cy="562.8"/><circle cx="585.3" cy="237.8"/><circle cx="570.8" cy="246.2"/><circle cx="193.6" cy="568.0"/><circle cx="348.2" cy="830.2"/><circle cx="467.2" cy="559.7"/><circle cx="730.0" cy="154.2"/><circle cx="695.8" cy="451.3"/><circle cx="716.7" cy="183.3"/><circle cx="834.5" cy="283.7"/><circle cx="700.5" cy="464.5"/><circle cx="536.3" cy="509.2"/><circle cx="699.5" cy="854.8"/><circle cx="386.7" cy="414.2"/><circle cx="714.6" cy="175.0"/><circle cx="703.3" cy="454.2"/><circle cx="307.8" cy="846.0"/><circle cx="719.2" cy="184.2"/><circle cx="464.2" cy="471.7"/><circle cx="840.0" cy="290.3"/><circle cx="532.2" cy="997.1"/><circle cx="979.7" cy="716.7"/><circle cx="181.8" cy="548.2"/><circle cx="198.3" cy="549.3"/><circle cx="172.4" cy="540.0"/><circle cx="795.8" cy="225.8"/><circle cx="732.9" cy="171.2"/><circle cx="174.7" cy="527.9"/><circle cx="562.2" cy="497.0"/><circle cx="328.0" cy="753.8"/><circle cx="207.6" cy="538.1"/><circle cx="781.2" cy="258.4"/><circle cx="643.7" cy="437.5"/><circle cx="775.5" cy="247.5"/><circle cx="177.9" cy="537.2"/><circle cx="588.3" cy="546.7"/><circle cx="562.5" cy="487.8"/><circle cx="802.4" cy="224.5"/><circle cx="189.5" cy="520.7"/><circle cx="805.5" cy="791.2"/><circle cx="663.7" cy="427.8"/><circle cx="488.3" cy="460.0"/><circle cx="505.0" cy="569.2"/><circle cx="608.0" cy="413.3"/><circle cx="672.9" cy="149.2"/><circle cx="490.8" cy="477.5"/><circle cx="679.6" cy="117.1"/><circle cx="394.2" cy="430.0"/><circle cx="661.7" cy="247.2"/><circle cx="415.0" cy="435.8"/><circle cx="201.6" cy="524.0"/><circle cx="670.4" cy="158.3"/><circle cx="466.7" cy="590.0"/><circle cx="623.8" cy="675.2"/><circle cx="542.5" cy="255.3"/><circle cx="399.6" cy="780.5"/><circle cx="433.5" cy="826.4"/><circle cx="157.1" cy="551.5"/><circle cx="718.8" cy="125.4"/><circle cx="340.8" cy="730.5"/><circle cx="190.6" cy="538.3"/><circle cx="604.2" cy="390.8"/><circle cx="534.4" cy="995.3"/><circle cx="162.6" cy="544.7"/><circle cx="185.3" cy="505.1"/><circle cx="317.1" cy="813.8"/><circle cx="591.7" cy="400.8"/><circle cx="332.9" cy="730.5"/><circle cx="946.7" cy="685.3"/><circle cx="544.0" cy="318.0"/><circle cx="431.7" cy="566.7"/><circle cx="374.1" cy="796.2"/><circle cx="692.5" cy="438.8"/><circle cx="480.3" cy="353.3"/><circle cx="706.7" cy="459.5"/><circle cx="571.3" cy="448.0"/><circle cx="343.4" cy="748.2"/><circle cx="718.2" cy="940.5"/><circle cx="511.7" cy="529.5"/><circle cx="671.2" cy="119.8"/><circle cx="345.2" cy="828.0"/><circle cx="329.8" cy="860.0"/><circle cx="432.5" cy="569.2"/><circle cx="788.0" cy="312.5"/><circle cx="203.2" cy="511.9"/><circle cx="602.5" cy="390.0"/><circle cx="344.5" cy="838.2"/><circle cx="677.8" cy="735.5"/><circle cx="810.4" cy="280.6"/><circle cx="449.5" cy="583.3"/><circle cx="302.5" cy="846.8"/><circle cx="714.2" cy="180.0"/><circle cx="208.2" cy="546.0"/><circle cx="698.3" cy="151.2"/><circle cx="184.0" cy="564.7"/><circle cx="176.3" cy="550.4"/><circle cx="565.0" cy="769.5"/><circle cx="215.3" cy="505.1"/><circle cx="193.3" cy="504.2"/><circle cx="620.3" cy="244.0"/><circle cx="902.8" cy="725.8"/><circle cx="184.0" cy="561.4"/><circle cx="618.3" cy="454.5"/><circle cx="690.8" cy="168.5"/><circle cx="748.0" cy="549.0"/><circle cx="653.3" cy="682.2"/><circle cx="315.6" cy="850.0"/><circle cx="749.2" cy="195.8"/><circle cx="607.5" cy="395.3"/><circle cx="211.5" cy="516.3"/><circle cx="352.3" cy="825.3"/><circle cx="695.4" cy="156.8"/><circle cx="306.6" cy="827.2"/><circle cx="928.0" cy="745.8"/><circle cx="166.4" cy="563.6"/><circle cx="925.0" cy="725.3"/><circle cx="369.2" cy="805.5"/><circle cx="371.5" cy="807.0"/><circle cx="808.2" cy="778.0"/><circle cx="331.4" cy="793.5"/><circle cx="705.4" cy="175.8"/><circle cx="465.3" cy="865.2"/><circle cx="341.5" cy="836.2"/><circle cx="621.3" cy="461.2"/><circle cx="422.7" cy="415.0"/><circle cx="438.0" cy="585.5"/><circle cx="198.3" cy="511.9"/><circle cx="326.8" cy="809.2"/><circle cx="382.0" cy="839.5"/><circle cx="223.1" cy="548.8"/><circle cx="164.4" cy="559.2"/><circle cx="721.2" cy="851.2"/><circle cx="678.8" cy="152.1"/><circle cx="456.6" cy="865.2"/><circle cx="664.0" cy="122.1"/><circle cx="521.4" cy="1011.6"/><circle cx="751.0" cy="546.4"/><circle cx="701.8" cy="125.4"/><circle cx="149.9" cy="549.1"/><circle cx="461.8" cy="856.7"/><circle cx="178.5" cy="548.8"/><circle cx="595.8" cy="379.2"/><circle cx="491.7" cy="505.0"/><circle cx="476.7" cy="467.5"/><circle cx="596.7" cy="395.0"/><circle cx="632.8" cy="414.3"/><circle cx="513.3" cy="557.2"/><circle cx="476.7" cy="460.8"/><circle cx="415.8" cy="441.7"/><circle cx="485.0" cy="457.5"/><circle cx="522.3" cy="989.5"/><circle cx="1046.7" cy="715.8"/><circle cx="169.2" cy="533.9"/><circle cx="493.3" cy="508.0"/><circle cx="698.8" cy="163.6"/><circle cx="503.0" cy="445.0"/><circle cx="722.5" cy="188.8"/><circle cx="196.1" cy="521.2"/><circle cx="570.0" cy="480.0"/><circle cx="337.0" cy="842.5"/><circle cx="562.8" cy="488.0"/><circle cx="754.3" cy="204.1"/><circle cx="325.4" cy="864.0"/><circle cx="603.3" cy="424.2"/><circle cx="153.2" cy="546.5"/><circle cx="460.0" cy="587.5"/><circle cx="371.2" cy="786.5"/><circle cx="364.3" cy="790.0"/><circle cx="469.5" cy="451.7"/><circle cx="177.9" cy="510.8"/><circle cx="185.1" cy="546.0"/><circle cx="358.0" cy="822.0"/><circle cx="318.7" cy="804.8"/><circle cx="209.8" cy="505.3"/><circle cx="816.4" cy="222.2"/><circle cx="406.8" cy="408.3"/><circle cx="775.6" cy="247.0"/><circle cx="164.8" cy="533.4"/><circle cx="158.2" cy="555.9"/><circle cx="186.2" cy="542.7"/><circle cx="716.2" cy="196.2"/><circle cx="778.2" cy="216.7"/><circle cx="201.1" cy="552.0"/><circle cx="363.7" cy="822.8"/><circle cx="179.6" cy="564.1"/><circle cx="752.0" cy="553.4"/><circle cx="727.5" cy="139.6"/><circle cx="773.0" cy="299.2"/><circle cx="355.0" cy="832.5"/><circle cx="695.3" cy="460.0"/><circle cx="401.3" cy="425.0"/><circle cx="714.2" cy="453.3"/><circle cx="560.5" cy="778.8"/><circle cx="611.3" cy="691.5"/><circle cx="491.7" cy="553.3"/><circle cx="699.4" cy="183.3"/><circle cx="187.3" cy="536.6"/><circle cx="230.2" cy="515.2"/><circle cx="656.3" cy="458.8"/><circle cx="477.6" cy="870.3"/><circle cx="190.6" cy="508.1"/><circle cx="740.0" cy="194.2"/><circle cx="454.7" cy="592.2"/><circle cx="386.7" cy="419.2"/><circle cx="332.1" cy="814.0"/><circle cx="374.8" cy="808.2"/><circle cx="211.5" cy="548.2"/><circle cx="388.0" cy="411.2"/><circle cx="694.8" cy="139.3"/><circle cx="348.2" cy="759.8"/><circle cx="388.7" cy="398.7"/><circle cx="390.0" cy="403.3"/><circle cx="223.1" cy="514.6"/><circle cx="258.2" cy="489.9"/><circle cx="555.8" cy="521.7"/><circle cx="466.7" cy="456.7"/><circle cx="154.3" cy="550.4"/><circle cx="503.7" cy="390.3"/><circle cx="169.7" cy="527.9"/><circle cx="578.0" cy="228.0"/><circle cx="567.5" cy="531.7"/><circle cx="355.8" cy="750.0"/><circle cx="430.0" cy="830.7"/><circle cx="759.2" cy="217.6"/><circle cx="407.5" cy="436.7"/><circle cx="466.7" cy="470.0"/><circle cx="483.3" cy="454.2"/><circle cx="728.2" cy="845.5"/><circle cx="599.7" cy="698.7"/><circle cx="603.0" cy="422.5"/><circle cx="973.7" cy="700.3"/><circle cx="725.4" cy="159.8"/><circle cx="175.2" cy="542.7"/><circle cx="237.3" cy="522.6"/><circle cx="590.8" cy="548.0"/><circle cx="186.8" cy="525.1"/><circle cx="490.0" cy="487.2"/><circle cx="737.0" cy="844.2"/><circle cx="808.4" cy="234.4"/><circle cx="471.2" cy="585.3"/><circle cx="601.0" cy="684.3"/><circle cx="520.8" cy="987.8"/><circle cx="698.3" cy="146.5"/><circle cx="497.5" cy="551.3"/><circle cx="725.0" cy="181.0"/><circle cx="701.2" cy="153.2"/><circle cx="193.9" cy="531.1"/><circle cx="721.2" cy="168.2"/><circle cx="605.3" cy="464.5"/><circle cx="688.5" cy="115.2"/><circle cx="721.2" cy="154.8"/><circle cx="674.2" cy="116.7"/><circle cx="406.3" cy="430.8"/><circle cx="580.8" cy="229.2"/><circle cx="723.5" cy="145.8"/><circle cx="690.8" cy="181.2"/><circle cx="192.8" cy="536.6"/><circle cx="734.4" cy="562.6"/><circle cx="570.0" cy="478.3"/><circle cx="492.8" cy="452.2"/><circle cx="687.1" cy="174.3"/><circle cx="375.6" cy="829.2"/><circle cx="687.7" cy="134.6"/><circle cx="351.2" cy="754.8"/><circle cx="235.4" cy="509.7"/><circle cx="789.9" cy="217.6"/><circle cx="651.8" cy="711.0"/><circle cx="382.8" cy="416.7"/><circle cx="240.1" cy="573.0"/><circle cx="485.2" cy="877.3"/></g><g fill="#8055F3"><circle cx="494.7" cy="575.8"/><circle cx="734.2" cy="189.3"/><circle cx="662.2" cy="443.8"/><circle cx="765.6" cy="205.8"/><circle cx="923.7" cy="732.2"/><circle cx="624.0" cy="662.0"/><circle cx="633.7" cy="423.5"/><circle cx="458.8" cy="449.7"/><circle cx="764.8" cy="227.4"/><circle cx="819.4" cy="216.3"/><circle cx="443.3" cy="447.5"/><circle cx="1031.7" cy="696.3"/><circle cx="982.2" cy="749.7"/><circle cx="711.2" cy="939.5"/><circle cx="990.3" cy="713.8"/><circle cx="731.2" cy="174.6"/><circle cx="394.2" cy="426.3"/><circle cx="811.7" cy="221.0"/><circle cx="584.2" cy="542.0"/><circle cx="739.8" cy="187.1"/><circle cx="586.3" cy="543.7"/><circle cx="212.6" cy="508.3"/><circle cx="739.6" cy="183.8"/><circle cx="810.3" cy="239.8"/><circle cx="714.2" cy="460.0"/><circle cx="701.3" cy="450.5"/><circle cx="573.3" cy="533.3"/><circle cx="708.0" cy="938.0"/><circle cx="588.3" cy="397.2"/><circle cx="707.8" cy="438.3"/><circle cx="581.7" cy="540.0"/><circle cx="612.0" cy="460.5"/><circle cx="648.8" cy="673.5"/><circle cx="224.1" cy="508.3"/><circle cx="499.2" cy="380.0"/><circle cx="411.3" cy="440.8"/><circle cx="441.7" cy="445.8"/><circle cx="1045.3" cy="681.7"/><circle cx="731.7" cy="142.1"/><circle cx="488.3" cy="356.7"/><circle cx="678.0" cy="251.2"/><circle cx="594.7" cy="385.8"/><circle cx="1057.0" cy="675.5"/><circle cx="984.5" cy="649.7"/><circle cx="226.6" cy="572.2"/><circle cx="357.2" cy="765.5"/><circle cx="709.7" cy="447.0"/><circle cx="773.4" cy="592.0"/><circle cx="818.1" cy="226.8"/><circle cx="705.5" cy="936.2"/><circle cx="722.5" cy="457.2"/><circle cx="452.5" cy="393.8"/><circle cx="505.3" cy="395.3"/><circle cx="716.7" cy="450.0"/><circle cx="625.3" cy="454.7"/><circle cx="579.2" cy="538.3"/><circle cx="577.5" cy="536.7"/><circle cx="716.7" cy="458.7"/><circle cx="541.3" cy="319.9"/><circle cx="785.8" cy="207.9"/><circle cx="192.0" cy="549.3"/><circle cx="939.5" cy="763.7"/><circle cx="709.5" cy="835.2"/><circle cx="708.8" cy="183.5"/><circle cx="781.4" cy="210.8"/><circle cx="206.2" cy="521.6"/><circle cx="498.0" cy="378.7"/><circle cx="436.7" cy="396.2"/><circle cx="681.7" cy="459.5"/><circle cx="1018.0" cy="725.5"/><circle cx="179.8" cy="513.3"/><circle cx="698.3" cy="437.8"/><circle cx="621.2" cy="704.0"/><circle cx="165.1" cy="550.4"/><circle cx="987.5" cy="657.8"/><circle cx="792.8" cy="219.0"/><circle cx="756.7" cy="225.4"/></g><g fill="#5630FA"><circle cx="710.8" cy="175.0"/><circle cx="832.0" cy="292.3"/><circle cx="562.0" cy="527.5"/><circle cx="472.8" cy="462.5"/><circle cx="955.5" cy="779.7"/><circle cx="732.7" cy="148.3"/></g><g fill="#0000FF"><circle cx="774.8" cy="205.8"/></g></g>
<!-- axes -->
<g stroke="#000" stroke-width="3.1" fill="none" stroke-linecap="butt">
<path d="M95.5 50.7V1119.45H1117.9" stroke-linejoin="miter"/>
<path d="M90 277.3H95.5M90 571.4H95.5M90 865.5H95.5"/>
<path d="M141.65 1119.4V1124.8M307.4 1119.4V1124.8M473.15 1119.4V1124.8M638.9 1119.4V1124.8M804.65 1119.4V1124.8M970.4 1119.4V1124.8"/>
</g>
<!-- tick labels -->
<g font-size="30.6" text-anchor="end">
<text transform="translate(88.2 287.7) scale(.95 1)">10</text>
<text transform="translate(88.2 581.8) scale(.95 1)">0</text>
<text transform="translate(88.2 875.9) scale(.95 1)">-10</text>
</g>
<g font-size="30.6" text-anchor="middle">
<text transform="translate(141.9 1147.7) scale(.95 1)">-15</text>
<text transform="translate(307.7 1147.7) scale(.95 1)">-10</text>
<text transform="translate(473.4 1147.7) scale(.95 1)">-5</text>
<text transform="translate(638.5 1147.7) scale(.95 1)">0</text>
<text transform="translate(804.4 1147.7) scale(.95 1)">5</text>
<text transform="translate(970.7 1147.7) scale(.95 1)">10</text>
</g>
<!-- axis titles -->
<text transform="translate(603.8 1180.8) scale(.962 1)" font-size="31" text-anchor="middle">umapNC_1</text>
<text transform="translate(34.4 586) rotate(-90) scale(.985 1)" font-size="31" text-anchor="middle">umapNC_2</text>
<!-- title -->
<text transform="translate(605.4 36.8) scale(.97 1)" font-size="35" font-weight="bold" text-anchor="middle">Stat5a</text>
<!-- legend -->
<rect x="1130.2" y="547.5" width="15.5" height="76.6" fill="url(#lg)"/>
<g stroke="#fff" stroke-width="0.8" stroke-opacity=".85">
<path d="M1130.2 567.5h3.2M1142.5 567.5h3.2M1130.2 586.5h3.2M1142.5 586.5h3.2M1130.2 605.5h3.2M1142.5 605.5h3.2M1130.2 548.3h3.2M1142.5 548.3h3.2"/>
</g>
<g font-size="25.4" text-anchor="start">
<text transform="translate(1154 558) scale(.95 1)">1.6</text>
<text transform="translate(1154 577) scale(.95 1)">1.2</text>
<text transform="translate(1154 596) scale(.95 1)">0.8</text>
<text transform="translate(1154 615) scale(.95 1)">0.4</text>
<text transform="translate(1154 634) scale(.95 1)">0.0</text>
</g>
</svg>
</body>
</html>
